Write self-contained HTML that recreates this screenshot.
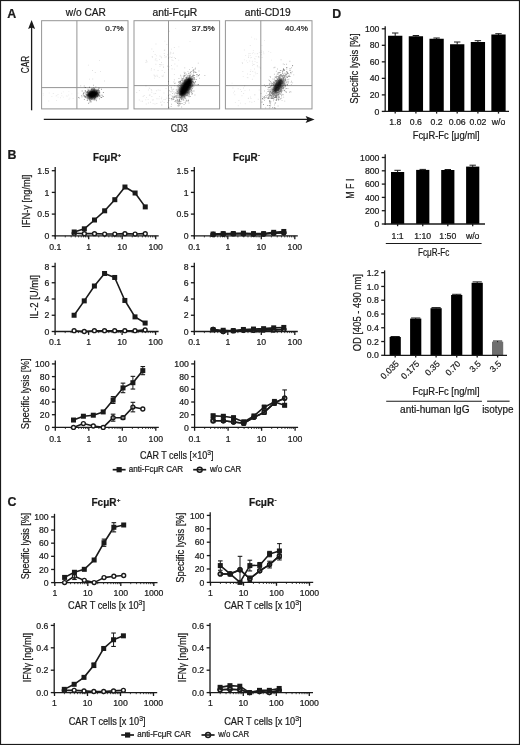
<!DOCTYPE html>
<html><head><meta charset="utf-8"><style>
html,body{margin:0;padding:0;background:#fff;}
svg{display:block;}
text{font-family:"Liberation Sans", sans-serif;stroke:#1a1a1a;stroke-width:0.22px;}
svg{filter:grayscale(1) blur(0.3px);}
</style></head><body>
<svg width="520" height="745" viewBox="0 0 520 745">
<defs><filter id="bl10" x="-50%" y="-50%" width="200%" height="200%"><feGaussianBlur stdDeviation="1.0"/></filter><filter id="bl11" x="-50%" y="-50%" width="200%" height="200%"><feGaussianBlur stdDeviation="1.1"/></filter></defs>
<rect x="0" y="0" width="520" height="745" fill="#fff"/>
<text x="7.30" y="18.30" font-size="12.4" text-anchor="start" fill="#1a1a1a" font-weight="bold" >A</text>
<line x1="31.60" y1="27.00" x2="31.60" y2="110.30" stroke="#1a1a1a" stroke-width="1.3" />
<path d="M31.6,20 L35.1,29 L31.6,27.4 L28.1,29 Z" fill="#1a1a1a"/>
<text transform="translate(28.60,64.60) rotate(-90)" font-size="10.4" text-anchor="middle" fill="#1a1a1a" textLength="17.30" lengthAdjust="spacingAndGlyphs" >CAR</text>
<line x1="43.80" y1="119.40" x2="308.00" y2="119.40" stroke="#1a1a1a" stroke-width="1.3" />
<path d="M314.6,119.4 L305.6,115.9 L307.4,119.4 L305.6,122.9 Z" fill="#1a1a1a"/>
<text x="179.30" y="131.70" font-size="10.4" text-anchor="middle" fill="#1a1a1a" textLength="17.00" lengthAdjust="spacingAndGlyphs" >CD3</text>
<rect x="41.60" y="20.70" width="86.40" height="88.20" fill="none" stroke="#959595" stroke-width="1"/>
<line x1="76.90" y1="20.70" x2="76.90" y2="108.90" stroke="#959595" stroke-width="1.0" />
<line x1="41.60" y1="87.60" x2="128.00" y2="87.60" stroke="#959595" stroke-width="1.0" />
<text x="85.90" y="15.90" font-size="10.4" text-anchor="middle" fill="#1a1a1a" textLength="40.10" lengthAdjust="spacingAndGlyphs" >w/o CAR</text>
<text x="123.60" y="31.30" font-size="7.9" text-anchor="end" fill="#1a1a1a" textLength="18.40" lengthAdjust="spacingAndGlyphs" >0.7%</text>
<ellipse cx="92.80" cy="94.20" rx="6.00" ry="4.30" transform="rotate(-12 92.80 94.20)" fill="#000" fill-opacity="1.0" filter="url(#bl10)"/>
<path d="M92.8,94.1h.9v.9h-.9zM94.6,96.1h.9v.9h-.9zM91.9,95.9h.9v.9h-.9zM88.9,95.5h.9v.9h-.9zM90.1,91.4h.9v.9h-.9zM88.7,96.4h.9v.9h-.9zM92.6,91.9h.9v.9h-.9zM99.5,95.9h.9v.9h-.9zM89.8,90.7h.9v.9h-.9zM89.9,94.2h.9v.9h-.9zM95.0,93.5h.9v.9h-.9zM93.6,89.8h.9v.9h-.9zM94.3,99.0h.9v.9h-.9zM89.5,99.2h.9v.9h-.9zM92.4,92.7h.9v.9h-.9zM96.4,95.6h.9v.9h-.9zM87.0,96.4h.9v.9h-.9zM89.1,86.8h.9v.9h-.9zM84.4,96.6h.9v.9h-.9zM87.0,95.1h.9v.9h-.9zM84.6,96.0h.9v.9h-.9zM91.1,91.1h.9v.9h-.9zM86.9,94.4h.9v.9h-.9zM93.9,93.2h.9v.9h-.9zM94.2,97.3h.9v.9h-.9zM92.2,95.2h.9v.9h-.9zM81.5,96.4h.9v.9h-.9zM91.3,99.0h.9v.9h-.9zM92.2,92.4h.9v.9h-.9zM93.1,92.7h.9v.9h-.9zM84.8,90.1h.9v.9h-.9zM91.6,99.1h.9v.9h-.9zM89.0,97.8h.9v.9h-.9zM89.7,97.5h.9v.9h-.9zM98.0,94.9h.9v.9h-.9zM89.2,95.1h.9v.9h-.9zM92.8,94.7h.9v.9h-.9zM96.6,92.4h.9v.9h-.9zM90.0,94.0h.9v.9h-.9zM92.3,94.3h.9v.9h-.9zM94.2,98.3h.9v.9h-.9zM93.4,95.6h.9v.9h-.9zM87.3,95.0h.9v.9h-.9zM92.8,92.2h.9v.9h-.9zM98.5,90.8h.9v.9h-.9zM86.8,100.2h.9v.9h-.9zM97.0,94.7h.9v.9h-.9zM93.4,94.1h.9v.9h-.9zM89.7,93.6h.9v.9h-.9zM101.1,88.8h.9v.9h-.9zM96.2,93.1h.9v.9h-.9zM87.9,97.7h.9v.9h-.9zM92.9,92.8h.9v.9h-.9zM95.3,92.8h.9v.9h-.9zM91.8,93.5h.9v.9h-.9zM95.9,93.7h.9v.9h-.9zM91.5,89.4h.9v.9h-.9zM95.7,92.7h.9v.9h-.9zM98.7,90.1h.9v.9h-.9zM90.3,97.2h.9v.9h-.9zM93.2,91.5h.9v.9h-.9zM91.1,96.1h.9v.9h-.9zM94.3,98.4h.9v.9h-.9zM87.3,94.2h.9v.9h-.9zM89.8,92.8h.9v.9h-.9zM92.0,94.7h.9v.9h-.9zM96.8,93.1h.9v.9h-.9zM97.3,90.0h.9v.9h-.9zM87.1,96.6h.9v.9h-.9zM90.5,100.7h.9v.9h-.9zM95.5,92.6h.9v.9h-.9zM83.7,95.3h.9v.9h-.9zM90.1,91.4h.9v.9h-.9zM92.6,95.0h.9v.9h-.9zM97.7,89.1h.9v.9h-.9zM95.2,90.1h.9v.9h-.9zM92.1,98.1h.9v.9h-.9zM90.6,91.7h.9v.9h-.9zM92.3,97.4h.9v.9h-.9zM100.6,97.0h.9v.9h-.9zM91.0,95.2h.9v.9h-.9zM91.8,95.9h.9v.9h-.9zM95.6,99.4h.9v.9h-.9zM92.1,93.5h.9v.9h-.9zM91.5,92.4h.9v.9h-.9zM86.9,91.1h.9v.9h-.9zM92.8,94.1h.9v.9h-.9zM91.7,98.8h.9v.9h-.9zM98.6,95.7h.9v.9h-.9zM95.2,90.6h.9v.9h-.9zM92.2,91.5h.9v.9h-.9zM95.5,91.9h.9v.9h-.9zM91.5,95.2h.9v.9h-.9zM97.4,92.4h.9v.9h-.9zM92.9,94.6h.9v.9h-.9zM95.6,94.3h.9v.9h-.9zM86.8,94.4h.9v.9h-.9zM94.3,93.6h.9v.9h-.9zM85.3,96.2h.9v.9h-.9zM83.6,95.7h.9v.9h-.9zM91.7,95.8h.9v.9h-.9zM89.9,100.4h.9v.9h-.9zM93.9,95.6h.9v.9h-.9zM102.9,92.0h.9v.9h-.9zM88.0,89.8h.9v.9h-.9zM90.2,95.7h.9v.9h-.9zM92.5,88.1h.9v.9h-.9zM94.1,89.4h.9v.9h-.9zM92.5,96.7h.9v.9h-.9zM92.3,96.3h.9v.9h-.9zM95.9,92.9h.9v.9h-.9zM94.1,88.5h.9v.9h-.9zM87.9,93.9h.9v.9h-.9zM92.0,92.1h.9v.9h-.9zM93.4,95.8h.9v.9h-.9zM89.5,101.6h.9v.9h-.9zM94.1,94.4h.9v.9h-.9zM88.5,92.5h.9v.9h-.9zM96.4,89.6h.9v.9h-.9zM93.6,93.7h.9v.9h-.9zM93.1,93.4h.9v.9h-.9zM89.4,91.2h.9v.9h-.9zM92.3,94.5h.9v.9h-.9zM83.1,92.5h.9v.9h-.9zM88.4,98.3h.9v.9h-.9zM95.1,96.8h.9v.9h-.9zM83.9,99.2h.9v.9h-.9zM96.3,91.8h.9v.9h-.9zM85.3,97.2h.9v.9h-.9zM96.1,92.9h.9v.9h-.9zM88.8,93.7h.9v.9h-.9zM96.1,92.3h.9v.9h-.9zM92.6,90.1h.9v.9h-.9zM85.0,91.2h.9v.9h-.9zM98.9,95.1h.9v.9h-.9zM99.2,92.1h.9v.9h-.9zM92.6,94.7h.9v.9h-.9zM92.2,97.2h.9v.9h-.9zM91.0,89.1h.9v.9h-.9zM87.9,92.6h.9v.9h-.9zM97.9,93.5h.9v.9h-.9zM90.6,95.7h.9v.9h-.9zM92.3,92.9h.9v.9h-.9zM89.9,97.8h.9v.9h-.9zM90.1,95.2h.9v.9h-.9zM86.3,91.7h.9v.9h-.9zM97.9,90.1h.9v.9h-.9zM92.6,96.5h.9v.9h-.9zM97.4,94.4h.9v.9h-.9zM91.7,88.4h.9v.9h-.9zM90.5,98.6h.9v.9h-.9zM91.7,96.1h.9v.9h-.9zM91.1,98.5h.9v.9h-.9zM92.6,92.9h.9v.9h-.9zM90.9,93.5h.9v.9h-.9zM90.7,91.0h.9v.9h-.9zM88.2,102.8h.9v.9h-.9zM89.1,94.3h.9v.9h-.9zM101.2,97.1h.9v.9h-.9zM89.4,92.7h.9v.9h-.9zM88.2,95.5h.9v.9h-.9zM93.3,88.8h.9v.9h-.9zM98.9,91.5h.9v.9h-.9zM86.9,98.3h.9v.9h-.9zM91.1,90.5h.9v.9h-.9zM90.6,97.8h.9v.9h-.9zM85.1,96.7h.9v.9h-.9zM95.5,90.2h.9v.9h-.9zM92.4,92.6h.9v.9h-.9zM92.8,92.6h.9v.9h-.9zM89.4,94.6h.9v.9h-.9zM94.5,92.0h.9v.9h-.9zM89.9,92.1h.9v.9h-.9zM92.0,93.2h.9v.9h-.9zM87.2,92.0h.9v.9h-.9zM86.5,91.4h.9v.9h-.9zM98.8,92.6h.9v.9h-.9zM91.1,97.1h.9v.9h-.9zM93.2,89.2h.9v.9h-.9zM92.7,94.0h.9v.9h-.9zM90.4,92.5h.9v.9h-.9zM89.9,91.6h.9v.9h-.9zM96.2,95.9h.9v.9h-.9zM91.1,92.8h.9v.9h-.9zM93.1,98.5h.9v.9h-.9zM92.4,91.7h.9v.9h-.9zM98.3,94.0h.9v.9h-.9zM95.7,92.7h.9v.9h-.9zM94.1,91.4h.9v.9h-.9zM90.6,96.3h.9v.9h-.9zM86.5,94.9h.9v.9h-.9zM97.4,94.9h.9v.9h-.9zM97.1,92.9h.9v.9h-.9zM91.5,90.9h.9v.9h-.9zM95.2,93.2h.9v.9h-.9zM96.3,93.4h.9v.9h-.9zM97.1,96.0h.9v.9h-.9zM96.4,90.5h.9v.9h-.9zM90.7,94.3h.9v.9h-.9zM98.5,87.5h.9v.9h-.9zM87.6,97.1h.9v.9h-.9zM96.0,90.0h.9v.9h-.9zM93.9,88.2h.9v.9h-.9zM96.7,93.0h.9v.9h-.9zM101.9,95.4h.9v.9h-.9zM98.5,88.1h.9v.9h-.9zM87.0,91.9h.9v.9h-.9zM84.7,93.4h.9v.9h-.9zM95.8,89.9h.9v.9h-.9zM88.5,96.1h.9v.9h-.9zM92.2,91.6h.9v.9h-.9zM96.1,91.1h.9v.9h-.9zM85.8,97.3h.9v.9h-.9zM82.8,93.8h.9v.9h-.9zM94.2,95.0h.9v.9h-.9zM92.4,91.1h.9v.9h-.9zM90.9,90.7h.9v.9h-.9zM91.8,88.6h.9v.9h-.9zM90.1,100.3h.9v.9h-.9zM85.8,94.5h.9v.9h-.9zM92.2,94.9h.9v.9h-.9zM88.4,94.8h.9v.9h-.9zM85.5,96.0h.9v.9h-.9zM95.1,93.7h.9v.9h-.9zM93.7,99.7h.9v.9h-.9zM94.0,90.6h.9v.9h-.9zM87.4,90.4h.9v.9h-.9zM89.2,91.7h.9v.9h-.9zM87.5,91.0h.9v.9h-.9zM89.3,97.0h.9v.9h-.9zM94.2,96.2h.9v.9h-.9zM88.7,91.9h.9v.9h-.9zM93.5,89.6h.9v.9h-.9zM94.1,92.6h.9v.9h-.9zM102.8,96.1h.9v.9h-.9zM84.8,87.1h.9v.9h-.9zM97.1,94.7h.9v.9h-.9zM91.7,90.9h.9v.9h-.9zM93.4,97.1h.9v.9h-.9zM85.6,92.2h.9v.9h-.9zM90.6,93.6h.9v.9h-.9zM95.2,88.9h.9v.9h-.9zM91.8,91.2h.9v.9h-.9zM94.0,98.0h.9v.9h-.9zM92.0,96.7h.9v.9h-.9zM97.7,91.7h.9v.9h-.9zM92.2,91.5h.9v.9h-.9zM81.7,90.5h.9v.9h-.9zM89.4,93.5h.9v.9h-.9zM83.9,95.8h.9v.9h-.9zM78.1,96.9h.9v.9h-.9zM90.4,94.2h.9v.9h-.9zM98.1,89.4h.9v.9h-.9zM93.0,93.8h.9v.9h-.9zM87.5,95.0h.9v.9h-.9zM89.4,98.7h.9v.9h-.9zM99.1,98.4h.9v.9h-.9zM93.4,93.4h.9v.9h-.9zM92.5,91.7h.9v.9h-.9zM92.5,93.9h.9v.9h-.9z" fill="#000" fill-opacity="0.45" stroke="none"/>
<path d="M87.5,88.8h.9v.9h-.9zM88.7,98.8h.9v.9h-.9zM92.5,93.5h.9v.9h-.9zM83.8,85.6h.9v.9h-.9zM97.5,94.6h.9v.9h-.9zM91.0,88.3h.9v.9h-.9zM93.6,88.6h.9v.9h-.9zM91.2,91.8h.9v.9h-.9zM89.1,100.0h.9v.9h-.9zM86.2,93.9h.9v.9h-.9zM91.6,95.4h.9v.9h-.9zM90.7,101.6h.9v.9h-.9zM95.9,99.9h.9v.9h-.9zM92.9,93.6h.9v.9h-.9zM83.5,95.0h.9v.9h-.9zM92.4,89.0h.9v.9h-.9zM83.2,93.2h.9v.9h-.9zM89.1,96.6h.9v.9h-.9zM91.3,96.0h.9v.9h-.9zM78.9,97.5h.9v.9h-.9zM94.5,97.8h.9v.9h-.9zM93.4,90.8h.9v.9h-.9zM91.9,94.0h.9v.9h-.9zM90.7,97.5h.9v.9h-.9zM90.9,96.8h.9v.9h-.9zM87.2,99.6h.9v.9h-.9zM91.5,95.9h.9v.9h-.9zM89.0,93.6h.9v.9h-.9zM93.9,95.3h.9v.9h-.9zM83.9,91.8h.9v.9h-.9zM93.2,87.2h.9v.9h-.9zM94.5,96.1h.9v.9h-.9zM92.0,94.0h.9v.9h-.9zM90.2,95.8h.9v.9h-.9zM95.4,86.6h.9v.9h-.9zM81.3,95.0h.9v.9h-.9zM95.7,91.0h.9v.9h-.9zM93.9,90.3h.9v.9h-.9zM93.1,84.8h.9v.9h-.9zM95.3,92.1h.9v.9h-.9zM89.3,98.5h.9v.9h-.9zM91.5,95.9h.9v.9h-.9zM96.9,90.7h.9v.9h-.9zM95.9,93.3h.9v.9h-.9zM95.0,96.7h.9v.9h-.9zM80.3,85.4h.9v.9h-.9zM96.6,92.7h.9v.9h-.9zM101.5,94.4h.9v.9h-.9zM100.5,95.2h.9v.9h-.9zM96.0,100.3h.9v.9h-.9z" fill="#000" fill-opacity="0.3" stroke="none"/>
<path d="M69.4,97.7h.9v.9h-.9zM61.1,92.7h.9v.9h-.9zM61.0,92.9h.9v.9h-.9zM65.9,95.5h.9v.9h-.9zM52.6,93.2h.9v.9h-.9zM57.6,96.7h.9v.9h-.9zM67.1,95.7h.9v.9h-.9zM77.6,92.7h.9v.9h-.9zM56.4,95.2h.9v.9h-.9zM57.5,94.1h.9v.9h-.9zM60.0,97.3h.9v.9h-.9zM71.4,93.4h.9v.9h-.9zM57.7,93.9h.9v.9h-.9zM72.7,98.0h.9v.9h-.9zM48.3,100.6h.9v.9h-.9zM56.1,100.0h.9v.9h-.9zM56.0,95.2h.9v.9h-.9zM65.9,95.5h.9v.9h-.9zM68.5,98.8h.9v.9h-.9zM42.9,94.7h.9v.9h-.9zM48.8,92.6h.9v.9h-.9zM61.4,95.3h.9v.9h-.9zM51.4,96.1h.9v.9h-.9zM42.8,92.9h.9v.9h-.9zM68.4,90.9h.9v.9h-.9zM62.9,91.4h.9v.9h-.9zM62.9,96.7h.9v.9h-.9zM53.2,93.1h.9v.9h-.9zM68.3,94.6h.9v.9h-.9zM55.6,95.5h.9v.9h-.9z" fill="#000" fill-opacity="0.08" stroke="none"/>
<path d="M100.0,71.2h.9v.9h-.9zM92.3,78.6h.9v.9h-.9zM99.0,60.2h.9v.9h-.9zM87.9,64.7h.9v.9h-.9zM92.1,70.0h.9v.9h-.9zM86.8,93.3h.9v.9h-.9zM104.1,80.6h.9v.9h-.9zM94.8,72.1h.9v.9h-.9zM89.1,78.7h.9v.9h-.9zM92.2,89.5h.9v.9h-.9z" fill="#000" fill-opacity="0.14" stroke="none"/>
<rect x="134.00" y="20.70" width="85.60" height="88.20" fill="none" stroke="#959595" stroke-width="1"/>
<line x1="168.50" y1="20.70" x2="168.50" y2="108.90" stroke="#959595" stroke-width="1.0" />
<line x1="134.00" y1="85.60" x2="219.60" y2="85.60" stroke="#959595" stroke-width="1.0" />
<text x="174.90" y="15.90" font-size="10.4" text-anchor="middle" fill="#1a1a1a" textLength="44.80" lengthAdjust="spacingAndGlyphs" >anti-Fc&#956;R</text>
<text x="214.80" y="31.30" font-size="7.9" text-anchor="end" fill="#1a1a1a" textLength="23.10" lengthAdjust="spacingAndGlyphs" >37.5%</text>
<ellipse cx="185.80" cy="87.00" rx="10.80" ry="4.50" transform="rotate(-60 185.80 87.00)" fill="#000" fill-opacity="1.0" filter="url(#bl10)"/>
<path d="M184.4,89.2h.9v.9h-.9zM184.1,90.2h.9v.9h-.9zM188.1,78.8h.9v.9h-.9zM186.8,84.2h.9v.9h-.9zM192.0,85.7h.9v.9h-.9zM178.4,88.1h.9v.9h-.9zM192.9,75.4h.9v.9h-.9zM188.9,74.9h.9v.9h-.9zM187.6,84.1h.9v.9h-.9zM189.9,84.4h.9v.9h-.9zM177.2,100.6h.9v.9h-.9zM189.5,84.6h.9v.9h-.9zM179.9,86.2h.9v.9h-.9zM189.7,86.5h.9v.9h-.9zM185.9,82.1h.9v.9h-.9zM185.4,90.7h.9v.9h-.9zM179.2,98.8h.9v.9h-.9zM179.2,81.0h.9v.9h-.9zM180.1,91.1h.9v.9h-.9zM184.4,90.0h.9v.9h-.9zM187.0,93.9h.9v.9h-.9zM184.5,90.2h.9v.9h-.9zM177.1,102.9h.9v.9h-.9zM185.6,77.3h.9v.9h-.9zM189.9,88.1h.9v.9h-.9zM194.2,83.2h.9v.9h-.9zM192.5,74.7h.9v.9h-.9zM184.5,87.0h.9v.9h-.9zM173.8,96.6h.9v.9h-.9zM184.1,94.7h.9v.9h-.9zM188.0,99.7h.9v.9h-.9zM185.1,91.9h.9v.9h-.9zM188.8,89.0h.9v.9h-.9zM179.0,101.4h.9v.9h-.9zM183.6,83.7h.9v.9h-.9zM183.0,99.4h.9v.9h-.9zM182.7,83.6h.9v.9h-.9zM184.0,87.9h.9v.9h-.9zM184.6,90.0h.9v.9h-.9zM187.2,89.4h.9v.9h-.9zM184.1,91.7h.9v.9h-.9zM183.8,92.1h.9v.9h-.9zM176.6,97.2h.9v.9h-.9zM181.3,85.6h.9v.9h-.9zM192.1,75.6h.9v.9h-.9zM190.5,73.5h.9v.9h-.9zM186.3,76.8h.9v.9h-.9zM184.1,80.9h.9v.9h-.9zM181.1,91.1h.9v.9h-.9zM185.3,75.2h.9v.9h-.9zM181.1,85.7h.9v.9h-.9zM180.2,85.3h.9v.9h-.9zM184.4,89.7h.9v.9h-.9zM186.5,87.6h.9v.9h-.9zM188.9,93.5h.9v.9h-.9zM180.5,85.6h.9v.9h-.9zM179.0,93.5h.9v.9h-.9zM186.1,91.4h.9v.9h-.9zM193.0,72.3h.9v.9h-.9zM183.8,87.4h.9v.9h-.9zM188.8,91.8h.9v.9h-.9zM186.1,83.5h.9v.9h-.9zM184.5,81.1h.9v.9h-.9zM177.2,92.6h.9v.9h-.9zM185.2,89.4h.9v.9h-.9zM189.3,82.0h.9v.9h-.9zM182.2,83.6h.9v.9h-.9zM182.7,85.1h.9v.9h-.9zM192.3,78.3h.9v.9h-.9zM184.1,92.8h.9v.9h-.9zM183.5,85.9h.9v.9h-.9zM184.8,91.9h.9v.9h-.9zM192.2,78.7h.9v.9h-.9zM172.7,97.3h.9v.9h-.9zM181.6,91.4h.9v.9h-.9zM184.2,91.6h.9v.9h-.9zM185.9,82.3h.9v.9h-.9zM181.3,80.1h.9v.9h-.9zM189.4,78.0h.9v.9h-.9zM181.2,98.9h.9v.9h-.9zM192.2,85.2h.9v.9h-.9zM177.8,85.9h.9v.9h-.9zM189.7,96.0h.9v.9h-.9zM183.9,82.2h.9v.9h-.9zM184.2,95.0h.9v.9h-.9zM180.6,103.0h.9v.9h-.9zM186.3,91.5h.9v.9h-.9zM179.8,97.5h.9v.9h-.9zM179.3,89.9h.9v.9h-.9zM188.1,86.1h.9v.9h-.9zM184.2,84.3h.9v.9h-.9zM184.0,73.2h.9v.9h-.9zM192.1,93.3h.9v.9h-.9zM181.2,98.6h.9v.9h-.9zM187.2,95.3h.9v.9h-.9zM179.0,92.0h.9v.9h-.9zM184.5,97.8h.9v.9h-.9zM191.0,87.2h.9v.9h-.9zM186.9,94.2h.9v.9h-.9zM177.5,100.3h.9v.9h-.9zM184.3,81.0h.9v.9h-.9zM184.1,87.9h.9v.9h-.9zM180.2,81.7h.9v.9h-.9zM180.7,84.1h.9v.9h-.9zM187.6,83.5h.9v.9h-.9zM182.4,85.7h.9v.9h-.9zM189.2,79.2h.9v.9h-.9zM186.3,84.6h.9v.9h-.9zM191.8,88.0h.9v.9h-.9zM190.1,86.9h.9v.9h-.9zM179.4,96.9h.9v.9h-.9zM187.7,90.5h.9v.9h-.9zM181.9,87.9h.9v.9h-.9zM184.8,85.6h.9v.9h-.9zM182.4,97.8h.9v.9h-.9zM187.7,74.9h.9v.9h-.9zM184.6,86.4h.9v.9h-.9zM176.8,93.3h.9v.9h-.9zM178.9,98.8h.9v.9h-.9zM188.5,91.9h.9v.9h-.9zM182.6,86.9h.9v.9h-.9zM182.9,92.5h.9v.9h-.9zM182.9,85.5h.9v.9h-.9zM179.4,89.8h.9v.9h-.9zM183.6,81.9h.9v.9h-.9zM186.3,94.5h.9v.9h-.9zM191.4,91.5h.9v.9h-.9zM190.0,81.9h.9v.9h-.9zM192.7,69.7h.9v.9h-.9zM183.2,95.2h.9v.9h-.9zM182.3,90.0h.9v.9h-.9zM184.1,94.2h.9v.9h-.9zM188.7,82.9h.9v.9h-.9zM181.5,95.4h.9v.9h-.9zM184.9,91.6h.9v.9h-.9zM183.3,86.8h.9v.9h-.9zM180.2,93.2h.9v.9h-.9zM176.6,91.0h.9v.9h-.9zM182.0,89.9h.9v.9h-.9zM173.2,98.9h.9v.9h-.9zM179.2,96.7h.9v.9h-.9zM180.8,88.7h.9v.9h-.9zM185.8,86.7h.9v.9h-.9zM185.6,89.4h.9v.9h-.9zM174.4,96.8h.9v.9h-.9zM181.0,89.2h.9v.9h-.9zM185.4,80.8h.9v.9h-.9zM189.2,85.1h.9v.9h-.9zM189.4,90.7h.9v.9h-.9zM184.0,94.6h.9v.9h-.9zM186.4,82.8h.9v.9h-.9zM186.9,93.6h.9v.9h-.9zM176.4,92.7h.9v.9h-.9zM186.1,95.1h.9v.9h-.9zM188.6,77.0h.9v.9h-.9zM178.1,81.6h.9v.9h-.9zM196.7,84.2h.9v.9h-.9zM187.6,93.1h.9v.9h-.9zM185.7,79.8h.9v.9h-.9zM183.2,91.7h.9v.9h-.9zM183.8,88.2h.9v.9h-.9zM194.6,71.5h.9v.9h-.9zM183.8,80.1h.9v.9h-.9zM181.2,89.7h.9v.9h-.9zM186.0,88.8h.9v.9h-.9zM186.8,85.7h.9v.9h-.9zM192.9,81.6h.9v.9h-.9zM183.4,90.8h.9v.9h-.9zM185.0,102.6h.9v.9h-.9zM182.0,88.2h.9v.9h-.9zM185.8,87.8h.9v.9h-.9zM180.1,83.7h.9v.9h-.9zM186.5,76.9h.9v.9h-.9zM189.9,87.6h.9v.9h-.9zM185.4,80.7h.9v.9h-.9zM182.3,95.5h.9v.9h-.9zM188.1,81.8h.9v.9h-.9zM190.0,72.2h.9v.9h-.9zM186.9,81.9h.9v.9h-.9zM184.5,85.0h.9v.9h-.9zM184.2,85.7h.9v.9h-.9zM193.8,77.1h.9v.9h-.9zM183.3,94.6h.9v.9h-.9zM183.0,87.3h.9v.9h-.9zM184.2,83.1h.9v.9h-.9zM188.6,83.1h.9v.9h-.9zM183.1,90.2h.9v.9h-.9zM189.0,87.1h.9v.9h-.9zM191.3,93.6h.9v.9h-.9zM187.8,88.1h.9v.9h-.9zM184.4,88.3h.9v.9h-.9zM180.2,94.6h.9v.9h-.9zM182.5,86.3h.9v.9h-.9zM185.8,80.4h.9v.9h-.9zM178.6,92.2h.9v.9h-.9zM183.0,88.4h.9v.9h-.9zM186.3,82.5h.9v.9h-.9zM183.0,95.6h.9v.9h-.9zM184.6,85.7h.9v.9h-.9zM180.5,94.1h.9v.9h-.9zM185.9,78.2h.9v.9h-.9zM198.2,75.1h.9v.9h-.9zM194.0,75.2h.9v.9h-.9zM189.1,91.8h.9v.9h-.9zM190.0,84.0h.9v.9h-.9zM189.6,89.1h.9v.9h-.9zM184.7,86.4h.9v.9h-.9zM192.8,78.6h.9v.9h-.9zM187.6,100.4h.9v.9h-.9zM185.6,78.7h.9v.9h-.9zM188.1,89.7h.9v.9h-.9zM195.0,81.1h.9v.9h-.9zM186.9,87.0h.9v.9h-.9zM184.6,93.1h.9v.9h-.9zM189.6,87.7h.9v.9h-.9zM185.9,81.6h.9v.9h-.9zM186.3,87.9h.9v.9h-.9zM184.4,82.9h.9v.9h-.9zM181.1,89.8h.9v.9h-.9zM175.2,100.3h.9v.9h-.9zM188.0,81.4h.9v.9h-.9zM188.0,83.2h.9v.9h-.9zM186.8,87.3h.9v.9h-.9zM181.2,84.7h.9v.9h-.9zM194.5,84.0h.9v.9h-.9zM186.6,92.4h.9v.9h-.9zM184.4,93.3h.9v.9h-.9zM183.3,88.1h.9v.9h-.9zM189.2,79.6h.9v.9h-.9zM181.4,97.4h.9v.9h-.9zM190.6,80.4h.9v.9h-.9zM177.8,88.9h.9v.9h-.9zM183.0,95.9h.9v.9h-.9zM198.0,84.1h.9v.9h-.9zM179.4,85.1h.9v.9h-.9zM182.9,97.6h.9v.9h-.9zM184.7,90.4h.9v.9h-.9zM188.2,81.3h.9v.9h-.9zM193.4,82.0h.9v.9h-.9zM180.0,88.3h.9v.9h-.9zM187.0,85.1h.9v.9h-.9zM191.8,85.3h.9v.9h-.9zM182.0,91.4h.9v.9h-.9zM185.1,84.5h.9v.9h-.9zM185.2,87.9h.9v.9h-.9zM181.7,90.3h.9v.9h-.9zM187.6,93.2h.9v.9h-.9zM182.7,85.6h.9v.9h-.9zM187.6,88.7h.9v.9h-.9zM179.3,89.1h.9v.9h-.9zM185.3,91.4h.9v.9h-.9zM188.9,80.1h.9v.9h-.9zM178.4,81.9h.9v.9h-.9zM188.3,81.7h.9v.9h-.9zM186.5,77.9h.9v.9h-.9zM185.9,82.9h.9v.9h-.9zM197.9,75.3h.9v.9h-.9zM178.7,91.0h.9v.9h-.9zM185.0,80.5h.9v.9h-.9zM187.9,91.9h.9v.9h-.9zM192.3,75.6h.9v.9h-.9zM195.8,79.0h.9v.9h-.9zM178.6,100.7h.9v.9h-.9zM178.9,92.3h.9v.9h-.9zM187.3,83.1h.9v.9h-.9zM191.5,84.4h.9v.9h-.9zM190.4,84.3h.9v.9h-.9zM184.7,88.0h.9v.9h-.9zM186.8,84.6h.9v.9h-.9zM187.1,83.1h.9v.9h-.9zM183.1,87.1h.9v.9h-.9zM194.4,84.0h.9v.9h-.9zM176.5,102.2h.9v.9h-.9zM184.2,81.5h.9v.9h-.9zM179.8,93.4h.9v.9h-.9zM190.7,82.5h.9v.9h-.9zM186.0,90.0h.9v.9h-.9zM181.3,93.0h.9v.9h-.9zM184.5,84.0h.9v.9h-.9zM181.7,93.5h.9v.9h-.9zM176.8,90.7h.9v.9h-.9zM175.4,95.5h.9v.9h-.9zM187.2,89.0h.9v.9h-.9zM185.5,83.5h.9v.9h-.9zM189.9,81.5h.9v.9h-.9zM187.9,90.4h.9v.9h-.9zM190.8,81.8h.9v.9h-.9zM185.1,87.4h.9v.9h-.9zM190.7,91.6h.9v.9h-.9zM189.1,84.9h.9v.9h-.9zM188.0,80.0h.9v.9h-.9zM185.8,90.9h.9v.9h-.9zM185.2,89.8h.9v.9h-.9zM182.0,87.1h.9v.9h-.9zM185.5,87.1h.9v.9h-.9zM181.2,93.1h.9v.9h-.9zM183.3,77.6h.9v.9h-.9zM183.0,89.8h.9v.9h-.9zM185.9,84.0h.9v.9h-.9zM180.7,92.1h.9v.9h-.9zM181.7,82.5h.9v.9h-.9zM185.5,84.4h.9v.9h-.9zM183.3,90.2h.9v.9h-.9zM192.9,74.5h.9v.9h-.9zM183.2,83.2h.9v.9h-.9zM193.5,77.0h.9v.9h-.9zM185.1,79.3h.9v.9h-.9zM181.9,91.4h.9v.9h-.9zM187.3,92.1h.9v.9h-.9zM184.7,83.5h.9v.9h-.9zM183.8,86.3h.9v.9h-.9zM188.2,88.9h.9v.9h-.9zM182.8,88.7h.9v.9h-.9zM177.4,98.8h.9v.9h-.9zM184.8,89.3h.9v.9h-.9zM179.7,103.6h.9v.9h-.9zM180.1,81.5h.9v.9h-.9zM179.9,90.9h.9v.9h-.9zM179.4,90.5h.9v.9h-.9zM181.1,87.1h.9v.9h-.9zM183.6,84.3h.9v.9h-.9zM177.2,95.4h.9v.9h-.9zM179.3,99.4h.9v.9h-.9zM178.5,93.0h.9v.9h-.9zM177.7,101.0h.9v.9h-.9zM182.5,94.4h.9v.9h-.9zM188.9,76.0h.9v.9h-.9zM181.4,94.6h.9v.9h-.9zM192.1,86.0h.9v.9h-.9zM180.8,96.9h.9v.9h-.9zM184.3,84.5h.9v.9h-.9zM183.6,89.5h.9v.9h-.9zM182.2,86.4h.9v.9h-.9zM187.9,84.2h.9v.9h-.9zM194.0,77.5h.9v.9h-.9zM183.4,84.9h.9v.9h-.9zM184.9,86.3h.9v.9h-.9zM184.5,95.6h.9v.9h-.9zM185.8,82.9h.9v.9h-.9zM184.6,89.4h.9v.9h-.9zM185.2,80.4h.9v.9h-.9zM182.5,86.4h.9v.9h-.9zM190.1,75.4h.9v.9h-.9zM183.6,103.9h.9v.9h-.9zM182.8,88.8h.9v.9h-.9zM186.8,80.9h.9v.9h-.9zM182.1,88.9h.9v.9h-.9zM181.6,92.4h.9v.9h-.9zM185.8,90.3h.9v.9h-.9zM180.4,96.8h.9v.9h-.9zM191.1,90.0h.9v.9h-.9zM194.7,72.0h.9v.9h-.9zM193.3,82.4h.9v.9h-.9zM181.6,95.1h.9v.9h-.9zM183.4,94.1h.9v.9h-.9zM179.5,87.8h.9v.9h-.9zM188.4,80.8h.9v.9h-.9zM181.7,92.7h.9v.9h-.9zM181.7,91.6h.9v.9h-.9zM182.4,78.3h.9v.9h-.9zM190.7,83.3h.9v.9h-.9zM182.5,89.3h.9v.9h-.9zM179.6,94.1h.9v.9h-.9zM178.5,97.2h.9v.9h-.9zM181.7,91.7h.9v.9h-.9zM177.8,102.6h.9v.9h-.9zM184.3,80.6h.9v.9h-.9zM180.1,90.1h.9v.9h-.9zM187.6,84.8h.9v.9h-.9zM192.4,75.6h.9v.9h-.9zM188.4,79.3h.9v.9h-.9zM179.1,94.1h.9v.9h-.9zM185.9,80.5h.9v.9h-.9zM189.2,79.9h.9v.9h-.9zM185.5,94.2h.9v.9h-.9zM178.5,92.0h.9v.9h-.9zM188.8,90.6h.9v.9h-.9zM181.3,99.3h.9v.9h-.9zM189.3,77.2h.9v.9h-.9zM178.2,104.4h.9v.9h-.9zM176.8,92.3h.9v.9h-.9zM179.2,86.5h.9v.9h-.9zM180.6,86.9h.9v.9h-.9zM184.5,85.8h.9v.9h-.9zM185.1,85.2h.9v.9h-.9zM182.8,88.1h.9v.9h-.9zM189.5,80.3h.9v.9h-.9zM171.1,98.0h.9v.9h-.9zM186.4,88.3h.9v.9h-.9zM178.4,89.9h.9v.9h-.9zM183.7,85.6h.9v.9h-.9zM184.7,85.4h.9v.9h-.9zM178.4,91.6h.9v.9h-.9zM178.8,89.5h.9v.9h-.9zM185.2,80.7h.9v.9h-.9zM186.3,85.2h.9v.9h-.9zM184.1,92.9h.9v.9h-.9zM194.2,75.2h.9v.9h-.9zM190.9,70.9h.9v.9h-.9zM177.3,95.7h.9v.9h-.9zM183.6,84.1h.9v.9h-.9zM195.7,71.9h.9v.9h-.9zM182.3,79.1h.9v.9h-.9zM189.3,88.0h.9v.9h-.9zM182.9,88.1h.9v.9h-.9zM180.8,89.8h.9v.9h-.9zM185.1,89.4h.9v.9h-.9zM185.8,92.7h.9v.9h-.9zM188.7,83.2h.9v.9h-.9zM186.4,91.8h.9v.9h-.9zM183.7,90.6h.9v.9h-.9zM183.9,97.3h.9v.9h-.9zM188.3,89.8h.9v.9h-.9zM181.4,93.1h.9v.9h-.9zM188.3,91.0h.9v.9h-.9zM189.4,81.0h.9v.9h-.9zM186.6,85.3h.9v.9h-.9zM184.3,82.7h.9v.9h-.9zM185.5,84.7h.9v.9h-.9zM187.4,88.4h.9v.9h-.9zM180.9,86.2h.9v.9h-.9zM185.6,90.5h.9v.9h-.9zM188.8,83.1h.9v.9h-.9zM181.7,95.0h.9v.9h-.9zM183.9,75.3h.9v.9h-.9zM184.8,87.1h.9v.9h-.9zM184.0,93.4h.9v.9h-.9zM181.1,89.5h.9v.9h-.9zM182.7,92.0h.9v.9h-.9zM179.0,82.7h.9v.9h-.9zM184.2,93.2h.9v.9h-.9zM187.4,79.0h.9v.9h-.9zM184.5,94.0h.9v.9h-.9zM171.4,99.3h.9v.9h-.9zM184.2,93.4h.9v.9h-.9zM176.8,100.2h.9v.9h-.9zM187.1,89.1h.9v.9h-.9zM186.4,79.1h.9v.9h-.9zM185.7,82.3h.9v.9h-.9zM186.2,99.8h.9v.9h-.9zM179.8,91.1h.9v.9h-.9zM189.7,74.8h.9v.9h-.9zM185.4,85.0h.9v.9h-.9zM182.2,85.8h.9v.9h-.9zM192.3,82.5h.9v.9h-.9zM199.0,74.3h.9v.9h-.9zM187.9,78.0h.9v.9h-.9zM180.7,83.8h.9v.9h-.9zM189.6,87.1h.9v.9h-.9zM190.4,85.3h.9v.9h-.9zM185.0,92.8h.9v.9h-.9zM184.2,96.2h.9v.9h-.9zM182.8,85.8h.9v.9h-.9zM181.0,93.4h.9v.9h-.9zM180.9,85.7h.9v.9h-.9zM181.4,84.6h.9v.9h-.9zM196.5,73.9h.9v.9h-.9zM179.9,92.0h.9v.9h-.9zM190.9,91.9h.9v.9h-.9zM184.6,88.7h.9v.9h-.9zM184.9,83.6h.9v.9h-.9zM191.1,82.0h.9v.9h-.9zM188.2,93.6h.9v.9h-.9zM183.3,93.6h.9v.9h-.9zM175.5,96.2h.9v.9h-.9zM182.6,94.1h.9v.9h-.9zM190.8,86.2h.9v.9h-.9zM183.8,86.4h.9v.9h-.9zM179.0,92.9h.9v.9h-.9zM186.4,91.5h.9v.9h-.9zM185.5,87.5h.9v.9h-.9zM183.8,82.5h.9v.9h-.9zM181.7,90.7h.9v.9h-.9zM182.0,87.9h.9v.9h-.9zM179.0,99.8h.9v.9h-.9zM181.0,95.2h.9v.9h-.9zM194.3,78.8h.9v.9h-.9zM178.8,102.8h.9v.9h-.9zM179.4,87.2h.9v.9h-.9zM186.9,86.7h.9v.9h-.9zM186.1,91.4h.9v.9h-.9zM183.2,93.5h.9v.9h-.9zM187.6,89.5h.9v.9h-.9zM183.5,86.7h.9v.9h-.9zM182.1,86.5h.9v.9h-.9zM180.5,101.2h.9v.9h-.9zM181.5,86.8h.9v.9h-.9zM175.8,89.6h.9v.9h-.9zM185.8,92.7h.9v.9h-.9zM183.8,84.9h.9v.9h-.9zM186.6,82.8h.9v.9h-.9zM184.5,79.4h.9v.9h-.9zM179.5,88.6h.9v.9h-.9zM185.3,79.6h.9v.9h-.9zM188.4,79.3h.9v.9h-.9zM190.3,80.7h.9v.9h-.9zM183.8,74.8h.9v.9h-.9zM186.5,89.6h.9v.9h-.9zM181.1,86.7h.9v.9h-.9zM185.1,80.4h.9v.9h-.9zM181.8,97.5h.9v.9h-.9zM185.6,86.0h.9v.9h-.9zM178.8,88.5h.9v.9h-.9zM188.7,92.8h.9v.9h-.9zM176.1,97.4h.9v.9h-.9zM182.3,93.7h.9v.9h-.9zM185.5,88.0h.9v.9h-.9zM192.2,84.0h.9v.9h-.9zM187.4,80.3h.9v.9h-.9zM187.5,89.6h.9v.9h-.9zM182.2,87.5h.9v.9h-.9zM185.0,94.7h.9v.9h-.9zM184.4,83.7h.9v.9h-.9zM183.1,88.5h.9v.9h-.9zM192.5,86.6h.9v.9h-.9zM192.4,76.6h.9v.9h-.9zM185.2,87.9h.9v.9h-.9zM185.6,100.8h.9v.9h-.9zM182.8,93.7h.9v.9h-.9zM177.3,95.7h.9v.9h-.9zM182.5,96.5h.9v.9h-.9zM186.6,77.1h.9v.9h-.9zM189.0,87.8h.9v.9h-.9zM182.6,99.3h.9v.9h-.9zM185.9,82.3h.9v.9h-.9zM188.0,78.3h.9v.9h-.9zM184.1,90.1h.9v.9h-.9zM182.5,91.9h.9v.9h-.9zM181.0,88.1h.9v.9h-.9zM187.6,86.6h.9v.9h-.9zM181.7,80.1h.9v.9h-.9zM188.2,79.1h.9v.9h-.9zM188.4,79.0h.9v.9h-.9zM188.7,79.4h.9v.9h-.9zM191.0,79.1h.9v.9h-.9zM184.1,81.2h.9v.9h-.9zM180.9,98.4h.9v.9h-.9zM184.0,88.1h.9v.9h-.9zM184.4,84.4h.9v.9h-.9zM179.8,87.8h.9v.9h-.9zM185.1,79.7h.9v.9h-.9zM184.6,90.4h.9v.9h-.9zM178.9,92.0h.9v.9h-.9zM190.6,78.2h.9v.9h-.9zM190.4,84.9h.9v.9h-.9zM188.7,87.7h.9v.9h-.9zM192.8,84.0h.9v.9h-.9zM188.2,80.1h.9v.9h-.9zM183.3,83.5h.9v.9h-.9zM178.6,105.1h.9v.9h-.9zM183.3,92.4h.9v.9h-.9zM186.4,92.3h.9v.9h-.9zM181.3,93.9h.9v.9h-.9zM189.1,88.1h.9v.9h-.9zM191.8,81.1h.9v.9h-.9zM185.2,91.8h.9v.9h-.9zM182.1,95.7h.9v.9h-.9zM193.7,75.0h.9v.9h-.9zM184.0,90.8h.9v.9h-.9zM181.0,95.9h.9v.9h-.9zM188.6,87.5h.9v.9h-.9zM185.2,83.9h.9v.9h-.9zM187.2,94.9h.9v.9h-.9zM187.7,82.2h.9v.9h-.9zM185.9,92.2h.9v.9h-.9zM181.3,93.4h.9v.9h-.9zM185.0,85.9h.9v.9h-.9zM193.5,85.7h.9v.9h-.9zM181.8,91.1h.9v.9h-.9zM182.7,83.3h.9v.9h-.9zM182.7,87.0h.9v.9h-.9zM194.7,68.6h.9v.9h-.9zM188.3,95.6h.9v.9h-.9zM190.8,78.8h.9v.9h-.9zM187.4,89.3h.9v.9h-.9zM181.7,86.7h.9v.9h-.9zM188.7,83.4h.9v.9h-.9zM190.2,82.8h.9v.9h-.9zM194.7,82.2h.9v.9h-.9zM184.3,84.3h.9v.9h-.9zM184.4,92.4h.9v.9h-.9zM183.8,91.5h.9v.9h-.9zM184.1,82.6h.9v.9h-.9zM187.1,83.7h.9v.9h-.9zM189.5,78.0h.9v.9h-.9zM180.1,81.1h.9v.9h-.9zM190.6,81.6h.9v.9h-.9zM192.2,78.5h.9v.9h-.9zM184.4,85.7h.9v.9h-.9zM175.7,95.0h.9v.9h-.9zM184.7,97.5h.9v.9h-.9zM180.3,97.3h.9v.9h-.9zM193.8,78.8h.9v.9h-.9zM185.7,95.3h.9v.9h-.9zM188.2,78.7h.9v.9h-.9zM189.4,85.0h.9v.9h-.9zM190.8,76.0h.9v.9h-.9zM188.6,80.9h.9v.9h-.9zM184.4,88.0h.9v.9h-.9zM184.2,88.8h.9v.9h-.9z" fill="#000" fill-opacity="0.4" stroke="none"/>
<path d="M188.9,77.8h.9v.9h-.9zM175.0,82.7h.9v.9h-.9zM184.9,91.5h.9v.9h-.9zM181.3,91.1h.9v.9h-.9zM181.7,83.6h.9v.9h-.9zM183.0,99.7h.9v.9h-.9zM182.8,94.7h.9v.9h-.9zM168.1,81.2h.9v.9h-.9zM179.3,93.6h.9v.9h-.9zM174.3,85.4h.9v.9h-.9zM184.0,96.7h.9v.9h-.9zM204.4,75.0h.9v.9h-.9zM186.3,73.8h.9v.9h-.9zM184.7,83.8h.9v.9h-.9zM180.5,87.9h.9v.9h-.9zM195.0,67.6h.9v.9h-.9zM186.8,86.5h.9v.9h-.9zM187.8,92.2h.9v.9h-.9zM178.8,82.5h.9v.9h-.9zM191.2,89.1h.9v.9h-.9zM184.8,71.9h.9v.9h-.9zM183.2,88.9h.9v.9h-.9zM198.5,70.6h.9v.9h-.9zM180.9,98.4h.9v.9h-.9zM181.0,78.8h.9v.9h-.9zM173.4,95.9h.9v.9h-.9zM189.1,69.2h.9v.9h-.9zM180.0,91.1h.9v.9h-.9zM187.3,91.5h.9v.9h-.9zM180.5,75.7h.9v.9h-.9zM190.7,77.0h.9v.9h-.9zM179.2,100.4h.9v.9h-.9zM182.9,92.8h.9v.9h-.9zM177.1,102.8h.9v.9h-.9zM190.1,90.6h.9v.9h-.9zM183.8,90.2h.9v.9h-.9zM184.4,93.6h.9v.9h-.9zM181.2,96.1h.9v.9h-.9zM188.7,96.4h.9v.9h-.9zM168.9,90.3h.9v.9h-.9zM191.0,86.2h.9v.9h-.9zM188.6,72.6h.9v.9h-.9zM170.7,106.0h.9v.9h-.9zM176.7,86.6h.9v.9h-.9zM170.8,87.2h.9v.9h-.9zM182.7,82.2h.9v.9h-.9zM173.7,95.5h.9v.9h-.9zM183.6,90.7h.9v.9h-.9zM169.5,94.3h.9v.9h-.9zM192.6,84.9h.9v.9h-.9zM183.8,87.7h.9v.9h-.9zM180.0,88.9h.9v.9h-.9zM180.5,82.6h.9v.9h-.9zM176.9,88.4h.9v.9h-.9zM168.5,100.2h.9v.9h-.9zM182.4,80.8h.9v.9h-.9zM183.5,85.2h.9v.9h-.9zM180.3,89.0h.9v.9h-.9zM180.2,74.8h.9v.9h-.9zM187.0,75.5h.9v.9h-.9zM172.0,96.3h.9v.9h-.9zM178.7,96.0h.9v.9h-.9zM199.0,77.8h.9v.9h-.9zM192.4,75.8h.9v.9h-.9zM176.7,94.4h.9v.9h-.9zM168.0,95.3h.9v.9h-.9zM171.8,90.5h.9v.9h-.9zM171.2,88.5h.9v.9h-.9zM177.3,105.3h.9v.9h-.9zM178.4,85.7h.9v.9h-.9zM175.7,100.6h.9v.9h-.9zM172.7,98.1h.9v.9h-.9zM187.2,79.3h.9v.9h-.9zM185.3,98.3h.9v.9h-.9zM178.3,86.9h.9v.9h-.9zM183.6,81.0h.9v.9h-.9zM182.3,78.0h.9v.9h-.9zM184.5,93.5h.9v.9h-.9zM177.2,84.9h.9v.9h-.9zM172.2,93.1h.9v.9h-.9zM184.3,67.4h.9v.9h-.9zM178.5,78.1h.9v.9h-.9zM178.6,99.9h.9v.9h-.9zM194.5,94.6h.9v.9h-.9zM180.9,78.5h.9v.9h-.9zM189.1,85.8h.9v.9h-.9zM192.7,70.9h.9v.9h-.9zM183.7,71.8h.9v.9h-.9zM177.9,92.5h.9v.9h-.9zM180.4,88.3h.9v.9h-.9zM172.0,98.7h.9v.9h-.9zM192.7,90.6h.9v.9h-.9zM173.5,81.6h.9v.9h-.9zM197.8,62.7h.9v.9h-.9zM184.1,87.9h.9v.9h-.9zM168.4,106.8h.9v.9h-.9zM179.3,94.9h.9v.9h-.9zM186.8,89.2h.9v.9h-.9zM176.3,100.6h.9v.9h-.9zM179.5,97.5h.9v.9h-.9zM183.5,93.3h.9v.9h-.9zM173.9,79.4h.9v.9h-.9zM188.3,93.4h.9v.9h-.9zM188.5,102.5h.9v.9h-.9zM190.8,82.9h.9v.9h-.9zM184.1,95.9h.9v.9h-.9zM172.6,89.2h.9v.9h-.9zM174.3,101.1h.9v.9h-.9zM174.0,93.5h.9v.9h-.9zM182.5,80.2h.9v.9h-.9zM178.3,106.2h.9v.9h-.9zM177.7,86.6h.9v.9h-.9zM185.1,80.7h.9v.9h-.9zM170.8,86.7h.9v.9h-.9zM182.5,85.3h.9v.9h-.9zM176.7,99.1h.9v.9h-.9zM185.3,73.5h.9v.9h-.9zM184.2,75.4h.9v.9h-.9zM192.4,90.6h.9v.9h-.9zM167.1,101.9h.9v.9h-.9zM171.5,95.4h.9v.9h-.9zM183.1,76.4h.9v.9h-.9zM196.7,74.5h.9v.9h-.9zM193.7,90.5h.9v.9h-.9zM190.1,76.7h.9v.9h-.9zM175.4,92.1h.9v.9h-.9zM178.9,88.7h.9v.9h-.9zM187.2,90.7h.9v.9h-.9zM179.8,81.5h.9v.9h-.9zM181.2,106.6h.9v.9h-.9zM193.7,82.5h.9v.9h-.9zM189.2,75.3h.9v.9h-.9zM179.2,100.8h.9v.9h-.9zM178.6,103.1h.9v.9h-.9zM191.4,88.6h.9v.9h-.9zM173.5,91.6h.9v.9h-.9zM184.4,79.2h.9v.9h-.9zM179.1,84.5h.9v.9h-.9zM180.0,92.9h.9v.9h-.9zM191.9,66.9h.9v.9h-.9zM177.9,84.1h.9v.9h-.9zM170.4,91.2h.9v.9h-.9zM177.9,84.6h.9v.9h-.9zM183.7,101.9h.9v.9h-.9zM187.6,100.5h.9v.9h-.9zM187.2,85.9h.9v.9h-.9zM184.9,96.4h.9v.9h-.9zM177.2,91.0h.9v.9h-.9zM190.2,71.6h.9v.9h-.9zM187.8,80.4h.9v.9h-.9zM180.9,77.4h.9v.9h-.9zM179.9,80.3h.9v.9h-.9zM185.0,83.5h.9v.9h-.9zM188.0,73.0h.9v.9h-.9zM176.7,85.4h.9v.9h-.9zM193.5,71.0h.9v.9h-.9zM175.8,96.6h.9v.9h-.9zM185.6,93.1h.9v.9h-.9zM174.9,101.4h.9v.9h-.9zM178.8,90.6h.9v.9h-.9zM185.3,83.3h.9v.9h-.9zM188.7,73.5h.9v.9h-.9zM175.3,92.7h.9v.9h-.9zM180.1,86.9h.9v.9h-.9zM183.8,93.4h.9v.9h-.9zM181.3,96.8h.9v.9h-.9zM182.1,102.9h.9v.9h-.9zM174.1,83.0h.9v.9h-.9zM171.1,103.8h.9v.9h-.9zM180.6,85.9h.9v.9h-.9zM182.9,88.2h.9v.9h-.9zM176.4,93.2h.9v.9h-.9zM174.3,96.5h.9v.9h-.9zM178.7,103.5h.9v.9h-.9zM192.5,70.3h.9v.9h-.9zM169.4,98.0h.9v.9h-.9zM196.5,76.3h.9v.9h-.9zM189.9,84.7h.9v.9h-.9zM177.3,90.1h.9v.9h-.9zM180.1,101.4h.9v.9h-.9zM183.8,76.0h.9v.9h-.9zM196.4,74.1h.9v.9h-.9zM176.1,96.5h.9v.9h-.9zM176.6,88.8h.9v.9h-.9zM185.6,76.8h.9v.9h-.9zM180.0,82.8h.9v.9h-.9zM193.3,69.1h.9v.9h-.9zM179.9,94.0h.9v.9h-.9zM185.0,82.8h.9v.9h-.9zM172.8,98.7h.9v.9h-.9zM175.0,58.2h.9v.9h-.9zM178.7,95.3h.9v.9h-.9zM161.4,104.5h.9v.9h-.9zM182.5,89.9h.9v.9h-.9zM186.8,92.3h.9v.9h-.9zM193.2,70.1h.9v.9h-.9zM178.4,90.3h.9v.9h-.9zM181.1,87.7h.9v.9h-.9zM184.4,81.9h.9v.9h-.9zM187.5,71.2h.9v.9h-.9zM178.8,87.1h.9v.9h-.9zM182.9,75.5h.9v.9h-.9zM190.4,86.0h.9v.9h-.9zM180.4,90.8h.9v.9h-.9zM187.0,89.7h.9v.9h-.9zM180.9,87.1h.9v.9h-.9zM177.6,97.1h.9v.9h-.9zM187.4,75.8h.9v.9h-.9zM177.1,102.7h.9v.9h-.9zM192.1,78.8h.9v.9h-.9zM188.1,79.3h.9v.9h-.9zM178.2,87.2h.9v.9h-.9zM174.3,93.4h.9v.9h-.9zM188.9,94.5h.9v.9h-.9zM183.1,82.7h.9v.9h-.9zM184.4,80.0h.9v.9h-.9zM190.6,89.0h.9v.9h-.9zM192.4,81.2h.9v.9h-.9zM181.7,94.8h.9v.9h-.9z" fill="#000" fill-opacity="0.25" stroke="none"/>
<path d="M160.3,64.0h.9v.9h-.9zM168.9,30.8h.9v.9h-.9zM164.0,55.1h.9v.9h-.9zM171.0,57.0h.9v.9h-.9zM173.9,68.7h.9v.9h-.9zM158.8,77.2h.9v.9h-.9zM156.6,74.8h.9v.9h-.9zM172.6,59.9h.9v.9h-.9zM171.5,59.5h.9v.9h-.9zM171.6,68.3h.9v.9h-.9zM162.5,76.0h.9v.9h-.9zM153.6,74.6h.9v.9h-.9zM162.6,64.3h.9v.9h-.9zM155.3,75.8h.9v.9h-.9zM170.2,51.7h.9v.9h-.9zM171.1,48.7h.9v.9h-.9zM175.2,27.9h.9v.9h-.9zM155.5,43.5h.9v.9h-.9zM155.4,63.8h.9v.9h-.9zM145.5,62.0h.9v.9h-.9zM142.7,96.1h.9v.9h-.9zM159.5,66.2h.9v.9h-.9zM151.8,56.0h.9v.9h-.9zM173.0,52.4h.9v.9h-.9zM171.9,56.7h.9v.9h-.9zM167.1,54.2h.9v.9h-.9zM174.4,63.6h.9v.9h-.9zM178.3,59.7h.9v.9h-.9zM164.4,40.7h.9v.9h-.9zM162.9,74.7h.9v.9h-.9zM162.9,66.3h.9v.9h-.9zM157.2,75.9h.9v.9h-.9zM178.4,46.4h.9v.9h-.9zM166.4,44.0h.9v.9h-.9zM163.9,50.1h.9v.9h-.9zM150.8,69.6h.9v.9h-.9zM159.5,55.6h.9v.9h-.9zM161.0,62.1h.9v.9h-.9zM154.7,54.1h.9v.9h-.9zM155.5,58.3h.9v.9h-.9zM169.6,56.6h.9v.9h-.9zM160.2,63.9h.9v.9h-.9zM170.4,52.5h.9v.9h-.9zM153.0,50.9h.9v.9h-.9zM156.5,60.3h.9v.9h-.9zM159.0,59.2h.9v.9h-.9zM160.6,64.7h.9v.9h-.9zM164.3,49.5h.9v.9h-.9zM167.0,66.1h.9v.9h-.9zM164.4,56.7h.9v.9h-.9zM160.7,64.1h.9v.9h-.9zM154.2,75.5h.9v.9h-.9zM172.7,53.1h.9v.9h-.9zM153.8,69.3h.9v.9h-.9zM173.9,56.9h.9v.9h-.9zM168.3,57.2h.9v.9h-.9zM154.0,77.7h.9v.9h-.9zM157.6,70.0h.9v.9h-.9zM163.1,67.2h.9v.9h-.9zM164.2,72.1h.9v.9h-.9zM161.6,75.6h.9v.9h-.9zM169.7,53.6h.9v.9h-.9zM166.9,65.6h.9v.9h-.9zM166.0,56.4h.9v.9h-.9zM168.0,68.9h.9v.9h-.9zM164.7,56.7h.9v.9h-.9zM145.9,60.5h.9v.9h-.9zM171.0,65.0h.9v.9h-.9zM167.1,54.3h.9v.9h-.9zM156.2,55.4h.9v.9h-.9zM159.1,64.1h.9v.9h-.9zM151.1,68.2h.9v.9h-.9zM176.7,65.6h.9v.9h-.9zM168.1,58.2h.9v.9h-.9zM151.9,57.2h.9v.9h-.9zM161.7,69.9h.9v.9h-.9zM163.8,53.0h.9v.9h-.9zM189.5,40.9h.9v.9h-.9zM154.8,59.5h.9v.9h-.9zM151.4,48.6h.9v.9h-.9zM165.7,56.3h.9v.9h-.9zM145.5,85.5h.9v.9h-.9zM161.2,57.3h.9v.9h-.9zM145.8,59.8h.9v.9h-.9zM173.9,47.1h.9v.9h-.9zM171.6,68.5h.9v.9h-.9zM146.8,61.4h.9v.9h-.9zM168.8,66.4h.9v.9h-.9zM160.6,56.3h.9v.9h-.9zM173.9,74.0h.9v.9h-.9z" fill="#000" fill-opacity="0.12" stroke="none"/>
<path d="M160.2,101.8h.9v.9h-.9zM152.7,102.9h.9v.9h-.9zM168.3,107.1h.9v.9h-.9zM161.3,96.7h.9v.9h-.9zM147.9,102.6h.9v.9h-.9zM163.5,92.5h.9v.9h-.9zM148.9,94.9h.9v.9h-.9zM179.4,99.3h.9v.9h-.9zM150.8,89.0h.9v.9h-.9zM147.7,99.2h.9v.9h-.9zM159.1,95.9h.9v.9h-.9zM136.3,92.1h.9v.9h-.9zM138.8,99.6h.9v.9h-.9zM149.0,94.6h.9v.9h-.9zM148.8,87.6h.9v.9h-.9zM155.9,90.3h.9v.9h-.9zM168.5,107.6h.9v.9h-.9zM149.3,87.9h.9v.9h-.9zM160.9,98.3h.9v.9h-.9zM162.2,100.7h.9v.9h-.9zM142.0,100.8h.9v.9h-.9zM157.7,89.6h.9v.9h-.9zM143.7,95.1h.9v.9h-.9zM167.8,97.8h.9v.9h-.9zM160.5,101.8h.9v.9h-.9zM155.2,93.1h.9v.9h-.9zM138.9,90.0h.9v.9h-.9zM156.4,103.0h.9v.9h-.9zM145.8,103.6h.9v.9h-.9zM163.5,99.2h.9v.9h-.9zM153.6,93.3h.9v.9h-.9zM145.3,99.4h.9v.9h-.9zM166.1,97.7h.9v.9h-.9zM163.7,102.0h.9v.9h-.9zM147.9,89.5h.9v.9h-.9zM168.9,97.7h.9v.9h-.9zM151.4,96.0h.9v.9h-.9zM151.3,90.3h.9v.9h-.9zM156.5,98.3h.9v.9h-.9zM146.0,97.2h.9v.9h-.9zM149.7,94.5h.9v.9h-.9zM153.1,99.4h.9v.9h-.9zM173.4,88.5h.9v.9h-.9zM173.0,96.7h.9v.9h-.9zM151.9,99.6h.9v.9h-.9zM174.3,98.7h.9v.9h-.9zM154.5,103.5h.9v.9h-.9zM159.6,89.8h.9v.9h-.9zM165.6,88.0h.9v.9h-.9zM158.5,98.4h.9v.9h-.9zM184.0,99.7h.9v.9h-.9zM140.6,100.7h.9v.9h-.9zM170.7,91.8h.9v.9h-.9zM150.1,101.8h.9v.9h-.9zM151.3,91.9h.9v.9h-.9zM164.8,99.0h.9v.9h-.9z" fill="#000" fill-opacity="0.12" stroke="none"/>
<rect x="225.40" y="20.70" width="86.60" height="88.20" fill="none" stroke="#959595" stroke-width="1"/>
<line x1="260.80" y1="20.70" x2="260.80" y2="108.90" stroke="#959595" stroke-width="1.0" />
<line x1="225.40" y1="85.60" x2="312.00" y2="85.60" stroke="#959595" stroke-width="1.0" />
<text x="267.80" y="15.90" font-size="10.4" text-anchor="middle" fill="#1a1a1a" textLength="45.90" lengthAdjust="spacingAndGlyphs" >anti-CD19</text>
<text x="307.80" y="31.30" font-size="7.9" text-anchor="end" fill="#1a1a1a" textLength="22.80" lengthAdjust="spacingAndGlyphs" >40.4%</text>
<ellipse cx="278.00" cy="85.80" rx="8.00" ry="3.40" transform="rotate(-60 278.00 85.80)" fill="#000" fill-opacity="0.8" filter="url(#bl11)"/>
<path d="M280.5,81.2h.9v.9h-.9zM280.6,82.7h.9v.9h-.9zM289.6,76.2h.9v.9h-.9zM285.8,88.0h.9v.9h-.9zM279.7,76.3h.9v.9h-.9zM276.7,95.0h.9v.9h-.9zM274.1,97.0h.9v.9h-.9zM284.1,76.7h.9v.9h-.9zM284.5,76.5h.9v.9h-.9zM279.5,82.6h.9v.9h-.9zM282.9,87.0h.9v.9h-.9zM280.0,86.0h.9v.9h-.9zM276.0,91.6h.9v.9h-.9zM286.9,77.2h.9v.9h-.9zM282.6,82.9h.9v.9h-.9zM280.8,83.3h.9v.9h-.9zM279.9,84.0h.9v.9h-.9zM286.5,81.4h.9v.9h-.9zM280.9,83.4h.9v.9h-.9zM280.2,80.8h.9v.9h-.9zM270.8,93.2h.9v.9h-.9zM278.6,82.1h.9v.9h-.9zM282.9,69.2h.9v.9h-.9zM276.0,90.0h.9v.9h-.9zM277.9,87.5h.9v.9h-.9zM275.2,76.8h.9v.9h-.9zM281.3,79.5h.9v.9h-.9zM281.8,82.8h.9v.9h-.9zM272.0,97.9h.9v.9h-.9zM276.8,81.2h.9v.9h-.9zM276.7,96.5h.9v.9h-.9zM272.5,91.0h.9v.9h-.9zM276.2,80.5h.9v.9h-.9zM273.4,86.7h.9v.9h-.9zM280.6,80.5h.9v.9h-.9zM292.2,65.4h.9v.9h-.9zM283.8,82.5h.9v.9h-.9zM280.9,81.4h.9v.9h-.9zM270.9,90.7h.9v.9h-.9zM273.3,89.8h.9v.9h-.9zM271.1,92.4h.9v.9h-.9zM275.1,89.7h.9v.9h-.9zM268.5,91.2h.9v.9h-.9zM275.4,91.0h.9v.9h-.9zM278.6,88.6h.9v.9h-.9zM273.4,93.0h.9v.9h-.9zM273.6,96.9h.9v.9h-.9zM269.8,94.4h.9v.9h-.9zM275.2,80.8h.9v.9h-.9zM276.0,84.8h.9v.9h-.9zM284.7,80.7h.9v.9h-.9zM284.4,80.4h.9v.9h-.9zM275.0,87.9h.9v.9h-.9zM283.5,83.3h.9v.9h-.9zM271.3,95.9h.9v.9h-.9zM290.4,72.3h.9v.9h-.9zM283.5,78.5h.9v.9h-.9zM275.5,87.0h.9v.9h-.9zM275.5,95.6h.9v.9h-.9zM276.8,82.4h.9v.9h-.9zM267.9,98.0h.9v.9h-.9zM270.6,89.5h.9v.9h-.9zM281.1,81.3h.9v.9h-.9zM277.7,85.6h.9v.9h-.9zM275.5,89.6h.9v.9h-.9zM280.0,78.9h.9v.9h-.9zM277.8,95.7h.9v.9h-.9zM277.5,83.6h.9v.9h-.9zM273.7,88.6h.9v.9h-.9zM277.9,94.1h.9v.9h-.9zM283.4,85.1h.9v.9h-.9zM274.8,93.7h.9v.9h-.9zM279.8,70.2h.9v.9h-.9zM273.7,89.4h.9v.9h-.9zM286.8,73.1h.9v.9h-.9zM273.5,94.0h.9v.9h-.9zM284.3,84.3h.9v.9h-.9zM269.2,92.6h.9v.9h-.9zM274.5,96.7h.9v.9h-.9zM276.4,84.1h.9v.9h-.9zM283.9,83.4h.9v.9h-.9zM272.6,95.1h.9v.9h-.9zM285.0,79.4h.9v.9h-.9zM272.8,90.9h.9v.9h-.9zM274.1,83.2h.9v.9h-.9zM275.9,81.8h.9v.9h-.9zM278.1,81.1h.9v.9h-.9zM268.0,97.4h.9v.9h-.9zM287.1,76.6h.9v.9h-.9zM283.5,84.2h.9v.9h-.9zM276.8,89.6h.9v.9h-.9zM270.8,91.9h.9v.9h-.9zM270.9,98.0h.9v.9h-.9zM270.5,94.8h.9v.9h-.9zM283.8,84.5h.9v.9h-.9zM277.2,89.1h.9v.9h-.9zM274.7,94.9h.9v.9h-.9zM274.5,89.3h.9v.9h-.9zM277.8,72.1h.9v.9h-.9zM274.2,87.4h.9v.9h-.9zM272.2,88.7h.9v.9h-.9zM283.7,77.2h.9v.9h-.9zM279.6,83.1h.9v.9h-.9zM275.5,84.7h.9v.9h-.9zM274.2,89.9h.9v.9h-.9zM276.2,99.5h.9v.9h-.9zM270.5,93.0h.9v.9h-.9zM273.2,88.2h.9v.9h-.9zM276.1,87.4h.9v.9h-.9zM277.0,82.6h.9v.9h-.9zM278.5,81.7h.9v.9h-.9zM279.9,85.4h.9v.9h-.9zM283.3,87.2h.9v.9h-.9zM268.8,90.6h.9v.9h-.9zM269.5,101.4h.9v.9h-.9zM275.8,89.9h.9v.9h-.9zM273.8,92.8h.9v.9h-.9zM274.6,90.5h.9v.9h-.9zM275.6,87.6h.9v.9h-.9zM275.8,96.5h.9v.9h-.9zM272.1,93.3h.9v.9h-.9zM276.9,86.7h.9v.9h-.9zM278.0,85.4h.9v.9h-.9zM275.4,91.0h.9v.9h-.9zM279.0,82.4h.9v.9h-.9zM279.6,89.3h.9v.9h-.9zM273.7,93.4h.9v.9h-.9zM278.2,86.2h.9v.9h-.9zM284.5,72.8h.9v.9h-.9zM272.2,89.5h.9v.9h-.9zM279.6,76.7h.9v.9h-.9zM279.8,74.9h.9v.9h-.9zM283.8,75.9h.9v.9h-.9zM272.5,90.9h.9v.9h-.9zM282.2,70.4h.9v.9h-.9zM278.7,85.7h.9v.9h-.9zM278.1,88.8h.9v.9h-.9zM271.8,85.2h.9v.9h-.9zM284.6,84.5h.9v.9h-.9zM277.9,85.9h.9v.9h-.9zM276.6,87.3h.9v.9h-.9zM285.4,78.7h.9v.9h-.9zM275.1,91.4h.9v.9h-.9zM272.0,92.7h.9v.9h-.9zM286.8,83.9h.9v.9h-.9zM277.2,79.6h.9v.9h-.9zM281.4,78.3h.9v.9h-.9zM276.0,95.0h.9v.9h-.9zM278.6,77.0h.9v.9h-.9zM279.1,82.6h.9v.9h-.9zM285.3,74.3h.9v.9h-.9zM279.7,98.6h.9v.9h-.9zM275.9,83.3h.9v.9h-.9zM276.4,88.1h.9v.9h-.9zM273.5,98.4h.9v.9h-.9zM275.1,91.4h.9v.9h-.9zM278.4,76.4h.9v.9h-.9zM277.0,90.1h.9v.9h-.9zM275.2,91.5h.9v.9h-.9zM282.1,80.7h.9v.9h-.9zM284.5,80.9h.9v.9h-.9zM284.2,80.8h.9v.9h-.9zM275.8,92.4h.9v.9h-.9zM278.3,87.1h.9v.9h-.9zM278.4,77.3h.9v.9h-.9zM274.8,90.6h.9v.9h-.9zM275.4,91.8h.9v.9h-.9zM279.6,79.7h.9v.9h-.9zM283.7,75.3h.9v.9h-.9zM270.9,93.1h.9v.9h-.9zM272.2,106.9h.9v.9h-.9zM278.2,99.7h.9v.9h-.9zM272.7,92.8h.9v.9h-.9zM278.2,87.8h.9v.9h-.9zM279.3,81.5h.9v.9h-.9zM280.6,89.1h.9v.9h-.9zM276.2,91.8h.9v.9h-.9zM278.4,85.2h.9v.9h-.9zM273.4,92.7h.9v.9h-.9zM277.8,86.7h.9v.9h-.9zM272.4,89.2h.9v.9h-.9zM289.6,68.3h.9v.9h-.9zM278.7,79.4h.9v.9h-.9zM276.0,92.9h.9v.9h-.9zM274.2,93.4h.9v.9h-.9zM279.0,90.9h.9v.9h-.9zM271.4,97.8h.9v.9h-.9zM277.7,92.9h.9v.9h-.9zM272.2,90.0h.9v.9h-.9zM282.6,80.9h.9v.9h-.9zM275.4,88.9h.9v.9h-.9zM275.2,92.1h.9v.9h-.9zM272.8,95.8h.9v.9h-.9zM275.8,95.9h.9v.9h-.9zM271.6,83.6h.9v.9h-.9zM277.7,88.2h.9v.9h-.9zM277.6,75.9h.9v.9h-.9zM278.6,92.5h.9v.9h-.9zM276.0,75.8h.9v.9h-.9zM275.7,82.9h.9v.9h-.9zM272.9,83.7h.9v.9h-.9zM274.7,102.8h.9v.9h-.9zM269.1,93.4h.9v.9h-.9zM280.7,81.1h.9v.9h-.9zM281.3,75.5h.9v.9h-.9zM273.3,82.0h.9v.9h-.9zM279.5,80.3h.9v.9h-.9zM277.9,90.1h.9v.9h-.9zM275.7,88.5h.9v.9h-.9zM277.8,92.3h.9v.9h-.9zM280.2,78.8h.9v.9h-.9zM278.9,83.8h.9v.9h-.9zM275.6,87.3h.9v.9h-.9zM277.3,89.0h.9v.9h-.9zM285.1,85.1h.9v.9h-.9zM279.8,84.5h.9v.9h-.9zM275.0,92.4h.9v.9h-.9zM282.3,73.1h.9v.9h-.9zM276.4,83.2h.9v.9h-.9zM281.8,88.3h.9v.9h-.9zM280.0,74.1h.9v.9h-.9zM278.9,77.6h.9v.9h-.9zM277.0,86.7h.9v.9h-.9zM278.4,81.8h.9v.9h-.9zM279.1,96.7h.9v.9h-.9zM268.5,87.2h.9v.9h-.9zM270.1,102.7h.9v.9h-.9zM284.2,78.7h.9v.9h-.9zM267.3,97.9h.9v.9h-.9zM278.3,80.4h.9v.9h-.9zM275.7,92.7h.9v.9h-.9zM278.5,95.6h.9v.9h-.9zM274.3,86.2h.9v.9h-.9zM274.1,81.9h.9v.9h-.9zM282.6,83.3h.9v.9h-.9zM288.6,76.0h.9v.9h-.9zM278.0,83.2h.9v.9h-.9zM274.7,76.6h.9v.9h-.9zM279.5,92.6h.9v.9h-.9zM279.7,80.9h.9v.9h-.9zM281.4,86.8h.9v.9h-.9zM275.7,89.4h.9v.9h-.9zM276.2,86.3h.9v.9h-.9zM276.1,86.0h.9v.9h-.9zM282.5,87.1h.9v.9h-.9zM283.2,85.5h.9v.9h-.9zM269.6,86.6h.9v.9h-.9zM272.2,90.0h.9v.9h-.9zM285.4,83.6h.9v.9h-.9zM270.2,97.6h.9v.9h-.9zM271.4,88.5h.9v.9h-.9zM283.4,75.2h.9v.9h-.9zM267.1,105.2h.9v.9h-.9zM274.7,90.9h.9v.9h-.9zM278.8,80.6h.9v.9h-.9zM270.5,97.4h.9v.9h-.9zM286.1,67.2h.9v.9h-.9zM268.8,105.0h.9v.9h-.9zM280.7,74.8h.9v.9h-.9zM282.6,74.8h.9v.9h-.9zM280.6,79.5h.9v.9h-.9zM280.5,89.7h.9v.9h-.9zM280.0,84.2h.9v.9h-.9zM273.9,92.4h.9v.9h-.9zM282.2,81.3h.9v.9h-.9zM274.5,94.7h.9v.9h-.9zM279.6,89.8h.9v.9h-.9zM282.8,79.9h.9v.9h-.9zM278.5,96.8h.9v.9h-.9zM280.0,90.8h.9v.9h-.9zM278.1,85.0h.9v.9h-.9zM271.4,95.1h.9v.9h-.9zM284.5,79.3h.9v.9h-.9zM280.3,84.6h.9v.9h-.9zM271.6,96.8h.9v.9h-.9zM273.3,84.3h.9v.9h-.9zM269.5,88.9h.9v.9h-.9zM276.1,91.4h.9v.9h-.9zM280.1,86.8h.9v.9h-.9zM277.2,92.4h.9v.9h-.9zM277.6,77.5h.9v.9h-.9zM277.9,92.7h.9v.9h-.9zM279.8,78.5h.9v.9h-.9zM278.5,87.1h.9v.9h-.9zM282.0,80.8h.9v.9h-.9zM273.3,88.8h.9v.9h-.9zM274.0,88.9h.9v.9h-.9zM267.4,91.2h.9v.9h-.9zM277.2,80.7h.9v.9h-.9zM276.0,76.9h.9v.9h-.9zM286.8,71.9h.9v.9h-.9zM282.6,77.2h.9v.9h-.9zM281.1,85.8h.9v.9h-.9zM277.8,88.2h.9v.9h-.9zM277.3,82.5h.9v.9h-.9zM278.5,86.9h.9v.9h-.9zM282.0,75.3h.9v.9h-.9zM282.9,80.4h.9v.9h-.9zM275.3,92.6h.9v.9h-.9zM272.2,89.6h.9v.9h-.9zM282.7,76.5h.9v.9h-.9zM278.9,84.1h.9v.9h-.9zM275.9,87.4h.9v.9h-.9zM284.6,79.2h.9v.9h-.9zM281.0,91.5h.9v.9h-.9zM275.5,87.6h.9v.9h-.9zM274.9,88.9h.9v.9h-.9zM263.9,96.7h.9v.9h-.9zM280.5,79.9h.9v.9h-.9zM271.8,94.1h.9v.9h-.9zM269.4,87.0h.9v.9h-.9zM275.6,91.9h.9v.9h-.9zM282.0,82.0h.9v.9h-.9zM275.3,85.6h.9v.9h-.9zM276.6,85.5h.9v.9h-.9zM268.6,96.6h.9v.9h-.9zM279.4,88.0h.9v.9h-.9zM267.8,94.3h.9v.9h-.9zM277.9,83.6h.9v.9h-.9zM284.5,86.5h.9v.9h-.9zM277.7,86.4h.9v.9h-.9zM286.6,72.5h.9v.9h-.9zM279.2,82.3h.9v.9h-.9zM276.5,80.2h.9v.9h-.9zM278.0,85.1h.9v.9h-.9zM278.0,88.2h.9v.9h-.9zM278.3,77.8h.9v.9h-.9zM282.7,78.9h.9v.9h-.9zM276.2,97.3h.9v.9h-.9zM284.6,80.4h.9v.9h-.9zM275.1,80.2h.9v.9h-.9zM278.5,77.9h.9v.9h-.9zM274.8,80.5h.9v.9h-.9zM276.0,96.6h.9v.9h-.9zM274.9,95.4h.9v.9h-.9zM286.4,74.4h.9v.9h-.9zM276.1,83.1h.9v.9h-.9zM269.0,94.5h.9v.9h-.9zM279.1,83.9h.9v.9h-.9zM276.5,88.9h.9v.9h-.9zM268.3,97.9h.9v.9h-.9zM269.4,102.6h.9v.9h-.9zM273.4,98.5h.9v.9h-.9zM279.3,84.6h.9v.9h-.9zM274.5,85.0h.9v.9h-.9zM270.7,84.8h.9v.9h-.9zM277.9,83.8h.9v.9h-.9zM280.3,82.2h.9v.9h-.9zM269.0,100.7h.9v.9h-.9zM275.3,87.7h.9v.9h-.9zM272.5,91.0h.9v.9h-.9zM275.0,96.0h.9v.9h-.9zM275.4,90.0h.9v.9h-.9zM277.5,87.3h.9v.9h-.9zM273.9,86.6h.9v.9h-.9zM270.4,95.5h.9v.9h-.9zM276.2,89.9h.9v.9h-.9zM282.3,70.5h.9v.9h-.9zM270.1,91.8h.9v.9h-.9zM270.3,97.6h.9v.9h-.9zM282.0,86.1h.9v.9h-.9zM280.4,82.3h.9v.9h-.9zM283.5,85.1h.9v.9h-.9zM273.0,93.9h.9v.9h-.9zM280.5,78.7h.9v.9h-.9zM270.7,89.7h.9v.9h-.9zM271.7,93.4h.9v.9h-.9zM279.4,92.7h.9v.9h-.9zM278.1,87.5h.9v.9h-.9zM282.4,82.3h.9v.9h-.9zM281.9,82.9h.9v.9h-.9zM277.5,86.3h.9v.9h-.9zM280.5,79.3h.9v.9h-.9zM278.2,85.8h.9v.9h-.9zM282.9,80.9h.9v.9h-.9zM273.6,96.8h.9v.9h-.9zM273.1,98.1h.9v.9h-.9zM280.9,81.0h.9v.9h-.9zM270.2,94.9h.9v.9h-.9zM275.7,87.9h.9v.9h-.9zM274.6,85.5h.9v.9h-.9zM278.6,91.2h.9v.9h-.9zM270.0,86.2h.9v.9h-.9zM282.2,76.0h.9v.9h-.9zM274.8,107.7h.9v.9h-.9zM280.0,79.4h.9v.9h-.9zM283.0,68.3h.9v.9h-.9zM277.6,86.0h.9v.9h-.9zM281.2,88.3h.9v.9h-.9zM279.9,80.8h.9v.9h-.9zM286.2,74.2h.9v.9h-.9zM273.4,94.7h.9v.9h-.9zM276.9,85.0h.9v.9h-.9zM285.8,92.2h.9v.9h-.9zM279.9,82.4h.9v.9h-.9zM276.7,84.3h.9v.9h-.9zM278.7,80.8h.9v.9h-.9zM277.1,89.7h.9v.9h-.9zM278.9,86.5h.9v.9h-.9zM277.3,92.1h.9v.9h-.9zM275.5,91.1h.9v.9h-.9zM273.0,85.0h.9v.9h-.9zM278.6,88.0h.9v.9h-.9zM272.3,94.0h.9v.9h-.9zM282.7,74.7h.9v.9h-.9zM272.9,84.9h.9v.9h-.9zM270.8,95.1h.9v.9h-.9zM279.7,77.3h.9v.9h-.9zM274.7,91.4h.9v.9h-.9zM275.4,80.4h.9v.9h-.9zM277.7,86.4h.9v.9h-.9zM278.9,84.6h.9v.9h-.9zM275.1,83.3h.9v.9h-.9zM273.7,89.3h.9v.9h-.9zM275.3,84.6h.9v.9h-.9zM287.8,73.2h.9v.9h-.9zM262.1,98.2h.9v.9h-.9zM276.9,85.2h.9v.9h-.9zM274.5,80.6h.9v.9h-.9zM272.4,93.0h.9v.9h-.9zM274.8,97.2h.9v.9h-.9zM283.9,70.0h.9v.9h-.9zM276.6,89.0h.9v.9h-.9zM283.0,70.2h.9v.9h-.9zM285.1,85.3h.9v.9h-.9zM280.5,87.0h.9v.9h-.9zM282.6,84.5h.9v.9h-.9zM276.2,79.7h.9v.9h-.9zM278.9,76.2h.9v.9h-.9zM282.3,84.7h.9v.9h-.9zM277.6,84.9h.9v.9h-.9zM277.5,84.6h.9v.9h-.9zM283.6,77.2h.9v.9h-.9zM277.1,78.5h.9v.9h-.9zM276.0,94.4h.9v.9h-.9zM275.3,90.7h.9v.9h-.9zM280.2,84.6h.9v.9h-.9zM273.4,89.6h.9v.9h-.9zM277.6,89.6h.9v.9h-.9zM272.0,91.9h.9v.9h-.9zM279.3,89.5h.9v.9h-.9zM282.4,84.9h.9v.9h-.9zM283.9,80.5h.9v.9h-.9zM279.1,86.9h.9v.9h-.9zM287.2,72.5h.9v.9h-.9zM269.7,82.7h.9v.9h-.9zM292.0,64.9h.9v.9h-.9zM280.6,78.7h.9v.9h-.9zM279.7,82.8h.9v.9h-.9zM274.9,89.3h.9v.9h-.9zM263.1,104.1h.9v.9h-.9zM275.5,86.5h.9v.9h-.9zM280.1,85.9h.9v.9h-.9zM288.8,74.7h.9v.9h-.9zM270.7,95.0h.9v.9h-.9zM282.2,71.4h.9v.9h-.9zM280.8,90.2h.9v.9h-.9zM277.8,79.8h.9v.9h-.9zM273.9,107.3h.9v.9h-.9zM278.3,85.3h.9v.9h-.9zM273.8,87.3h.9v.9h-.9zM282.9,82.9h.9v.9h-.9zM282.7,88.1h.9v.9h-.9zM269.3,92.1h.9v.9h-.9zM285.6,81.9h.9v.9h-.9zM279.4,80.9h.9v.9h-.9zM284.0,84.2h.9v.9h-.9zM280.3,78.5h.9v.9h-.9zM277.3,76.1h.9v.9h-.9zM278.9,87.1h.9v.9h-.9zM275.1,97.2h.9v.9h-.9zM278.3,99.1h.9v.9h-.9zM287.5,79.3h.9v.9h-.9zM282.2,82.2h.9v.9h-.9zM277.3,85.1h.9v.9h-.9zM274.5,88.5h.9v.9h-.9zM276.9,85.5h.9v.9h-.9zM275.3,84.8h.9v.9h-.9zM275.6,88.2h.9v.9h-.9zM267.8,87.3h.9v.9h-.9zM286.2,71.2h.9v.9h-.9zM278.4,84.5h.9v.9h-.9zM282.6,94.3h.9v.9h-.9zM274.9,96.5h.9v.9h-.9zM273.5,90.6h.9v.9h-.9zM281.9,82.0h.9v.9h-.9zM277.0,79.0h.9v.9h-.9zM275.1,86.8h.9v.9h-.9zM272.5,83.0h.9v.9h-.9zM280.5,90.5h.9v.9h-.9zM275.1,94.9h.9v.9h-.9zM279.2,75.2h.9v.9h-.9zM278.8,83.5h.9v.9h-.9zM289.6,70.1h.9v.9h-.9zM276.2,92.3h.9v.9h-.9zM278.2,87.7h.9v.9h-.9zM278.5,78.7h.9v.9h-.9zM274.9,87.0h.9v.9h-.9zM272.7,96.1h.9v.9h-.9zM276.6,94.3h.9v.9h-.9zM275.6,84.2h.9v.9h-.9zM275.7,82.1h.9v.9h-.9zM280.5,88.6h.9v.9h-.9zM278.7,77.7h.9v.9h-.9zM284.4,80.8h.9v.9h-.9zM279.5,84.3h.9v.9h-.9zM280.2,87.3h.9v.9h-.9zM281.6,90.6h.9v.9h-.9zM281.6,83.3h.9v.9h-.9zM283.2,80.9h.9v.9h-.9zM275.2,84.4h.9v.9h-.9zM277.3,82.0h.9v.9h-.9zM278.2,89.5h.9v.9h-.9zM276.6,98.5h.9v.9h-.9zM277.8,95.4h.9v.9h-.9zM287.0,84.3h.9v.9h-.9zM280.2,83.5h.9v.9h-.9zM284.1,75.3h.9v.9h-.9zM280.7,87.3h.9v.9h-.9zM280.9,80.1h.9v.9h-.9zM282.4,76.8h.9v.9h-.9zM278.4,77.6h.9v.9h-.9zM278.1,92.0h.9v.9h-.9zM273.9,85.9h.9v.9h-.9zM279.5,86.1h.9v.9h-.9zM269.9,91.0h.9v.9h-.9zM282.5,84.5h.9v.9h-.9zM278.5,77.4h.9v.9h-.9zM278.2,90.9h.9v.9h-.9zM280.5,69.9h.9v.9h-.9zM275.3,87.6h.9v.9h-.9zM280.2,89.4h.9v.9h-.9zM274.4,86.7h.9v.9h-.9zM275.1,91.3h.9v.9h-.9zM277.8,82.5h.9v.9h-.9zM271.2,82.6h.9v.9h-.9zM284.7,74.9h.9v.9h-.9zM281.1,82.6h.9v.9h-.9zM276.5,80.7h.9v.9h-.9zM278.4,88.6h.9v.9h-.9zM270.0,95.0h.9v.9h-.9zM274.4,85.3h.9v.9h-.9zM274.4,92.2h.9v.9h-.9zM279.2,78.5h.9v.9h-.9zM284.0,89.9h.9v.9h-.9zM279.5,72.1h.9v.9h-.9zM282.4,82.1h.9v.9h-.9zM283.5,81.8h.9v.9h-.9zM272.9,81.6h.9v.9h-.9zM273.5,82.1h.9v.9h-.9zM281.6,82.4h.9v.9h-.9zM279.7,79.0h.9v.9h-.9zM276.0,91.8h.9v.9h-.9zM282.7,84.4h.9v.9h-.9zM286.4,67.1h.9v.9h-.9zM274.3,85.2h.9v.9h-.9zM268.9,83.9h.9v.9h-.9zM275.6,91.4h.9v.9h-.9zM269.5,95.0h.9v.9h-.9zM283.0,78.3h.9v.9h-.9z" fill="#000" fill-opacity="0.42" stroke="none"/>
<path d="M269.8,81.1h.9v.9h-.9zM262.1,98.0h.9v.9h-.9zM284.0,69.0h.9v.9h-.9zM284.6,77.4h.9v.9h-.9zM282.9,79.6h.9v.9h-.9zM275.2,101.9h.9v.9h-.9zM281.2,94.8h.9v.9h-.9zM276.5,94.4h.9v.9h-.9zM274.6,91.7h.9v.9h-.9zM266.0,96.6h.9v.9h-.9zM274.3,80.7h.9v.9h-.9zM275.6,84.0h.9v.9h-.9zM280.0,84.4h.9v.9h-.9zM275.3,93.3h.9v.9h-.9zM283.3,74.2h.9v.9h-.9zM277.0,85.2h.9v.9h-.9zM274.6,94.6h.9v.9h-.9zM278.0,88.8h.9v.9h-.9zM283.2,78.3h.9v.9h-.9zM272.6,89.3h.9v.9h-.9zM270.4,87.6h.9v.9h-.9zM275.9,95.5h.9v.9h-.9zM282.2,81.6h.9v.9h-.9zM273.5,91.6h.9v.9h-.9zM271.7,92.7h.9v.9h-.9zM284.3,100.7h.9v.9h-.9zM275.9,79.9h.9v.9h-.9zM273.0,92.5h.9v.9h-.9zM269.7,105.5h.9v.9h-.9zM274.2,78.3h.9v.9h-.9zM273.8,95.0h.9v.9h-.9zM287.5,88.1h.9v.9h-.9zM283.3,85.9h.9v.9h-.9zM286.0,76.6h.9v.9h-.9zM285.0,78.1h.9v.9h-.9zM274.5,93.7h.9v.9h-.9zM280.7,91.5h.9v.9h-.9zM269.5,100.5h.9v.9h-.9zM283.2,69.1h.9v.9h-.9zM279.5,83.2h.9v.9h-.9zM288.3,75.3h.9v.9h-.9zM276.8,91.6h.9v.9h-.9zM274.5,66.8h.9v.9h-.9zM283.2,89.4h.9v.9h-.9zM289.0,91.8h.9v.9h-.9zM283.7,90.1h.9v.9h-.9zM278.5,80.1h.9v.9h-.9zM275.3,79.9h.9v.9h-.9zM270.2,104.6h.9v.9h-.9zM277.4,73.9h.9v.9h-.9zM277.7,94.7h.9v.9h-.9zM271.8,91.1h.9v.9h-.9zM290.3,72.0h.9v.9h-.9zM288.2,81.3h.9v.9h-.9zM265.0,86.1h.9v.9h-.9zM268.9,107.4h.9v.9h-.9zM274.2,84.1h.9v.9h-.9zM272.5,78.5h.9v.9h-.9zM273.3,86.8h.9v.9h-.9zM269.4,99.9h.9v.9h-.9zM277.9,98.2h.9v.9h-.9zM263.0,96.8h.9v.9h-.9zM283.1,87.8h.9v.9h-.9zM290.9,83.9h.9v.9h-.9zM284.9,78.3h.9v.9h-.9zM275.8,96.4h.9v.9h-.9zM277.9,85.0h.9v.9h-.9zM273.8,78.9h.9v.9h-.9zM276.9,94.1h.9v.9h-.9zM277.9,90.0h.9v.9h-.9zM291.1,67.3h.9v.9h-.9zM290.5,91.6h.9v.9h-.9zM284.8,80.1h.9v.9h-.9zM276.7,93.0h.9v.9h-.9zM284.7,90.8h.9v.9h-.9zM261.5,102.0h.9v.9h-.9zM271.0,85.0h.9v.9h-.9zM281.0,74.3h.9v.9h-.9zM284.1,64.2h.9v.9h-.9zM286.3,76.8h.9v.9h-.9zM278.7,79.6h.9v.9h-.9zM285.7,91.1h.9v.9h-.9zM281.3,97.4h.9v.9h-.9zM279.8,91.0h.9v.9h-.9zM278.0,80.2h.9v.9h-.9zM275.9,97.1h.9v.9h-.9zM285.5,79.8h.9v.9h-.9zM266.6,95.1h.9v.9h-.9zM269.6,106.7h.9v.9h-.9zM275.2,99.7h.9v.9h-.9zM269.5,105.2h.9v.9h-.9zM277.6,105.5h.9v.9h-.9zM288.5,78.7h.9v.9h-.9zM271.7,87.6h.9v.9h-.9zM278.5,85.5h.9v.9h-.9zM278.5,73.5h.9v.9h-.9zM286.0,75.9h.9v.9h-.9zM270.0,90.6h.9v.9h-.9zM288.1,76.0h.9v.9h-.9zM280.7,84.5h.9v.9h-.9zM281.6,89.8h.9v.9h-.9zM278.3,82.6h.9v.9h-.9zM262.4,98.7h.9v.9h-.9zM281.6,99.9h.9v.9h-.9zM275.4,88.2h.9v.9h-.9zM286.7,84.5h.9v.9h-.9zM277.1,92.4h.9v.9h-.9zM279.5,90.4h.9v.9h-.9zM290.7,81.9h.9v.9h-.9zM285.6,73.7h.9v.9h-.9zM287.6,82.9h.9v.9h-.9zM275.9,70.8h.9v.9h-.9zM279.1,93.8h.9v.9h-.9zM274.1,90.1h.9v.9h-.9zM277.7,83.9h.9v.9h-.9zM275.3,90.6h.9v.9h-.9zM276.0,93.6h.9v.9h-.9zM293.3,74.4h.9v.9h-.9zM266.6,85.1h.9v.9h-.9zM272.1,97.6h.9v.9h-.9zM275.7,80.7h.9v.9h-.9zM291.8,71.3h.9v.9h-.9zM275.1,85.6h.9v.9h-.9zM285.3,75.9h.9v.9h-.9zM272.6,91.1h.9v.9h-.9zM277.6,94.2h.9v.9h-.9zM278.3,97.1h.9v.9h-.9zM274.1,88.0h.9v.9h-.9zM286.3,68.6h.9v.9h-.9zM264.0,96.0h.9v.9h-.9zM286.6,71.3h.9v.9h-.9zM275.9,100.0h.9v.9h-.9zM272.9,88.6h.9v.9h-.9zM286.6,81.6h.9v.9h-.9zM269.7,76.0h.9v.9h-.9zM269.1,80.1h.9v.9h-.9zM261.6,101.2h.9v.9h-.9zM276.2,82.6h.9v.9h-.9zM271.7,98.1h.9v.9h-.9zM289.4,60.8h.9v.9h-.9zM275.4,89.5h.9v.9h-.9zM281.3,87.3h.9v.9h-.9zM268.7,98.2h.9v.9h-.9zM268.1,89.4h.9v.9h-.9zM264.1,97.8h.9v.9h-.9zM292.2,82.4h.9v.9h-.9zM263.9,84.5h.9v.9h-.9zM278.8,81.3h.9v.9h-.9zM280.6,98.1h.9v.9h-.9zM276.7,93.8h.9v.9h-.9zM279.2,72.2h.9v.9h-.9zM271.9,97.5h.9v.9h-.9zM284.8,86.2h.9v.9h-.9zM266.6,97.1h.9v.9h-.9zM278.3,93.9h.9v.9h-.9zM282.6,78.7h.9v.9h-.9zM278.1,98.6h.9v.9h-.9zM288.1,81.8h.9v.9h-.9zM271.7,93.7h.9v.9h-.9zM277.1,68.6h.9v.9h-.9zM285.4,74.8h.9v.9h-.9zM283.2,96.7h.9v.9h-.9zM279.1,91.4h.9v.9h-.9zM273.7,96.7h.9v.9h-.9zM289.7,91.2h.9v.9h-.9zM277.5,73.1h.9v.9h-.9zM274.0,104.6h.9v.9h-.9zM278.6,76.6h.9v.9h-.9zM270.4,101.3h.9v.9h-.9zM272.9,96.6h.9v.9h-.9zM282.8,63.5h.9v.9h-.9zM274.5,85.6h.9v.9h-.9zM270.2,81.1h.9v.9h-.9zM275.8,95.7h.9v.9h-.9zM279.9,75.4h.9v.9h-.9zM271.6,84.6h.9v.9h-.9zM286.1,63.8h.9v.9h-.9zM280.0,94.0h.9v.9h-.9zM276.0,86.9h.9v.9h-.9zM283.3,82.1h.9v.9h-.9zM275.3,97.2h.9v.9h-.9zM275.2,86.4h.9v.9h-.9zM273.9,73.8h.9v.9h-.9zM282.7,87.9h.9v.9h-.9zM279.5,84.1h.9v.9h-.9zM279.9,93.5h.9v.9h-.9zM268.4,79.4h.9v.9h-.9zM268.9,82.9h.9v.9h-.9zM273.5,67.3h.9v.9h-.9zM276.1,77.9h.9v.9h-.9zM280.7,92.5h.9v.9h-.9zM280.2,80.0h.9v.9h-.9zM281.3,80.0h.9v.9h-.9zM275.9,98.8h.9v.9h-.9zM265.2,107.4h.9v.9h-.9zM273.0,100.3h.9v.9h-.9zM282.2,78.3h.9v.9h-.9zM260.6,93.2h.9v.9h-.9zM272.6,91.3h.9v.9h-.9zM284.6,88.5h.9v.9h-.9zM281.0,73.9h.9v.9h-.9zM276.0,87.3h.9v.9h-.9zM273.3,87.1h.9v.9h-.9zM271.6,92.0h.9v.9h-.9zM290.6,73.4h.9v.9h-.9zM280.8,75.8h.9v.9h-.9zM271.3,86.0h.9v.9h-.9zM254.4,94.4h.9v.9h-.9zM270.0,94.3h.9v.9h-.9zM270.0,76.8h.9v.9h-.9zM264.1,90.6h.9v.9h-.9zM285.2,80.2h.9v.9h-.9zM282.1,85.5h.9v.9h-.9zM268.8,79.9h.9v.9h-.9zM284.3,82.8h.9v.9h-.9zM281.6,83.5h.9v.9h-.9zM268.6,94.5h.9v.9h-.9zM278.8,92.6h.9v.9h-.9zM280.6,59.4h.9v.9h-.9zM264.8,97.1h.9v.9h-.9zM267.3,88.9h.9v.9h-.9zM276.7,73.8h.9v.9h-.9zM280.3,91.3h.9v.9h-.9zM266.1,92.7h.9v.9h-.9zM264.4,98.4h.9v.9h-.9zM274.8,79.7h.9v.9h-.9zM282.9,77.4h.9v.9h-.9zM282.2,72.2h.9v.9h-.9zM281.3,89.0h.9v.9h-.9zM278.6,75.0h.9v.9h-.9zM265.2,95.1h.9v.9h-.9zM275.2,84.5h.9v.9h-.9zM273.6,94.6h.9v.9h-.9zM273.1,83.5h.9v.9h-.9zM281.9,80.4h.9v.9h-.9zM291.1,80.8h.9v.9h-.9zM268.9,96.3h.9v.9h-.9zM283.4,74.5h.9v.9h-.9zM281.0,95.6h.9v.9h-.9zM268.4,96.5h.9v.9h-.9zM271.7,87.2h.9v.9h-.9zM264.0,100.0h.9v.9h-.9zM278.7,88.4h.9v.9h-.9zM280.7,85.7h.9v.9h-.9zM275.0,89.2h.9v.9h-.9zM279.6,82.0h.9v.9h-.9zM281.4,93.8h.9v.9h-.9zM281.0,89.5h.9v.9h-.9zM262.5,99.0h.9v.9h-.9zM276.9,87.0h.9v.9h-.9zM272.9,96.5h.9v.9h-.9zM278.0,93.8h.9v.9h-.9zM275.1,87.9h.9v.9h-.9zM274.5,83.9h.9v.9h-.9z" fill="#000" fill-opacity="0.25" stroke="none"/>
<path d="M259.8,67.5h.9v.9h-.9zM242.8,75.9h.9v.9h-.9zM254.1,58.2h.9v.9h-.9zM247.2,62.2h.9v.9h-.9zM257.2,53.2h.9v.9h-.9zM252.3,71.1h.9v.9h-.9zM252.0,62.7h.9v.9h-.9zM254.7,71.8h.9v.9h-.9zM255.3,73.4h.9v.9h-.9zM260.8,52.1h.9v.9h-.9zM253.7,64.1h.9v.9h-.9zM256.8,53.3h.9v.9h-.9zM249.9,71.0h.9v.9h-.9zM248.3,53.3h.9v.9h-.9zM246.8,77.2h.9v.9h-.9zM252.8,63.9h.9v.9h-.9zM246.2,60.4h.9v.9h-.9zM271.0,59.7h.9v.9h-.9zM249.6,53.0h.9v.9h-.9zM248.1,57.0h.9v.9h-.9zM261.2,50.5h.9v.9h-.9zM243.9,49.5h.9v.9h-.9zM252.9,49.9h.9v.9h-.9zM249.8,45.0h.9v.9h-.9zM248.2,55.6h.9v.9h-.9zM251.9,60.8h.9v.9h-.9zM258.3,56.0h.9v.9h-.9zM258.6,66.5h.9v.9h-.9zM261.6,57.1h.9v.9h-.9zM268.2,50.9h.9v.9h-.9zM263.1,51.5h.9v.9h-.9zM249.3,60.6h.9v.9h-.9zM253.5,75.5h.9v.9h-.9zM251.1,57.2h.9v.9h-.9zM249.9,57.4h.9v.9h-.9zM270.3,52.2h.9v.9h-.9zM256.9,65.0h.9v.9h-.9zM254.5,61.2h.9v.9h-.9zM263.4,53.3h.9v.9h-.9zM256.9,66.3h.9v.9h-.9zM245.2,55.2h.9v.9h-.9zM264.1,40.2h.9v.9h-.9zM256.2,38.7h.9v.9h-.9zM258.9,52.2h.9v.9h-.9zM251.9,53.2h.9v.9h-.9zM256.8,73.1h.9v.9h-.9zM260.9,54.3h.9v.9h-.9zM249.8,54.9h.9v.9h-.9zM255.6,55.9h.9v.9h-.9zM243.9,59.4h.9v.9h-.9zM254.6,58.6h.9v.9h-.9zM256.6,62.1h.9v.9h-.9zM257.9,55.9h.9v.9h-.9zM251.2,36.7h.9v.9h-.9zM254.5,53.4h.9v.9h-.9zM247.5,77.3h.9v.9h-.9zM250.4,69.4h.9v.9h-.9zM251.9,78.8h.9v.9h-.9zM241.8,62.0h.9v.9h-.9zM260.9,54.3h.9v.9h-.9zM252.8,51.9h.9v.9h-.9zM252.0,65.2h.9v.9h-.9zM258.4,57.0h.9v.9h-.9zM254.0,68.6h.9v.9h-.9zM242.4,71.0h.9v.9h-.9zM247.1,73.5h.9v.9h-.9zM242.1,63.1h.9v.9h-.9zM254.3,38.6h.9v.9h-.9zM249.7,74.1h.9v.9h-.9zM261.5,45.2h.9v.9h-.9z" fill="#000" fill-opacity="0.11" stroke="none"/>
<path d="M234.1,90.8h.9v.9h-.9zM244.5,90.2h.9v.9h-.9zM263.0,97.6h.9v.9h-.9zM253.9,101.1h.9v.9h-.9zM243.1,87.6h.9v.9h-.9zM250.0,96.5h.9v.9h-.9zM249.0,89.5h.9v.9h-.9zM249.3,101.3h.9v.9h-.9zM241.5,95.3h.9v.9h-.9zM265.4,96.9h.9v.9h-.9zM262.0,96.1h.9v.9h-.9zM243.2,93.1h.9v.9h-.9zM232.5,87.5h.9v.9h-.9zM268.9,100.1h.9v.9h-.9zM237.7,88.3h.9v.9h-.9zM258.7,89.6h.9v.9h-.9zM267.2,94.9h.9v.9h-.9zM233.0,92.4h.9v.9h-.9zM247.8,98.2h.9v.9h-.9zM240.1,102.7h.9v.9h-.9zM250.5,98.1h.9v.9h-.9zM248.1,97.8h.9v.9h-.9zM267.6,96.8h.9v.9h-.9zM251.4,101.8h.9v.9h-.9zM244.2,85.6h.9v.9h-.9zM257.8,98.8h.9v.9h-.9zM241.0,91.0h.9v.9h-.9zM239.9,89.2h.9v.9h-.9zM271.2,96.7h.9v.9h-.9zM234.4,94.3h.9v.9h-.9zM238.4,100.1h.9v.9h-.9zM244.8,103.3h.9v.9h-.9zM231.6,82.7h.9v.9h-.9zM234.9,101.9h.9v.9h-.9zM237.8,105.3h.9v.9h-.9z" fill="#000" fill-opacity="0.11" stroke="none"/>
<text x="7.50" y="159.00" font-size="12.4" text-anchor="start" fill="#1a1a1a" font-weight="bold" >B</text>
<text x="92.90" y="160.50" font-size="10.8" text-anchor="start" fill="#1a1a1a" font-weight="bold" textLength="24.60" lengthAdjust="spacingAndGlyphs" >Fc&#956;R</text>
<text x="117.40" y="156.60" font-size="6.2" text-anchor="start" fill="#1a1a1a" font-weight="bold" >+</text>
<text x="232.90" y="160.80" font-size="10.8" text-anchor="start" fill="#1a1a1a" font-weight="bold" textLength="24.80" lengthAdjust="spacingAndGlyphs" >Fc&#956;R</text>
<text x="258.00" y="157.20" font-size="6.2" text-anchor="start" fill="#1a1a1a" font-weight="bold" >-</text>
<line x1="55.20" y1="167.00" x2="55.20" y2="236.45" stroke="#1a1a1a" stroke-width="1.3" />
<line x1="51.80" y1="235.80" x2="55.20" y2="235.80" stroke="#1a1a1a" stroke-width="1.3" />
<text x="49.40" y="238.93" font-size="8.7" text-anchor="end" fill="#1a1a1a" >0</text>
<line x1="51.80" y1="214.10" x2="55.20" y2="214.10" stroke="#1a1a1a" stroke-width="1.3" />
<text x="49.40" y="217.23" font-size="8.7" text-anchor="end" fill="#1a1a1a" >0.5</text>
<line x1="51.80" y1="192.40" x2="55.20" y2="192.40" stroke="#1a1a1a" stroke-width="1.3" />
<text x="49.40" y="195.53" font-size="8.7" text-anchor="end" fill="#1a1a1a" >1</text>
<line x1="51.80" y1="170.70" x2="55.20" y2="170.70" stroke="#1a1a1a" stroke-width="1.3" />
<text x="49.40" y="173.83" font-size="8.7" text-anchor="end" fill="#1a1a1a" >1.5</text>
<line x1="54.60" y1="235.80" x2="158.70" y2="235.80" stroke="#1a1a1a" stroke-width="1.3" />
<line x1="55.20" y1="235.80" x2="55.20" y2="239.20" stroke="#1a1a1a" stroke-width="1.3" />
<line x1="65.28" y1="235.80" x2="65.28" y2="237.40" stroke="#1a1a1a" stroke-width="0.8" />
<line x1="71.18" y1="235.80" x2="71.18" y2="237.40" stroke="#1a1a1a" stroke-width="0.8" />
<line x1="75.37" y1="235.80" x2="75.37" y2="237.40" stroke="#1a1a1a" stroke-width="0.8" />
<line x1="78.62" y1="235.80" x2="78.62" y2="237.40" stroke="#1a1a1a" stroke-width="0.8" />
<line x1="81.27" y1="235.80" x2="81.27" y2="237.40" stroke="#1a1a1a" stroke-width="0.8" />
<line x1="83.51" y1="235.80" x2="83.51" y2="237.40" stroke="#1a1a1a" stroke-width="0.8" />
<line x1="85.45" y1="235.80" x2="85.45" y2="237.40" stroke="#1a1a1a" stroke-width="0.8" />
<line x1="87.17" y1="235.80" x2="87.17" y2="237.40" stroke="#1a1a1a" stroke-width="0.8" />
<line x1="88.70" y1="235.80" x2="88.70" y2="239.20" stroke="#1a1a1a" stroke-width="1.3" />
<line x1="98.78" y1="235.80" x2="98.78" y2="237.40" stroke="#1a1a1a" stroke-width="0.8" />
<line x1="104.68" y1="235.80" x2="104.68" y2="237.40" stroke="#1a1a1a" stroke-width="0.8" />
<line x1="108.87" y1="235.80" x2="108.87" y2="237.40" stroke="#1a1a1a" stroke-width="0.8" />
<line x1="112.12" y1="235.80" x2="112.12" y2="237.40" stroke="#1a1a1a" stroke-width="0.8" />
<line x1="114.77" y1="235.80" x2="114.77" y2="237.40" stroke="#1a1a1a" stroke-width="0.8" />
<line x1="117.01" y1="235.80" x2="117.01" y2="237.40" stroke="#1a1a1a" stroke-width="0.8" />
<line x1="118.95" y1="235.80" x2="118.95" y2="237.40" stroke="#1a1a1a" stroke-width="0.8" />
<line x1="120.67" y1="235.80" x2="120.67" y2="237.40" stroke="#1a1a1a" stroke-width="0.8" />
<line x1="122.20" y1="235.80" x2="122.20" y2="239.20" stroke="#1a1a1a" stroke-width="1.3" />
<line x1="132.28" y1="235.80" x2="132.28" y2="237.40" stroke="#1a1a1a" stroke-width="0.8" />
<line x1="138.18" y1="235.80" x2="138.18" y2="237.40" stroke="#1a1a1a" stroke-width="0.8" />
<line x1="142.37" y1="235.80" x2="142.37" y2="237.40" stroke="#1a1a1a" stroke-width="0.8" />
<line x1="145.62" y1="235.80" x2="145.62" y2="237.40" stroke="#1a1a1a" stroke-width="0.8" />
<line x1="148.27" y1="235.80" x2="148.27" y2="237.40" stroke="#1a1a1a" stroke-width="0.8" />
<line x1="150.51" y1="235.80" x2="150.51" y2="237.40" stroke="#1a1a1a" stroke-width="0.8" />
<line x1="152.45" y1="235.80" x2="152.45" y2="237.40" stroke="#1a1a1a" stroke-width="0.8" />
<line x1="154.17" y1="235.80" x2="154.17" y2="237.40" stroke="#1a1a1a" stroke-width="0.8" />
<line x1="155.70" y1="235.80" x2="155.70" y2="239.20" stroke="#1a1a1a" stroke-width="1.3" />
<text x="55.20" y="249.90" font-size="8.7" text-anchor="middle" fill="#1a1a1a" >0.1</text>
<text x="88.70" y="249.90" font-size="8.7" text-anchor="middle" fill="#1a1a1a" >1</text>
<text x="122.20" y="249.90" font-size="8.7" text-anchor="middle" fill="#1a1a1a" >10</text>
<text x="155.70" y="249.90" font-size="8.7" text-anchor="middle" fill="#1a1a1a" >100</text>
<polyline points="74.20,233.20 84.35,233.63 94.50,233.63 104.65,234.06 114.80,234.06 124.95,233.63 135.10,234.06 145.25,233.63" fill="none" stroke="#1a1a1a" stroke-width="1.6" stroke-linejoin="round"/>
<circle cx="74.20" cy="233.20" r="1.95" fill="white" stroke="#1a1a1a" stroke-width="1.4"/>
<circle cx="84.35" cy="233.63" r="1.95" fill="white" stroke="#1a1a1a" stroke-width="1.4"/>
<circle cx="94.50" cy="233.63" r="1.95" fill="white" stroke="#1a1a1a" stroke-width="1.4"/>
<circle cx="104.65" cy="234.06" r="1.95" fill="white" stroke="#1a1a1a" stroke-width="1.4"/>
<circle cx="114.80" cy="234.06" r="1.95" fill="white" stroke="#1a1a1a" stroke-width="1.4"/>
<circle cx="124.95" cy="233.63" r="1.95" fill="white" stroke="#1a1a1a" stroke-width="1.4"/>
<circle cx="135.10" cy="234.06" r="1.95" fill="white" stroke="#1a1a1a" stroke-width="1.4"/>
<circle cx="145.25" cy="233.63" r="1.95" fill="white" stroke="#1a1a1a" stroke-width="1.4"/>
<polyline points="74.20,231.98 84.35,228.81 94.50,220.00 104.65,210.80 114.80,199.69 124.95,187.02 135.10,193.01 145.25,206.90" fill="none" stroke="#1a1a1a" stroke-width="1.6" stroke-linejoin="round"/>
<rect x="71.70" y="229.48" width="5.00" height="5.00" fill="#1a1a1a" />
<rect x="81.85" y="226.31" width="5.00" height="5.00" fill="#1a1a1a" />
<rect x="92.00" y="217.50" width="5.00" height="5.00" fill="#1a1a1a" />
<rect x="102.15" y="208.30" width="5.00" height="5.00" fill="#1a1a1a" />
<rect x="112.30" y="197.19" width="5.00" height="5.00" fill="#1a1a1a" />
<rect x="122.45" y="184.52" width="5.00" height="5.00" fill="#1a1a1a" />
<rect x="132.60" y="190.51" width="5.00" height="5.00" fill="#1a1a1a" />
<rect x="142.75" y="204.40" width="5.00" height="5.00" fill="#1a1a1a" />
<line x1="194.30" y1="167.00" x2="194.30" y2="236.45" stroke="#1a1a1a" stroke-width="1.3" />
<line x1="190.90" y1="235.80" x2="194.30" y2="235.80" stroke="#1a1a1a" stroke-width="1.3" />
<text x="188.50" y="238.93" font-size="8.7" text-anchor="end" fill="#1a1a1a" >0</text>
<line x1="190.90" y1="214.10" x2="194.30" y2="214.10" stroke="#1a1a1a" stroke-width="1.3" />
<text x="188.50" y="217.23" font-size="8.7" text-anchor="end" fill="#1a1a1a" >0.5</text>
<line x1="190.90" y1="192.40" x2="194.30" y2="192.40" stroke="#1a1a1a" stroke-width="1.3" />
<text x="188.50" y="195.53" font-size="8.7" text-anchor="end" fill="#1a1a1a" >1</text>
<line x1="190.90" y1="170.70" x2="194.30" y2="170.70" stroke="#1a1a1a" stroke-width="1.3" />
<text x="188.50" y="173.83" font-size="8.7" text-anchor="end" fill="#1a1a1a" >1.5</text>
<line x1="193.70" y1="235.80" x2="297.80" y2="235.80" stroke="#1a1a1a" stroke-width="1.3" />
<line x1="194.30" y1="235.80" x2="194.30" y2="239.20" stroke="#1a1a1a" stroke-width="1.3" />
<line x1="204.38" y1="235.80" x2="204.38" y2="237.40" stroke="#1a1a1a" stroke-width="0.8" />
<line x1="210.28" y1="235.80" x2="210.28" y2="237.40" stroke="#1a1a1a" stroke-width="0.8" />
<line x1="214.47" y1="235.80" x2="214.47" y2="237.40" stroke="#1a1a1a" stroke-width="0.8" />
<line x1="217.72" y1="235.80" x2="217.72" y2="237.40" stroke="#1a1a1a" stroke-width="0.8" />
<line x1="220.37" y1="235.80" x2="220.37" y2="237.40" stroke="#1a1a1a" stroke-width="0.8" />
<line x1="222.61" y1="235.80" x2="222.61" y2="237.40" stroke="#1a1a1a" stroke-width="0.8" />
<line x1="224.55" y1="235.80" x2="224.55" y2="237.40" stroke="#1a1a1a" stroke-width="0.8" />
<line x1="226.27" y1="235.80" x2="226.27" y2="237.40" stroke="#1a1a1a" stroke-width="0.8" />
<line x1="227.80" y1="235.80" x2="227.80" y2="239.20" stroke="#1a1a1a" stroke-width="1.3" />
<line x1="237.88" y1="235.80" x2="237.88" y2="237.40" stroke="#1a1a1a" stroke-width="0.8" />
<line x1="243.78" y1="235.80" x2="243.78" y2="237.40" stroke="#1a1a1a" stroke-width="0.8" />
<line x1="247.97" y1="235.80" x2="247.97" y2="237.40" stroke="#1a1a1a" stroke-width="0.8" />
<line x1="251.22" y1="235.80" x2="251.22" y2="237.40" stroke="#1a1a1a" stroke-width="0.8" />
<line x1="253.87" y1="235.80" x2="253.87" y2="237.40" stroke="#1a1a1a" stroke-width="0.8" />
<line x1="256.11" y1="235.80" x2="256.11" y2="237.40" stroke="#1a1a1a" stroke-width="0.8" />
<line x1="258.05" y1="235.80" x2="258.05" y2="237.40" stroke="#1a1a1a" stroke-width="0.8" />
<line x1="259.77" y1="235.80" x2="259.77" y2="237.40" stroke="#1a1a1a" stroke-width="0.8" />
<line x1="261.30" y1="235.80" x2="261.30" y2="239.20" stroke="#1a1a1a" stroke-width="1.3" />
<line x1="271.38" y1="235.80" x2="271.38" y2="237.40" stroke="#1a1a1a" stroke-width="0.8" />
<line x1="277.28" y1="235.80" x2="277.28" y2="237.40" stroke="#1a1a1a" stroke-width="0.8" />
<line x1="281.47" y1="235.80" x2="281.47" y2="237.40" stroke="#1a1a1a" stroke-width="0.8" />
<line x1="284.72" y1="235.80" x2="284.72" y2="237.40" stroke="#1a1a1a" stroke-width="0.8" />
<line x1="287.37" y1="235.80" x2="287.37" y2="237.40" stroke="#1a1a1a" stroke-width="0.8" />
<line x1="289.61" y1="235.80" x2="289.61" y2="237.40" stroke="#1a1a1a" stroke-width="0.8" />
<line x1="291.55" y1="235.80" x2="291.55" y2="237.40" stroke="#1a1a1a" stroke-width="0.8" />
<line x1="293.27" y1="235.80" x2="293.27" y2="237.40" stroke="#1a1a1a" stroke-width="0.8" />
<line x1="294.80" y1="235.80" x2="294.80" y2="239.20" stroke="#1a1a1a" stroke-width="1.3" />
<text x="194.30" y="249.90" font-size="8.7" text-anchor="middle" fill="#1a1a1a" >0.1</text>
<text x="227.80" y="249.90" font-size="8.7" text-anchor="middle" fill="#1a1a1a" >1</text>
<text x="261.30" y="249.90" font-size="8.7" text-anchor="middle" fill="#1a1a1a" >10</text>
<text x="294.80" y="249.90" font-size="8.7" text-anchor="middle" fill="#1a1a1a" >100</text>
<polyline points="213.10,234.50 223.20,234.06 233.30,233.63 243.40,233.63 253.50,234.06 263.60,234.06 273.70,233.20 283.80,232.76" fill="none" stroke="#1a1a1a" stroke-width="1.6" stroke-linejoin="round"/>
<circle cx="213.10" cy="234.50" r="1.95" fill="white" stroke="#1a1a1a" stroke-width="1.4"/>
<circle cx="223.20" cy="234.06" r="1.95" fill="white" stroke="#1a1a1a" stroke-width="1.4"/>
<circle cx="233.30" cy="233.63" r="1.95" fill="white" stroke="#1a1a1a" stroke-width="1.4"/>
<circle cx="243.40" cy="233.63" r="1.95" fill="white" stroke="#1a1a1a" stroke-width="1.4"/>
<circle cx="253.50" cy="234.06" r="1.95" fill="white" stroke="#1a1a1a" stroke-width="1.4"/>
<circle cx="263.60" cy="234.06" r="1.95" fill="white" stroke="#1a1a1a" stroke-width="1.4"/>
<circle cx="273.70" cy="233.20" r="1.95" fill="white" stroke="#1a1a1a" stroke-width="1.4"/>
<circle cx="283.80" cy="232.76" r="1.95" fill="white" stroke="#1a1a1a" stroke-width="1.4"/>
<polyline points="213.10,234.06 223.20,233.63 233.30,233.63 243.40,233.20 253.50,233.63 263.60,233.63 273.70,232.33 283.80,231.46" fill="none" stroke="#1a1a1a" stroke-width="1.6" stroke-linejoin="round"/>
<rect x="210.60" y="231.56" width="5.00" height="5.00" fill="#1a1a1a" />
<rect x="220.70" y="231.13" width="5.00" height="5.00" fill="#1a1a1a" />
<rect x="230.80" y="231.13" width="5.00" height="5.00" fill="#1a1a1a" />
<rect x="240.90" y="230.70" width="5.00" height="5.00" fill="#1a1a1a" />
<rect x="251.00" y="231.13" width="5.00" height="5.00" fill="#1a1a1a" />
<rect x="261.10" y="231.13" width="5.00" height="5.00" fill="#1a1a1a" />
<rect x="271.20" y="229.83" width="5.00" height="5.00" fill="#1a1a1a" />
<rect x="281.30" y="228.96" width="5.00" height="5.00" fill="#1a1a1a" />
<polyline points="213.10,234.50 223.20,234.06 233.30,233.63 243.40,233.63 253.50,234.06 263.60,234.06 273.70,233.20 283.80,232.76" fill="none" stroke="#1a1a1a" stroke-width="1.5"/>
<circle cx="213.10" cy="234.50" r="1.95" fill="none" stroke="#1a1a1a" stroke-width="1.4"/>
<circle cx="223.20" cy="234.06" r="1.95" fill="none" stroke="#1a1a1a" stroke-width="1.4"/>
<circle cx="233.30" cy="233.63" r="1.95" fill="none" stroke="#1a1a1a" stroke-width="1.4"/>
<circle cx="243.40" cy="233.63" r="1.95" fill="none" stroke="#1a1a1a" stroke-width="1.4"/>
<circle cx="253.50" cy="234.06" r="1.95" fill="none" stroke="#1a1a1a" stroke-width="1.4"/>
<circle cx="263.60" cy="234.06" r="1.95" fill="none" stroke="#1a1a1a" stroke-width="1.4"/>
<circle cx="273.70" cy="233.20" r="1.95" fill="none" stroke="#1a1a1a" stroke-width="1.4"/>
<circle cx="283.80" cy="232.76" r="1.95" fill="none" stroke="#1a1a1a" stroke-width="1.4"/>
<text transform="translate(29.50,201.20) rotate(-90)" font-size="10.4" text-anchor="middle" fill="#1a1a1a" textLength="53.00" lengthAdjust="spacingAndGlyphs" >IFN-&#947; [ng/ml]</text>
<line x1="55.10" y1="262.70" x2="55.10" y2="332.15" stroke="#1a1a1a" stroke-width="1.3" />
<line x1="51.70" y1="331.50" x2="55.10" y2="331.50" stroke="#1a1a1a" stroke-width="1.3" />
<text x="49.30" y="334.63" font-size="8.7" text-anchor="end" fill="#1a1a1a" >0</text>
<line x1="51.70" y1="315.25" x2="55.10" y2="315.25" stroke="#1a1a1a" stroke-width="1.3" />
<text x="49.30" y="318.38" font-size="8.7" text-anchor="end" fill="#1a1a1a" >2</text>
<line x1="51.70" y1="299.00" x2="55.10" y2="299.00" stroke="#1a1a1a" stroke-width="1.3" />
<text x="49.30" y="302.13" font-size="8.7" text-anchor="end" fill="#1a1a1a" >4</text>
<line x1="51.70" y1="282.75" x2="55.10" y2="282.75" stroke="#1a1a1a" stroke-width="1.3" />
<text x="49.30" y="285.88" font-size="8.7" text-anchor="end" fill="#1a1a1a" >6</text>
<line x1="51.70" y1="266.50" x2="55.10" y2="266.50" stroke="#1a1a1a" stroke-width="1.3" />
<text x="49.30" y="269.63" font-size="8.7" text-anchor="end" fill="#1a1a1a" >8</text>
<line x1="54.50" y1="331.50" x2="158.60" y2="331.50" stroke="#1a1a1a" stroke-width="1.3" />
<line x1="55.10" y1="331.50" x2="55.10" y2="334.90" stroke="#1a1a1a" stroke-width="1.3" />
<line x1="65.18" y1="331.50" x2="65.18" y2="333.10" stroke="#1a1a1a" stroke-width="0.8" />
<line x1="71.08" y1="331.50" x2="71.08" y2="333.10" stroke="#1a1a1a" stroke-width="0.8" />
<line x1="75.27" y1="331.50" x2="75.27" y2="333.10" stroke="#1a1a1a" stroke-width="0.8" />
<line x1="78.52" y1="331.50" x2="78.52" y2="333.10" stroke="#1a1a1a" stroke-width="0.8" />
<line x1="81.17" y1="331.50" x2="81.17" y2="333.10" stroke="#1a1a1a" stroke-width="0.8" />
<line x1="83.41" y1="331.50" x2="83.41" y2="333.10" stroke="#1a1a1a" stroke-width="0.8" />
<line x1="85.35" y1="331.50" x2="85.35" y2="333.10" stroke="#1a1a1a" stroke-width="0.8" />
<line x1="87.07" y1="331.50" x2="87.07" y2="333.10" stroke="#1a1a1a" stroke-width="0.8" />
<line x1="88.60" y1="331.50" x2="88.60" y2="334.90" stroke="#1a1a1a" stroke-width="1.3" />
<line x1="98.68" y1="331.50" x2="98.68" y2="333.10" stroke="#1a1a1a" stroke-width="0.8" />
<line x1="104.58" y1="331.50" x2="104.58" y2="333.10" stroke="#1a1a1a" stroke-width="0.8" />
<line x1="108.77" y1="331.50" x2="108.77" y2="333.10" stroke="#1a1a1a" stroke-width="0.8" />
<line x1="112.02" y1="331.50" x2="112.02" y2="333.10" stroke="#1a1a1a" stroke-width="0.8" />
<line x1="114.67" y1="331.50" x2="114.67" y2="333.10" stroke="#1a1a1a" stroke-width="0.8" />
<line x1="116.91" y1="331.50" x2="116.91" y2="333.10" stroke="#1a1a1a" stroke-width="0.8" />
<line x1="118.85" y1="331.50" x2="118.85" y2="333.10" stroke="#1a1a1a" stroke-width="0.8" />
<line x1="120.57" y1="331.50" x2="120.57" y2="333.10" stroke="#1a1a1a" stroke-width="0.8" />
<line x1="122.10" y1="331.50" x2="122.10" y2="334.90" stroke="#1a1a1a" stroke-width="1.3" />
<line x1="132.18" y1="331.50" x2="132.18" y2="333.10" stroke="#1a1a1a" stroke-width="0.8" />
<line x1="138.08" y1="331.50" x2="138.08" y2="333.10" stroke="#1a1a1a" stroke-width="0.8" />
<line x1="142.27" y1="331.50" x2="142.27" y2="333.10" stroke="#1a1a1a" stroke-width="0.8" />
<line x1="145.52" y1="331.50" x2="145.52" y2="333.10" stroke="#1a1a1a" stroke-width="0.8" />
<line x1="148.17" y1="331.50" x2="148.17" y2="333.10" stroke="#1a1a1a" stroke-width="0.8" />
<line x1="150.41" y1="331.50" x2="150.41" y2="333.10" stroke="#1a1a1a" stroke-width="0.8" />
<line x1="152.35" y1="331.50" x2="152.35" y2="333.10" stroke="#1a1a1a" stroke-width="0.8" />
<line x1="154.07" y1="331.50" x2="154.07" y2="333.10" stroke="#1a1a1a" stroke-width="0.8" />
<line x1="155.60" y1="331.50" x2="155.60" y2="334.90" stroke="#1a1a1a" stroke-width="1.3" />
<text x="55.10" y="345.30" font-size="8.7" text-anchor="middle" fill="#1a1a1a" >0.1</text>
<text x="88.60" y="345.30" font-size="8.7" text-anchor="middle" fill="#1a1a1a" >1</text>
<text x="122.10" y="345.30" font-size="8.7" text-anchor="middle" fill="#1a1a1a" >10</text>
<text x="155.60" y="345.30" font-size="8.7" text-anchor="middle" fill="#1a1a1a" >100</text>
<polyline points="74.10,330.69 84.25,331.50 94.40,330.69 104.55,330.69 114.70,330.69 124.85,330.69 135.00,330.69 145.15,329.88" fill="none" stroke="#1a1a1a" stroke-width="1.6" stroke-linejoin="round"/>
<circle cx="74.10" cy="330.69" r="1.95" fill="white" stroke="#1a1a1a" stroke-width="1.4"/>
<circle cx="84.25" cy="331.50" r="1.95" fill="white" stroke="#1a1a1a" stroke-width="1.4"/>
<circle cx="94.40" cy="330.69" r="1.95" fill="white" stroke="#1a1a1a" stroke-width="1.4"/>
<circle cx="104.55" cy="330.69" r="1.95" fill="white" stroke="#1a1a1a" stroke-width="1.4"/>
<circle cx="114.70" cy="330.69" r="1.95" fill="white" stroke="#1a1a1a" stroke-width="1.4"/>
<circle cx="124.85" cy="330.69" r="1.95" fill="white" stroke="#1a1a1a" stroke-width="1.4"/>
<circle cx="135.00" cy="330.69" r="1.95" fill="white" stroke="#1a1a1a" stroke-width="1.4"/>
<circle cx="145.15" cy="329.88" r="1.95" fill="white" stroke="#1a1a1a" stroke-width="1.4"/>
<polyline points="74.10,315.25 84.25,300.87 94.40,286.00 104.55,273.49 114.70,277.47 124.85,300.46 135.00,316.88 145.15,323.05" fill="none" stroke="#1a1a1a" stroke-width="1.6" stroke-linejoin="round"/>
<rect x="71.60" y="312.75" width="5.00" height="5.00" fill="#1a1a1a" />
<rect x="81.75" y="298.37" width="5.00" height="5.00" fill="#1a1a1a" />
<rect x="91.90" y="283.50" width="5.00" height="5.00" fill="#1a1a1a" />
<rect x="102.05" y="270.99" width="5.00" height="5.00" fill="#1a1a1a" />
<rect x="112.20" y="274.97" width="5.00" height="5.00" fill="#1a1a1a" />
<rect x="122.35" y="297.96" width="5.00" height="5.00" fill="#1a1a1a" />
<rect x="132.50" y="314.38" width="5.00" height="5.00" fill="#1a1a1a" />
<rect x="142.65" y="320.55" width="5.00" height="5.00" fill="#1a1a1a" />
<line x1="194.30" y1="262.70" x2="194.30" y2="332.15" stroke="#1a1a1a" stroke-width="1.3" />
<line x1="190.90" y1="331.50" x2="194.30" y2="331.50" stroke="#1a1a1a" stroke-width="1.3" />
<text x="188.50" y="334.63" font-size="8.7" text-anchor="end" fill="#1a1a1a" >0</text>
<line x1="190.90" y1="315.25" x2="194.30" y2="315.25" stroke="#1a1a1a" stroke-width="1.3" />
<text x="188.50" y="318.38" font-size="8.7" text-anchor="end" fill="#1a1a1a" >2</text>
<line x1="190.90" y1="299.00" x2="194.30" y2="299.00" stroke="#1a1a1a" stroke-width="1.3" />
<text x="188.50" y="302.13" font-size="8.7" text-anchor="end" fill="#1a1a1a" >4</text>
<line x1="190.90" y1="282.75" x2="194.30" y2="282.75" stroke="#1a1a1a" stroke-width="1.3" />
<text x="188.50" y="285.88" font-size="8.7" text-anchor="end" fill="#1a1a1a" >6</text>
<line x1="190.90" y1="266.50" x2="194.30" y2="266.50" stroke="#1a1a1a" stroke-width="1.3" />
<text x="188.50" y="269.63" font-size="8.7" text-anchor="end" fill="#1a1a1a" >8</text>
<line x1="193.70" y1="331.50" x2="297.80" y2="331.50" stroke="#1a1a1a" stroke-width="1.3" />
<line x1="194.30" y1="331.50" x2="194.30" y2="334.90" stroke="#1a1a1a" stroke-width="1.3" />
<line x1="204.38" y1="331.50" x2="204.38" y2="333.10" stroke="#1a1a1a" stroke-width="0.8" />
<line x1="210.28" y1="331.50" x2="210.28" y2="333.10" stroke="#1a1a1a" stroke-width="0.8" />
<line x1="214.47" y1="331.50" x2="214.47" y2="333.10" stroke="#1a1a1a" stroke-width="0.8" />
<line x1="217.72" y1="331.50" x2="217.72" y2="333.10" stroke="#1a1a1a" stroke-width="0.8" />
<line x1="220.37" y1="331.50" x2="220.37" y2="333.10" stroke="#1a1a1a" stroke-width="0.8" />
<line x1="222.61" y1="331.50" x2="222.61" y2="333.10" stroke="#1a1a1a" stroke-width="0.8" />
<line x1="224.55" y1="331.50" x2="224.55" y2="333.10" stroke="#1a1a1a" stroke-width="0.8" />
<line x1="226.27" y1="331.50" x2="226.27" y2="333.10" stroke="#1a1a1a" stroke-width="0.8" />
<line x1="227.80" y1="331.50" x2="227.80" y2="334.90" stroke="#1a1a1a" stroke-width="1.3" />
<line x1="237.88" y1="331.50" x2="237.88" y2="333.10" stroke="#1a1a1a" stroke-width="0.8" />
<line x1="243.78" y1="331.50" x2="243.78" y2="333.10" stroke="#1a1a1a" stroke-width="0.8" />
<line x1="247.97" y1="331.50" x2="247.97" y2="333.10" stroke="#1a1a1a" stroke-width="0.8" />
<line x1="251.22" y1="331.50" x2="251.22" y2="333.10" stroke="#1a1a1a" stroke-width="0.8" />
<line x1="253.87" y1="331.50" x2="253.87" y2="333.10" stroke="#1a1a1a" stroke-width="0.8" />
<line x1="256.11" y1="331.50" x2="256.11" y2="333.10" stroke="#1a1a1a" stroke-width="0.8" />
<line x1="258.05" y1="331.50" x2="258.05" y2="333.10" stroke="#1a1a1a" stroke-width="0.8" />
<line x1="259.77" y1="331.50" x2="259.77" y2="333.10" stroke="#1a1a1a" stroke-width="0.8" />
<line x1="261.30" y1="331.50" x2="261.30" y2="334.90" stroke="#1a1a1a" stroke-width="1.3" />
<line x1="271.38" y1="331.50" x2="271.38" y2="333.10" stroke="#1a1a1a" stroke-width="0.8" />
<line x1="277.28" y1="331.50" x2="277.28" y2="333.10" stroke="#1a1a1a" stroke-width="0.8" />
<line x1="281.47" y1="331.50" x2="281.47" y2="333.10" stroke="#1a1a1a" stroke-width="0.8" />
<line x1="284.72" y1="331.50" x2="284.72" y2="333.10" stroke="#1a1a1a" stroke-width="0.8" />
<line x1="287.37" y1="331.50" x2="287.37" y2="333.10" stroke="#1a1a1a" stroke-width="0.8" />
<line x1="289.61" y1="331.50" x2="289.61" y2="333.10" stroke="#1a1a1a" stroke-width="0.8" />
<line x1="291.55" y1="331.50" x2="291.55" y2="333.10" stroke="#1a1a1a" stroke-width="0.8" />
<line x1="293.27" y1="331.50" x2="293.27" y2="333.10" stroke="#1a1a1a" stroke-width="0.8" />
<line x1="294.80" y1="331.50" x2="294.80" y2="334.90" stroke="#1a1a1a" stroke-width="1.3" />
<text x="194.30" y="345.30" font-size="8.7" text-anchor="middle" fill="#1a1a1a" >0.1</text>
<text x="227.80" y="345.30" font-size="8.7" text-anchor="middle" fill="#1a1a1a" >1</text>
<text x="261.30" y="345.30" font-size="8.7" text-anchor="middle" fill="#1a1a1a" >10</text>
<text x="294.80" y="345.30" font-size="8.7" text-anchor="middle" fill="#1a1a1a" >100</text>
<polyline points="213.10,329.47 223.20,331.50 233.30,330.69 243.40,330.28 253.50,330.28 263.60,329.88 273.70,329.88 283.80,329.47" fill="none" stroke="#1a1a1a" stroke-width="1.6" stroke-linejoin="round"/>
<circle cx="213.10" cy="329.47" r="1.95" fill="white" stroke="#1a1a1a" stroke-width="1.4"/>
<circle cx="223.20" cy="331.50" r="1.95" fill="white" stroke="#1a1a1a" stroke-width="1.4"/>
<circle cx="233.30" cy="330.69" r="1.95" fill="white" stroke="#1a1a1a" stroke-width="1.4"/>
<circle cx="243.40" cy="330.28" r="1.95" fill="white" stroke="#1a1a1a" stroke-width="1.4"/>
<circle cx="253.50" cy="330.28" r="1.95" fill="white" stroke="#1a1a1a" stroke-width="1.4"/>
<circle cx="263.60" cy="329.88" r="1.95" fill="white" stroke="#1a1a1a" stroke-width="1.4"/>
<circle cx="273.70" cy="329.88" r="1.95" fill="white" stroke="#1a1a1a" stroke-width="1.4"/>
<circle cx="283.80" cy="329.47" r="1.95" fill="white" stroke="#1a1a1a" stroke-width="1.4"/>
<polyline points="213.10,329.88 223.20,330.28 233.30,330.69 243.40,329.47 253.50,329.06 263.60,328.66 273.70,327.84 283.80,327.44" fill="none" stroke="#1a1a1a" stroke-width="1.6" stroke-linejoin="round"/>
<rect x="210.60" y="327.38" width="5.00" height="5.00" fill="#1a1a1a" />
<rect x="220.70" y="327.78" width="5.00" height="5.00" fill="#1a1a1a" />
<rect x="230.80" y="328.19" width="5.00" height="5.00" fill="#1a1a1a" />
<rect x="240.90" y="326.97" width="5.00" height="5.00" fill="#1a1a1a" />
<rect x="251.00" y="326.56" width="5.00" height="5.00" fill="#1a1a1a" />
<rect x="261.10" y="326.16" width="5.00" height="5.00" fill="#1a1a1a" />
<rect x="271.20" y="325.34" width="5.00" height="5.00" fill="#1a1a1a" />
<rect x="281.30" y="324.94" width="5.00" height="5.00" fill="#1a1a1a" />
<polyline points="213.10,329.47 223.20,331.50 233.30,330.69 243.40,330.28 253.50,330.28 263.60,329.88 273.70,329.88 283.80,329.47" fill="none" stroke="#1a1a1a" stroke-width="1.5"/>
<circle cx="213.10" cy="329.47" r="1.95" fill="none" stroke="#1a1a1a" stroke-width="1.4"/>
<circle cx="223.20" cy="331.50" r="1.95" fill="none" stroke="#1a1a1a" stroke-width="1.4"/>
<circle cx="233.30" cy="330.69" r="1.95" fill="none" stroke="#1a1a1a" stroke-width="1.4"/>
<circle cx="243.40" cy="330.28" r="1.95" fill="none" stroke="#1a1a1a" stroke-width="1.4"/>
<circle cx="253.50" cy="330.28" r="1.95" fill="none" stroke="#1a1a1a" stroke-width="1.4"/>
<circle cx="263.60" cy="329.88" r="1.95" fill="none" stroke="#1a1a1a" stroke-width="1.4"/>
<circle cx="273.70" cy="329.88" r="1.95" fill="none" stroke="#1a1a1a" stroke-width="1.4"/>
<circle cx="283.80" cy="329.47" r="1.95" fill="none" stroke="#1a1a1a" stroke-width="1.4"/>
<text transform="translate(38.00,296.90) rotate(-90)" font-size="10.4" text-anchor="middle" fill="#1a1a1a" textLength="43.80" lengthAdjust="spacingAndGlyphs" >IL-2 [U/ml]</text>
<line x1="55.30" y1="360.50" x2="55.30" y2="428.05" stroke="#1a1a1a" stroke-width="1.3" />
<line x1="51.90" y1="427.40" x2="55.30" y2="427.40" stroke="#1a1a1a" stroke-width="1.3" />
<text x="49.50" y="430.53" font-size="8.7" text-anchor="end" fill="#1a1a1a" >0</text>
<line x1="51.90" y1="414.70" x2="55.30" y2="414.70" stroke="#1a1a1a" stroke-width="1.3" />
<text x="49.50" y="417.83" font-size="8.7" text-anchor="end" fill="#1a1a1a" >20</text>
<line x1="51.90" y1="402.00" x2="55.30" y2="402.00" stroke="#1a1a1a" stroke-width="1.3" />
<text x="49.50" y="405.13" font-size="8.7" text-anchor="end" fill="#1a1a1a" >40</text>
<line x1="51.90" y1="389.30" x2="55.30" y2="389.30" stroke="#1a1a1a" stroke-width="1.3" />
<text x="49.50" y="392.43" font-size="8.7" text-anchor="end" fill="#1a1a1a" >60</text>
<line x1="51.90" y1="376.60" x2="55.30" y2="376.60" stroke="#1a1a1a" stroke-width="1.3" />
<text x="49.50" y="379.73" font-size="8.7" text-anchor="end" fill="#1a1a1a" >80</text>
<line x1="51.90" y1="363.90" x2="55.30" y2="363.90" stroke="#1a1a1a" stroke-width="1.3" />
<text x="49.50" y="367.03" font-size="8.7" text-anchor="end" fill="#1a1a1a" >100</text>
<line x1="54.70" y1="427.40" x2="158.80" y2="427.40" stroke="#1a1a1a" stroke-width="1.3" />
<line x1="55.30" y1="427.40" x2="55.30" y2="430.80" stroke="#1a1a1a" stroke-width="1.3" />
<line x1="65.38" y1="427.40" x2="65.38" y2="429.00" stroke="#1a1a1a" stroke-width="0.8" />
<line x1="71.28" y1="427.40" x2="71.28" y2="429.00" stroke="#1a1a1a" stroke-width="0.8" />
<line x1="75.47" y1="427.40" x2="75.47" y2="429.00" stroke="#1a1a1a" stroke-width="0.8" />
<line x1="78.72" y1="427.40" x2="78.72" y2="429.00" stroke="#1a1a1a" stroke-width="0.8" />
<line x1="81.37" y1="427.40" x2="81.37" y2="429.00" stroke="#1a1a1a" stroke-width="0.8" />
<line x1="83.61" y1="427.40" x2="83.61" y2="429.00" stroke="#1a1a1a" stroke-width="0.8" />
<line x1="85.55" y1="427.40" x2="85.55" y2="429.00" stroke="#1a1a1a" stroke-width="0.8" />
<line x1="87.27" y1="427.40" x2="87.27" y2="429.00" stroke="#1a1a1a" stroke-width="0.8" />
<line x1="88.80" y1="427.40" x2="88.80" y2="430.80" stroke="#1a1a1a" stroke-width="1.3" />
<line x1="98.88" y1="427.40" x2="98.88" y2="429.00" stroke="#1a1a1a" stroke-width="0.8" />
<line x1="104.78" y1="427.40" x2="104.78" y2="429.00" stroke="#1a1a1a" stroke-width="0.8" />
<line x1="108.97" y1="427.40" x2="108.97" y2="429.00" stroke="#1a1a1a" stroke-width="0.8" />
<line x1="112.22" y1="427.40" x2="112.22" y2="429.00" stroke="#1a1a1a" stroke-width="0.8" />
<line x1="114.87" y1="427.40" x2="114.87" y2="429.00" stroke="#1a1a1a" stroke-width="0.8" />
<line x1="117.11" y1="427.40" x2="117.11" y2="429.00" stroke="#1a1a1a" stroke-width="0.8" />
<line x1="119.05" y1="427.40" x2="119.05" y2="429.00" stroke="#1a1a1a" stroke-width="0.8" />
<line x1="120.77" y1="427.40" x2="120.77" y2="429.00" stroke="#1a1a1a" stroke-width="0.8" />
<line x1="122.30" y1="427.40" x2="122.30" y2="430.80" stroke="#1a1a1a" stroke-width="1.3" />
<line x1="132.38" y1="427.40" x2="132.38" y2="429.00" stroke="#1a1a1a" stroke-width="0.8" />
<line x1="138.28" y1="427.40" x2="138.28" y2="429.00" stroke="#1a1a1a" stroke-width="0.8" />
<line x1="142.47" y1="427.40" x2="142.47" y2="429.00" stroke="#1a1a1a" stroke-width="0.8" />
<line x1="145.72" y1="427.40" x2="145.72" y2="429.00" stroke="#1a1a1a" stroke-width="0.8" />
<line x1="148.37" y1="427.40" x2="148.37" y2="429.00" stroke="#1a1a1a" stroke-width="0.8" />
<line x1="150.61" y1="427.40" x2="150.61" y2="429.00" stroke="#1a1a1a" stroke-width="0.8" />
<line x1="152.55" y1="427.40" x2="152.55" y2="429.00" stroke="#1a1a1a" stroke-width="0.8" />
<line x1="154.27" y1="427.40" x2="154.27" y2="429.00" stroke="#1a1a1a" stroke-width="0.8" />
<line x1="155.80" y1="427.40" x2="155.80" y2="430.80" stroke="#1a1a1a" stroke-width="1.3" />
<text x="55.30" y="441.60" font-size="8.7" text-anchor="middle" fill="#1a1a1a" >0.1</text>
<text x="88.80" y="441.60" font-size="8.7" text-anchor="middle" fill="#1a1a1a" >1</text>
<text x="122.30" y="441.60" font-size="8.7" text-anchor="middle" fill="#1a1a1a" >10</text>
<text x="155.80" y="441.60" font-size="8.7" text-anchor="middle" fill="#1a1a1a" >100</text>
<polyline points="73.50,427.40 83.40,423.53 93.30,426.00 103.20,427.40 113.10,417.68 123.00,417.68 132.90,407.08 142.80,408.98" fill="none" stroke="#1a1a1a" stroke-width="1.6" stroke-linejoin="round"/>
<circle cx="73.50" cy="427.40" r="1.95" fill="white" stroke="#1a1a1a" stroke-width="1.4"/>
<circle cx="83.40" cy="423.53" r="1.95" fill="white" stroke="#1a1a1a" stroke-width="1.4"/>
<circle cx="93.30" cy="426.00" r="1.95" fill="white" stroke="#1a1a1a" stroke-width="1.4"/>
<circle cx="103.20" cy="427.40" r="1.95" fill="white" stroke="#1a1a1a" stroke-width="1.4"/>
<circle cx="113.10" cy="417.68" r="1.95" fill="white" stroke="#1a1a1a" stroke-width="1.4"/>
<circle cx="123.00" cy="417.68" r="1.95" fill="white" stroke="#1a1a1a" stroke-width="1.4"/>
<circle cx="132.90" cy="407.08" r="1.95" fill="white" stroke="#1a1a1a" stroke-width="1.4"/>
<circle cx="142.80" cy="408.98" r="1.95" fill="white" stroke="#1a1a1a" stroke-width="1.4"/>
<line x1="113.10" y1="414.19" x2="113.10" y2="421.18" stroke="#1a1a1a" stroke-width="1.0" />
<line x1="110.80" y1="414.19" x2="115.40" y2="414.19" stroke="#1a1a1a" stroke-width="1.1" />
<line x1="110.80" y1="421.18" x2="115.40" y2="421.18" stroke="#1a1a1a" stroke-width="1.1" />
<line x1="123.00" y1="416.10" x2="123.00" y2="419.27" stroke="#1a1a1a" stroke-width="1.0" />
<line x1="120.70" y1="416.10" x2="125.30" y2="416.10" stroke="#1a1a1a" stroke-width="1.1" />
<line x1="120.70" y1="419.27" x2="125.30" y2="419.27" stroke="#1a1a1a" stroke-width="1.1" />
<line x1="132.90" y1="402.32" x2="132.90" y2="411.84" stroke="#1a1a1a" stroke-width="1.0" />
<line x1="130.60" y1="402.32" x2="135.20" y2="402.32" stroke="#1a1a1a" stroke-width="1.1" />
<line x1="130.60" y1="411.84" x2="135.20" y2="411.84" stroke="#1a1a1a" stroke-width="1.1" />
<polyline points="73.50,420.03 83.40,416.22 93.30,415.21 103.20,411.91 113.10,400.03 123.00,387.90 132.90,382.70 142.80,370.63" fill="none" stroke="#1a1a1a" stroke-width="1.6" stroke-linejoin="round"/>
<rect x="71.00" y="417.53" width="5.00" height="5.00" fill="#1a1a1a" />
<rect x="80.90" y="413.72" width="5.00" height="5.00" fill="#1a1a1a" />
<rect x="90.80" y="412.71" width="5.00" height="5.00" fill="#1a1a1a" />
<rect x="100.70" y="409.41" width="5.00" height="5.00" fill="#1a1a1a" />
<rect x="110.60" y="397.53" width="5.00" height="5.00" fill="#1a1a1a" />
<rect x="120.50" y="385.40" width="5.00" height="5.00" fill="#1a1a1a" />
<rect x="130.40" y="380.20" width="5.00" height="5.00" fill="#1a1a1a" />
<rect x="140.30" y="368.13" width="5.00" height="5.00" fill="#1a1a1a" />
<line x1="113.10" y1="396.60" x2="113.10" y2="403.46" stroke="#1a1a1a" stroke-width="1.0" />
<line x1="110.80" y1="396.60" x2="115.40" y2="396.60" stroke="#1a1a1a" stroke-width="1.1" />
<line x1="110.80" y1="403.46" x2="115.40" y2="403.46" stroke="#1a1a1a" stroke-width="1.1" />
<line x1="123.00" y1="383.14" x2="123.00" y2="392.67" stroke="#1a1a1a" stroke-width="1.0" />
<line x1="120.70" y1="383.14" x2="125.30" y2="383.14" stroke="#1a1a1a" stroke-width="1.1" />
<line x1="120.70" y1="392.67" x2="125.30" y2="392.67" stroke="#1a1a1a" stroke-width="1.1" />
<line x1="132.90" y1="376.35" x2="132.90" y2="389.05" stroke="#1a1a1a" stroke-width="1.0" />
<line x1="130.60" y1="376.35" x2="135.20" y2="376.35" stroke="#1a1a1a" stroke-width="1.1" />
<line x1="130.60" y1="389.05" x2="135.20" y2="389.05" stroke="#1a1a1a" stroke-width="1.1" />
<line x1="142.80" y1="366.57" x2="142.80" y2="374.69" stroke="#1a1a1a" stroke-width="1.0" />
<line x1="140.50" y1="366.57" x2="145.10" y2="366.57" stroke="#1a1a1a" stroke-width="1.1" />
<line x1="140.50" y1="374.69" x2="145.10" y2="374.69" stroke="#1a1a1a" stroke-width="1.1" />
<line x1="194.60" y1="360.50" x2="194.60" y2="428.05" stroke="#1a1a1a" stroke-width="1.3" />
<line x1="191.20" y1="427.40" x2="194.60" y2="427.40" stroke="#1a1a1a" stroke-width="1.3" />
<text x="188.80" y="430.53" font-size="8.7" text-anchor="end" fill="#1a1a1a" >0</text>
<line x1="191.20" y1="414.70" x2="194.60" y2="414.70" stroke="#1a1a1a" stroke-width="1.3" />
<text x="188.80" y="417.83" font-size="8.7" text-anchor="end" fill="#1a1a1a" >20</text>
<line x1="191.20" y1="402.00" x2="194.60" y2="402.00" stroke="#1a1a1a" stroke-width="1.3" />
<text x="188.80" y="405.13" font-size="8.7" text-anchor="end" fill="#1a1a1a" >40</text>
<line x1="191.20" y1="389.30" x2="194.60" y2="389.30" stroke="#1a1a1a" stroke-width="1.3" />
<text x="188.80" y="392.43" font-size="8.7" text-anchor="end" fill="#1a1a1a" >60</text>
<line x1="191.20" y1="376.60" x2="194.60" y2="376.60" stroke="#1a1a1a" stroke-width="1.3" />
<text x="188.80" y="379.73" font-size="8.7" text-anchor="end" fill="#1a1a1a" >80</text>
<line x1="191.20" y1="363.90" x2="194.60" y2="363.90" stroke="#1a1a1a" stroke-width="1.3" />
<text x="188.80" y="367.03" font-size="8.7" text-anchor="end" fill="#1a1a1a" >100</text>
<line x1="194.00" y1="427.40" x2="298.10" y2="427.40" stroke="#1a1a1a" stroke-width="1.3" />
<line x1="194.60" y1="427.40" x2="194.60" y2="430.80" stroke="#1a1a1a" stroke-width="1.3" />
<line x1="204.68" y1="427.40" x2="204.68" y2="429.00" stroke="#1a1a1a" stroke-width="0.8" />
<line x1="210.58" y1="427.40" x2="210.58" y2="429.00" stroke="#1a1a1a" stroke-width="0.8" />
<line x1="214.77" y1="427.40" x2="214.77" y2="429.00" stroke="#1a1a1a" stroke-width="0.8" />
<line x1="218.02" y1="427.40" x2="218.02" y2="429.00" stroke="#1a1a1a" stroke-width="0.8" />
<line x1="220.67" y1="427.40" x2="220.67" y2="429.00" stroke="#1a1a1a" stroke-width="0.8" />
<line x1="222.91" y1="427.40" x2="222.91" y2="429.00" stroke="#1a1a1a" stroke-width="0.8" />
<line x1="224.85" y1="427.40" x2="224.85" y2="429.00" stroke="#1a1a1a" stroke-width="0.8" />
<line x1="226.57" y1="427.40" x2="226.57" y2="429.00" stroke="#1a1a1a" stroke-width="0.8" />
<line x1="228.10" y1="427.40" x2="228.10" y2="430.80" stroke="#1a1a1a" stroke-width="1.3" />
<line x1="238.18" y1="427.40" x2="238.18" y2="429.00" stroke="#1a1a1a" stroke-width="0.8" />
<line x1="244.08" y1="427.40" x2="244.08" y2="429.00" stroke="#1a1a1a" stroke-width="0.8" />
<line x1="248.27" y1="427.40" x2="248.27" y2="429.00" stroke="#1a1a1a" stroke-width="0.8" />
<line x1="251.52" y1="427.40" x2="251.52" y2="429.00" stroke="#1a1a1a" stroke-width="0.8" />
<line x1="254.17" y1="427.40" x2="254.17" y2="429.00" stroke="#1a1a1a" stroke-width="0.8" />
<line x1="256.41" y1="427.40" x2="256.41" y2="429.00" stroke="#1a1a1a" stroke-width="0.8" />
<line x1="258.35" y1="427.40" x2="258.35" y2="429.00" stroke="#1a1a1a" stroke-width="0.8" />
<line x1="260.07" y1="427.40" x2="260.07" y2="429.00" stroke="#1a1a1a" stroke-width="0.8" />
<line x1="261.60" y1="427.40" x2="261.60" y2="430.80" stroke="#1a1a1a" stroke-width="1.3" />
<line x1="271.68" y1="427.40" x2="271.68" y2="429.00" stroke="#1a1a1a" stroke-width="0.8" />
<line x1="277.58" y1="427.40" x2="277.58" y2="429.00" stroke="#1a1a1a" stroke-width="0.8" />
<line x1="281.77" y1="427.40" x2="281.77" y2="429.00" stroke="#1a1a1a" stroke-width="0.8" />
<line x1="285.02" y1="427.40" x2="285.02" y2="429.00" stroke="#1a1a1a" stroke-width="0.8" />
<line x1="287.67" y1="427.40" x2="287.67" y2="429.00" stroke="#1a1a1a" stroke-width="0.8" />
<line x1="289.91" y1="427.40" x2="289.91" y2="429.00" stroke="#1a1a1a" stroke-width="0.8" />
<line x1="291.85" y1="427.40" x2="291.85" y2="429.00" stroke="#1a1a1a" stroke-width="0.8" />
<line x1="293.57" y1="427.40" x2="293.57" y2="429.00" stroke="#1a1a1a" stroke-width="0.8" />
<line x1="295.10" y1="427.40" x2="295.10" y2="430.80" stroke="#1a1a1a" stroke-width="1.3" />
<text x="194.60" y="441.60" font-size="8.7" text-anchor="middle" fill="#1a1a1a" >0.1</text>
<text x="228.10" y="441.60" font-size="8.7" text-anchor="middle" fill="#1a1a1a" >1</text>
<text x="261.60" y="441.60" font-size="8.7" text-anchor="middle" fill="#1a1a1a" >10</text>
<text x="295.10" y="441.60" font-size="8.7" text-anchor="middle" fill="#1a1a1a" >100</text>
<polyline points="213.10,420.73 223.32,420.73 233.54,422.00 243.76,423.21 253.98,417.24 264.20,412.41 274.42,402.83 284.64,398.19" fill="none" stroke="#1a1a1a" stroke-width="1.6" stroke-linejoin="round"/>
<circle cx="213.10" cy="420.73" r="1.95" fill="white" stroke="#1a1a1a" stroke-width="1.4"/>
<circle cx="223.32" cy="420.73" r="1.95" fill="white" stroke="#1a1a1a" stroke-width="1.4"/>
<circle cx="233.54" cy="422.00" r="1.95" fill="white" stroke="#1a1a1a" stroke-width="1.4"/>
<circle cx="243.76" cy="423.21" r="1.95" fill="white" stroke="#1a1a1a" stroke-width="1.4"/>
<circle cx="253.98" cy="417.24" r="1.95" fill="white" stroke="#1a1a1a" stroke-width="1.4"/>
<circle cx="264.20" cy="412.41" r="1.95" fill="white" stroke="#1a1a1a" stroke-width="1.4"/>
<circle cx="274.42" cy="402.83" r="1.95" fill="white" stroke="#1a1a1a" stroke-width="1.4"/>
<circle cx="284.64" cy="398.19" r="1.95" fill="white" stroke="#1a1a1a" stroke-width="1.4"/>
<line x1="213.10" y1="418.83" x2="213.10" y2="422.64" stroke="#1a1a1a" stroke-width="1.0" />
<line x1="210.80" y1="418.83" x2="215.40" y2="418.83" stroke="#1a1a1a" stroke-width="1.1" />
<line x1="210.80" y1="422.64" x2="215.40" y2="422.64" stroke="#1a1a1a" stroke-width="1.1" />
<line x1="223.32" y1="419.46" x2="223.32" y2="422.00" stroke="#1a1a1a" stroke-width="1.0" />
<line x1="221.02" y1="419.46" x2="225.62" y2="419.46" stroke="#1a1a1a" stroke-width="1.1" />
<line x1="221.02" y1="422.00" x2="225.62" y2="422.00" stroke="#1a1a1a" stroke-width="1.1" />
<line x1="233.54" y1="420.73" x2="233.54" y2="423.27" stroke="#1a1a1a" stroke-width="1.0" />
<line x1="231.24" y1="420.73" x2="235.84" y2="420.73" stroke="#1a1a1a" stroke-width="1.1" />
<line x1="231.24" y1="423.27" x2="235.84" y2="423.27" stroke="#1a1a1a" stroke-width="1.1" />
<line x1="243.76" y1="421.30" x2="243.76" y2="425.11" stroke="#1a1a1a" stroke-width="1.0" />
<line x1="241.46" y1="421.30" x2="246.06" y2="421.30" stroke="#1a1a1a" stroke-width="1.1" />
<line x1="241.46" y1="425.11" x2="246.06" y2="425.11" stroke="#1a1a1a" stroke-width="1.1" />
<line x1="253.98" y1="415.97" x2="253.98" y2="418.51" stroke="#1a1a1a" stroke-width="1.0" />
<line x1="251.68" y1="415.97" x2="256.28" y2="415.97" stroke="#1a1a1a" stroke-width="1.1" />
<line x1="251.68" y1="418.51" x2="256.28" y2="418.51" stroke="#1a1a1a" stroke-width="1.1" />
<line x1="264.20" y1="410.51" x2="264.20" y2="414.32" stroke="#1a1a1a" stroke-width="1.0" />
<line x1="261.90" y1="410.51" x2="266.50" y2="410.51" stroke="#1a1a1a" stroke-width="1.1" />
<line x1="261.90" y1="414.32" x2="266.50" y2="414.32" stroke="#1a1a1a" stroke-width="1.1" />
<line x1="274.42" y1="400.29" x2="274.42" y2="405.37" stroke="#1a1a1a" stroke-width="1.0" />
<line x1="272.12" y1="400.29" x2="276.72" y2="400.29" stroke="#1a1a1a" stroke-width="1.1" />
<line x1="272.12" y1="405.37" x2="276.72" y2="405.37" stroke="#1a1a1a" stroke-width="1.1" />
<line x1="284.64" y1="389.94" x2="284.64" y2="406.44" stroke="#1a1a1a" stroke-width="1.0" />
<line x1="282.34" y1="389.94" x2="286.94" y2="389.94" stroke="#1a1a1a" stroke-width="1.1" />
<line x1="282.34" y1="406.44" x2="286.94" y2="406.44" stroke="#1a1a1a" stroke-width="1.1" />
<polyline points="213.10,415.91 223.32,416.29 233.54,417.81 243.76,422.00 253.98,415.91 264.20,407.21 274.42,402.00 284.64,405.30" fill="none" stroke="#1a1a1a" stroke-width="1.6" stroke-linejoin="round"/>
<rect x="210.60" y="413.41" width="5.00" height="5.00" fill="#1a1a1a" />
<rect x="220.82" y="413.79" width="5.00" height="5.00" fill="#1a1a1a" />
<rect x="231.04" y="415.31" width="5.00" height="5.00" fill="#1a1a1a" />
<rect x="241.26" y="419.50" width="5.00" height="5.00" fill="#1a1a1a" />
<rect x="251.48" y="413.41" width="5.00" height="5.00" fill="#1a1a1a" />
<rect x="261.70" y="404.71" width="5.00" height="5.00" fill="#1a1a1a" />
<rect x="271.92" y="399.50" width="5.00" height="5.00" fill="#1a1a1a" />
<rect x="282.14" y="402.80" width="5.00" height="5.00" fill="#1a1a1a" />
<line x1="213.10" y1="414.00" x2="213.10" y2="417.81" stroke="#1a1a1a" stroke-width="1.0" />
<line x1="210.80" y1="414.00" x2="215.40" y2="414.00" stroke="#1a1a1a" stroke-width="1.1" />
<line x1="210.80" y1="417.81" x2="215.40" y2="417.81" stroke="#1a1a1a" stroke-width="1.1" />
<line x1="223.32" y1="415.02" x2="223.32" y2="417.56" stroke="#1a1a1a" stroke-width="1.0" />
<line x1="221.02" y1="415.02" x2="225.62" y2="415.02" stroke="#1a1a1a" stroke-width="1.1" />
<line x1="221.02" y1="417.56" x2="225.62" y2="417.56" stroke="#1a1a1a" stroke-width="1.1" />
<line x1="233.54" y1="415.91" x2="233.54" y2="419.72" stroke="#1a1a1a" stroke-width="1.0" />
<line x1="231.24" y1="415.91" x2="235.84" y2="415.91" stroke="#1a1a1a" stroke-width="1.1" />
<line x1="231.24" y1="419.72" x2="235.84" y2="419.72" stroke="#1a1a1a" stroke-width="1.1" />
<line x1="243.76" y1="420.10" x2="243.76" y2="423.91" stroke="#1a1a1a" stroke-width="1.0" />
<line x1="241.46" y1="420.10" x2="246.06" y2="420.10" stroke="#1a1a1a" stroke-width="1.1" />
<line x1="241.46" y1="423.91" x2="246.06" y2="423.91" stroke="#1a1a1a" stroke-width="1.1" />
<line x1="253.98" y1="414.64" x2="253.98" y2="417.18" stroke="#1a1a1a" stroke-width="1.0" />
<line x1="251.68" y1="414.64" x2="256.28" y2="414.64" stroke="#1a1a1a" stroke-width="1.1" />
<line x1="251.68" y1="417.18" x2="256.28" y2="417.18" stroke="#1a1a1a" stroke-width="1.1" />
<line x1="264.20" y1="405.30" x2="264.20" y2="409.11" stroke="#1a1a1a" stroke-width="1.0" />
<line x1="261.90" y1="405.30" x2="266.50" y2="405.30" stroke="#1a1a1a" stroke-width="1.1" />
<line x1="261.90" y1="409.11" x2="266.50" y2="409.11" stroke="#1a1a1a" stroke-width="1.1" />
<line x1="274.42" y1="399.46" x2="274.42" y2="404.54" stroke="#1a1a1a" stroke-width="1.0" />
<line x1="272.12" y1="399.46" x2="276.72" y2="399.46" stroke="#1a1a1a" stroke-width="1.1" />
<line x1="272.12" y1="404.54" x2="276.72" y2="404.54" stroke="#1a1a1a" stroke-width="1.1" />
<line x1="284.64" y1="404.03" x2="284.64" y2="406.57" stroke="#1a1a1a" stroke-width="1.0" />
<line x1="282.34" y1="404.03" x2="286.94" y2="404.03" stroke="#1a1a1a" stroke-width="1.1" />
<line x1="282.34" y1="406.57" x2="286.94" y2="406.57" stroke="#1a1a1a" stroke-width="1.1" />
<polyline points="213.10,420.73 223.32,420.73 233.54,422.00 243.76,423.21 253.98,417.24 264.20,412.41 274.42,402.83 284.64,398.19" fill="none" stroke="#1a1a1a" stroke-width="1.5"/>
<circle cx="213.10" cy="420.73" r="1.95" fill="none" stroke="#1a1a1a" stroke-width="1.4"/>
<circle cx="223.32" cy="420.73" r="1.95" fill="none" stroke="#1a1a1a" stroke-width="1.4"/>
<circle cx="233.54" cy="422.00" r="1.95" fill="none" stroke="#1a1a1a" stroke-width="1.4"/>
<circle cx="243.76" cy="423.21" r="1.95" fill="none" stroke="#1a1a1a" stroke-width="1.4"/>
<circle cx="253.98" cy="417.24" r="1.95" fill="none" stroke="#1a1a1a" stroke-width="1.4"/>
<circle cx="264.20" cy="412.41" r="1.95" fill="none" stroke="#1a1a1a" stroke-width="1.4"/>
<circle cx="274.42" cy="402.83" r="1.95" fill="none" stroke="#1a1a1a" stroke-width="1.4"/>
<circle cx="284.64" cy="398.19" r="1.95" fill="none" stroke="#1a1a1a" stroke-width="1.4"/>
<text transform="translate(28.50,393.80) rotate(-90)" font-size="10.4" text-anchor="middle" fill="#1a1a1a" textLength="70.70" lengthAdjust="spacingAndGlyphs" >Specific lysis [%]</text>
<text x="140.10" y="459.10" font-size="10.2" text-anchor="start" fill="#1a1a1a" textLength="73.30" lengthAdjust="spacingAndGlyphs" >CAR T cells [&#215;10<tspan font-size="7.6" dy="-3.8">3</tspan><tspan dy="3.8">]</tspan></text>
<line x1="112.70" y1="469.70" x2="125.60" y2="469.70" stroke="#1a1a1a" stroke-width="1.7" />
<rect x="116.55" y="467.10" width="5.20" height="5.20" fill="#1a1a1a" />
<text x="128.80" y="472.20" font-size="8.3" text-anchor="start" fill="#1a1a1a" textLength="54.40" lengthAdjust="spacingAndGlyphs" >anti-Fc&#956;R CAR</text>
<line x1="193.20" y1="469.70" x2="206.20" y2="469.70" stroke="#1a1a1a" stroke-width="1.7" />
<circle cx="199.70" cy="469.70" r="2.5" fill="none" stroke="#1a1a1a" stroke-width="1.4"/>
<text x="209.90" y="472.20" font-size="8.3" text-anchor="start" fill="#1a1a1a" textLength="31.30" lengthAdjust="spacingAndGlyphs" >w/o CAR</text>
<text x="7.50" y="505.90" font-size="12.4" text-anchor="start" fill="#1a1a1a" font-weight="bold" >C</text>
<text x="91.50" y="505.90" font-size="10.8" text-anchor="start" fill="#1a1a1a" font-weight="bold" textLength="25.00" lengthAdjust="spacingAndGlyphs" >Fc&#956;R</text>
<text x="116.80" y="502.00" font-size="6.2" text-anchor="start" fill="#1a1a1a" font-weight="bold" >+</text>
<text x="249.00" y="505.80" font-size="10.8" text-anchor="start" fill="#1a1a1a" font-weight="bold" textLength="25.20" lengthAdjust="spacingAndGlyphs" >Fc&#956;R</text>
<text x="274.40" y="502.20" font-size="6.2" text-anchor="start" fill="#1a1a1a" font-weight="bold" >-</text>
<line x1="54.50" y1="513.80" x2="54.50" y2="583.25" stroke="#1a1a1a" stroke-width="1.3" />
<line x1="51.10" y1="582.60" x2="54.50" y2="582.60" stroke="#1a1a1a" stroke-width="1.3" />
<text x="48.70" y="585.73" font-size="8.7" text-anchor="end" fill="#1a1a1a" >0</text>
<line x1="51.10" y1="569.46" x2="54.50" y2="569.46" stroke="#1a1a1a" stroke-width="1.3" />
<text x="48.70" y="572.59" font-size="8.7" text-anchor="end" fill="#1a1a1a" >20</text>
<line x1="51.10" y1="556.32" x2="54.50" y2="556.32" stroke="#1a1a1a" stroke-width="1.3" />
<text x="48.70" y="559.45" font-size="8.7" text-anchor="end" fill="#1a1a1a" >40</text>
<line x1="51.10" y1="543.18" x2="54.50" y2="543.18" stroke="#1a1a1a" stroke-width="1.3" />
<text x="48.70" y="546.31" font-size="8.7" text-anchor="end" fill="#1a1a1a" >60</text>
<line x1="51.10" y1="530.04" x2="54.50" y2="530.04" stroke="#1a1a1a" stroke-width="1.3" />
<text x="48.70" y="533.17" font-size="8.7" text-anchor="end" fill="#1a1a1a" >80</text>
<line x1="51.10" y1="516.90" x2="54.50" y2="516.90" stroke="#1a1a1a" stroke-width="1.3" />
<text x="48.70" y="520.03" font-size="8.7" text-anchor="end" fill="#1a1a1a" >100</text>
<line x1="53.90" y1="582.60" x2="157.50" y2="582.60" stroke="#1a1a1a" stroke-width="1.3" />
<line x1="54.80" y1="582.60" x2="54.80" y2="586.00" stroke="#1a1a1a" stroke-width="1.3" />
<line x1="64.73" y1="582.60" x2="64.73" y2="584.20" stroke="#1a1a1a" stroke-width="0.8" />
<line x1="70.55" y1="582.60" x2="70.55" y2="584.20" stroke="#1a1a1a" stroke-width="0.8" />
<line x1="74.67" y1="582.60" x2="74.67" y2="584.20" stroke="#1a1a1a" stroke-width="0.8" />
<line x1="77.87" y1="582.60" x2="77.87" y2="584.20" stroke="#1a1a1a" stroke-width="0.8" />
<line x1="80.48" y1="582.60" x2="80.48" y2="584.20" stroke="#1a1a1a" stroke-width="0.8" />
<line x1="82.69" y1="582.60" x2="82.69" y2="584.20" stroke="#1a1a1a" stroke-width="0.8" />
<line x1="84.60" y1="582.60" x2="84.60" y2="584.20" stroke="#1a1a1a" stroke-width="0.8" />
<line x1="86.29" y1="582.60" x2="86.29" y2="584.20" stroke="#1a1a1a" stroke-width="0.8" />
<line x1="87.80" y1="582.60" x2="87.80" y2="586.00" stroke="#1a1a1a" stroke-width="1.3" />
<line x1="97.73" y1="582.60" x2="97.73" y2="584.20" stroke="#1a1a1a" stroke-width="0.8" />
<line x1="103.55" y1="582.60" x2="103.55" y2="584.20" stroke="#1a1a1a" stroke-width="0.8" />
<line x1="107.67" y1="582.60" x2="107.67" y2="584.20" stroke="#1a1a1a" stroke-width="0.8" />
<line x1="110.87" y1="582.60" x2="110.87" y2="584.20" stroke="#1a1a1a" stroke-width="0.8" />
<line x1="113.48" y1="582.60" x2="113.48" y2="584.20" stroke="#1a1a1a" stroke-width="0.8" />
<line x1="115.69" y1="582.60" x2="115.69" y2="584.20" stroke="#1a1a1a" stroke-width="0.8" />
<line x1="117.60" y1="582.60" x2="117.60" y2="584.20" stroke="#1a1a1a" stroke-width="0.8" />
<line x1="119.29" y1="582.60" x2="119.29" y2="584.20" stroke="#1a1a1a" stroke-width="0.8" />
<line x1="120.80" y1="582.60" x2="120.80" y2="586.00" stroke="#1a1a1a" stroke-width="1.3" />
<line x1="130.73" y1="582.60" x2="130.73" y2="584.20" stroke="#1a1a1a" stroke-width="0.8" />
<line x1="136.55" y1="582.60" x2="136.55" y2="584.20" stroke="#1a1a1a" stroke-width="0.8" />
<line x1="140.67" y1="582.60" x2="140.67" y2="584.20" stroke="#1a1a1a" stroke-width="0.8" />
<line x1="143.87" y1="582.60" x2="143.87" y2="584.20" stroke="#1a1a1a" stroke-width="0.8" />
<line x1="146.48" y1="582.60" x2="146.48" y2="584.20" stroke="#1a1a1a" stroke-width="0.8" />
<line x1="148.69" y1="582.60" x2="148.69" y2="584.20" stroke="#1a1a1a" stroke-width="0.8" />
<line x1="150.60" y1="582.60" x2="150.60" y2="584.20" stroke="#1a1a1a" stroke-width="0.8" />
<line x1="152.29" y1="582.60" x2="152.29" y2="584.20" stroke="#1a1a1a" stroke-width="0.8" />
<line x1="153.80" y1="582.60" x2="153.80" y2="586.00" stroke="#1a1a1a" stroke-width="1.3" />
<text x="54.80" y="596.30" font-size="8.7" text-anchor="middle" fill="#1a1a1a" >1</text>
<text x="87.80" y="596.30" font-size="8.7" text-anchor="middle" fill="#1a1a1a" >10</text>
<text x="120.80" y="596.30" font-size="8.7" text-anchor="middle" fill="#1a1a1a" >100</text>
<text x="153.80" y="596.30" font-size="8.7" text-anchor="middle" fill="#1a1a1a" >1000</text>
<polyline points="64.60,582.60 74.45,576.23 84.30,580.37 94.15,582.60 104.00,577.61 113.85,576.23 123.70,575.50" fill="none" stroke="#1a1a1a" stroke-width="1.6" stroke-linejoin="round"/>
<circle cx="64.60" cy="582.60" r="1.95" fill="white" stroke="#1a1a1a" stroke-width="1.4"/>
<circle cx="74.45" cy="576.23" r="1.95" fill="white" stroke="#1a1a1a" stroke-width="1.4"/>
<circle cx="84.30" cy="580.37" r="1.95" fill="white" stroke="#1a1a1a" stroke-width="1.4"/>
<circle cx="94.15" cy="582.60" r="1.95" fill="white" stroke="#1a1a1a" stroke-width="1.4"/>
<circle cx="104.00" cy="577.61" r="1.95" fill="white" stroke="#1a1a1a" stroke-width="1.4"/>
<circle cx="113.85" cy="576.23" r="1.95" fill="white" stroke="#1a1a1a" stroke-width="1.4"/>
<circle cx="123.70" cy="575.50" r="1.95" fill="white" stroke="#1a1a1a" stroke-width="1.4"/>
<line x1="74.45" y1="572.94" x2="74.45" y2="579.51" stroke="#1a1a1a" stroke-width="1.0" />
<line x1="72.15" y1="572.94" x2="76.75" y2="572.94" stroke="#1a1a1a" stroke-width="1.1" />
<line x1="72.15" y1="579.51" x2="76.75" y2="579.51" stroke="#1a1a1a" stroke-width="1.1" />
<polyline points="64.60,577.41 74.45,572.29 84.30,569.33 94.15,560.00 104.00,542.72 113.85,527.28 123.70,524.98" fill="none" stroke="#1a1a1a" stroke-width="1.6" stroke-linejoin="round"/>
<rect x="62.10" y="574.91" width="5.00" height="5.00" fill="#1a1a1a" />
<rect x="71.95" y="569.79" width="5.00" height="5.00" fill="#1a1a1a" />
<rect x="81.80" y="566.83" width="5.00" height="5.00" fill="#1a1a1a" />
<rect x="91.65" y="557.50" width="5.00" height="5.00" fill="#1a1a1a" />
<rect x="101.50" y="540.22" width="5.00" height="5.00" fill="#1a1a1a" />
<rect x="111.35" y="524.78" width="5.00" height="5.00" fill="#1a1a1a" />
<rect x="121.20" y="522.48" width="5.00" height="5.00" fill="#1a1a1a" />
<line x1="104.00" y1="539.11" x2="104.00" y2="546.33" stroke="#1a1a1a" stroke-width="1.0" />
<line x1="101.70" y1="539.11" x2="106.30" y2="539.11" stroke="#1a1a1a" stroke-width="1.1" />
<line x1="101.70" y1="546.33" x2="106.30" y2="546.33" stroke="#1a1a1a" stroke-width="1.1" />
<line x1="113.85" y1="522.68" x2="113.85" y2="531.88" stroke="#1a1a1a" stroke-width="1.0" />
<line x1="111.55" y1="522.68" x2="116.15" y2="522.68" stroke="#1a1a1a" stroke-width="1.1" />
<line x1="111.55" y1="531.88" x2="116.15" y2="531.88" stroke="#1a1a1a" stroke-width="1.1" />
<text x="68.00" y="608.60" font-size="10.2" text-anchor="start" fill="#1a1a1a" textLength="77.00" lengthAdjust="spacingAndGlyphs" >CAR T cells [x 10<tspan font-size="7.6" dy="-3.8">3</tspan><tspan dy="3.8">]</tspan></text>
<line x1="210.20" y1="512.30" x2="210.20" y2="583.05" stroke="#1a1a1a" stroke-width="1.3" />
<line x1="206.80" y1="582.40" x2="210.20" y2="582.40" stroke="#1a1a1a" stroke-width="1.3" />
<text x="204.40" y="585.53" font-size="8.7" text-anchor="end" fill="#1a1a1a" >0</text>
<line x1="206.80" y1="569.00" x2="210.20" y2="569.00" stroke="#1a1a1a" stroke-width="1.3" />
<text x="204.40" y="572.13" font-size="8.7" text-anchor="end" fill="#1a1a1a" >20</text>
<line x1="206.80" y1="555.60" x2="210.20" y2="555.60" stroke="#1a1a1a" stroke-width="1.3" />
<text x="204.40" y="558.73" font-size="8.7" text-anchor="end" fill="#1a1a1a" >40</text>
<line x1="206.80" y1="542.20" x2="210.20" y2="542.20" stroke="#1a1a1a" stroke-width="1.3" />
<text x="204.40" y="545.33" font-size="8.7" text-anchor="end" fill="#1a1a1a" >60</text>
<line x1="206.80" y1="528.80" x2="210.20" y2="528.80" stroke="#1a1a1a" stroke-width="1.3" />
<text x="204.40" y="531.93" font-size="8.7" text-anchor="end" fill="#1a1a1a" >80</text>
<line x1="206.80" y1="515.40" x2="210.20" y2="515.40" stroke="#1a1a1a" stroke-width="1.3" />
<text x="204.40" y="518.53" font-size="8.7" text-anchor="end" fill="#1a1a1a" >100</text>
<line x1="209.60" y1="582.40" x2="313.20" y2="582.40" stroke="#1a1a1a" stroke-width="1.3" />
<line x1="210.50" y1="582.40" x2="210.50" y2="585.80" stroke="#1a1a1a" stroke-width="1.3" />
<line x1="220.43" y1="582.40" x2="220.43" y2="584.00" stroke="#1a1a1a" stroke-width="0.8" />
<line x1="226.25" y1="582.40" x2="226.25" y2="584.00" stroke="#1a1a1a" stroke-width="0.8" />
<line x1="230.37" y1="582.40" x2="230.37" y2="584.00" stroke="#1a1a1a" stroke-width="0.8" />
<line x1="233.57" y1="582.40" x2="233.57" y2="584.00" stroke="#1a1a1a" stroke-width="0.8" />
<line x1="236.18" y1="582.40" x2="236.18" y2="584.00" stroke="#1a1a1a" stroke-width="0.8" />
<line x1="238.39" y1="582.40" x2="238.39" y2="584.00" stroke="#1a1a1a" stroke-width="0.8" />
<line x1="240.30" y1="582.40" x2="240.30" y2="584.00" stroke="#1a1a1a" stroke-width="0.8" />
<line x1="241.99" y1="582.40" x2="241.99" y2="584.00" stroke="#1a1a1a" stroke-width="0.8" />
<line x1="243.50" y1="582.40" x2="243.50" y2="585.80" stroke="#1a1a1a" stroke-width="1.3" />
<line x1="253.43" y1="582.40" x2="253.43" y2="584.00" stroke="#1a1a1a" stroke-width="0.8" />
<line x1="259.25" y1="582.40" x2="259.25" y2="584.00" stroke="#1a1a1a" stroke-width="0.8" />
<line x1="263.37" y1="582.40" x2="263.37" y2="584.00" stroke="#1a1a1a" stroke-width="0.8" />
<line x1="266.57" y1="582.40" x2="266.57" y2="584.00" stroke="#1a1a1a" stroke-width="0.8" />
<line x1="269.18" y1="582.40" x2="269.18" y2="584.00" stroke="#1a1a1a" stroke-width="0.8" />
<line x1="271.39" y1="582.40" x2="271.39" y2="584.00" stroke="#1a1a1a" stroke-width="0.8" />
<line x1="273.30" y1="582.40" x2="273.30" y2="584.00" stroke="#1a1a1a" stroke-width="0.8" />
<line x1="274.99" y1="582.40" x2="274.99" y2="584.00" stroke="#1a1a1a" stroke-width="0.8" />
<line x1="276.50" y1="582.40" x2="276.50" y2="585.80" stroke="#1a1a1a" stroke-width="1.3" />
<line x1="286.43" y1="582.40" x2="286.43" y2="584.00" stroke="#1a1a1a" stroke-width="0.8" />
<line x1="292.25" y1="582.40" x2="292.25" y2="584.00" stroke="#1a1a1a" stroke-width="0.8" />
<line x1="296.37" y1="582.40" x2="296.37" y2="584.00" stroke="#1a1a1a" stroke-width="0.8" />
<line x1="299.57" y1="582.40" x2="299.57" y2="584.00" stroke="#1a1a1a" stroke-width="0.8" />
<line x1="302.18" y1="582.40" x2="302.18" y2="584.00" stroke="#1a1a1a" stroke-width="0.8" />
<line x1="304.39" y1="582.40" x2="304.39" y2="584.00" stroke="#1a1a1a" stroke-width="0.8" />
<line x1="306.30" y1="582.40" x2="306.30" y2="584.00" stroke="#1a1a1a" stroke-width="0.8" />
<line x1="307.99" y1="582.40" x2="307.99" y2="584.00" stroke="#1a1a1a" stroke-width="0.8" />
<line x1="309.50" y1="582.40" x2="309.50" y2="585.80" stroke="#1a1a1a" stroke-width="1.3" />
<text x="210.50" y="596.30" font-size="8.7" text-anchor="middle" fill="#1a1a1a" >1</text>
<text x="243.50" y="596.30" font-size="8.7" text-anchor="middle" fill="#1a1a1a" >10</text>
<text x="276.50" y="596.30" font-size="8.7" text-anchor="middle" fill="#1a1a1a" >100</text>
<text x="309.50" y="596.30" font-size="8.7" text-anchor="middle" fill="#1a1a1a" >1000</text>
<polyline points="220.30,573.96 230.15,573.96 240.00,569.74 249.85,578.72 259.70,570.81 269.55,564.58 279.40,555.93" fill="none" stroke="#1a1a1a" stroke-width="1.6" stroke-linejoin="round"/>
<circle cx="220.30" cy="573.96" r="1.95" fill="white" stroke="#1a1a1a" stroke-width="1.4"/>
<circle cx="230.15" cy="573.96" r="1.95" fill="white" stroke="#1a1a1a" stroke-width="1.4"/>
<circle cx="240.00" cy="569.74" r="1.95" fill="white" stroke="#1a1a1a" stroke-width="1.4"/>
<circle cx="249.85" cy="578.72" r="1.95" fill="white" stroke="#1a1a1a" stroke-width="1.4"/>
<circle cx="259.70" cy="570.81" r="1.95" fill="white" stroke="#1a1a1a" stroke-width="1.4"/>
<circle cx="269.55" cy="564.58" r="1.95" fill="white" stroke="#1a1a1a" stroke-width="1.4"/>
<circle cx="279.40" cy="555.93" r="1.95" fill="white" stroke="#1a1a1a" stroke-width="1.4"/>
<line x1="240.00" y1="556.34" x2="240.00" y2="583.14" stroke="#1a1a1a" stroke-width="1.0" />
<line x1="237.70" y1="556.34" x2="242.30" y2="556.34" stroke="#1a1a1a" stroke-width="1.1" />
<line x1="237.70" y1="583.14" x2="242.30" y2="583.14" stroke="#1a1a1a" stroke-width="1.1" />
<line x1="249.85" y1="576.04" x2="249.85" y2="581.39" stroke="#1a1a1a" stroke-width="1.0" />
<line x1="247.55" y1="576.04" x2="252.15" y2="576.04" stroke="#1a1a1a" stroke-width="1.1" />
<line x1="247.55" y1="581.39" x2="252.15" y2="581.39" stroke="#1a1a1a" stroke-width="1.1" />
<line x1="269.55" y1="561.23" x2="269.55" y2="567.93" stroke="#1a1a1a" stroke-width="1.0" />
<line x1="267.25" y1="561.23" x2="271.85" y2="561.23" stroke="#1a1a1a" stroke-width="1.1" />
<line x1="267.25" y1="567.93" x2="271.85" y2="567.93" stroke="#1a1a1a" stroke-width="1.1" />
<line x1="279.40" y1="551.91" x2="279.40" y2="559.95" stroke="#1a1a1a" stroke-width="1.0" />
<line x1="277.10" y1="551.91" x2="281.70" y2="551.91" stroke="#1a1a1a" stroke-width="1.1" />
<line x1="277.10" y1="559.95" x2="281.70" y2="559.95" stroke="#1a1a1a" stroke-width="1.1" />
<polyline points="220.30,565.58 230.15,573.96 240.00,582.40 249.85,565.58 259.70,565.18 269.55,554.06 279.40,550.98" fill="none" stroke="#1a1a1a" stroke-width="1.6" stroke-linejoin="round"/>
<rect x="217.80" y="563.08" width="5.00" height="5.00" fill="#1a1a1a" />
<rect x="227.65" y="571.46" width="5.00" height="5.00" fill="#1a1a1a" />
<rect x="237.50" y="579.90" width="5.00" height="5.00" fill="#1a1a1a" />
<rect x="247.35" y="563.08" width="5.00" height="5.00" fill="#1a1a1a" />
<rect x="257.20" y="562.68" width="5.00" height="5.00" fill="#1a1a1a" />
<rect x="267.05" y="551.56" width="5.00" height="5.00" fill="#1a1a1a" />
<rect x="276.90" y="548.48" width="5.00" height="5.00" fill="#1a1a1a" />
<line x1="220.30" y1="560.89" x2="220.30" y2="570.27" stroke="#1a1a1a" stroke-width="1.0" />
<line x1="218.00" y1="560.89" x2="222.60" y2="560.89" stroke="#1a1a1a" stroke-width="1.1" />
<line x1="218.00" y1="570.27" x2="222.60" y2="570.27" stroke="#1a1a1a" stroke-width="1.1" />
<line x1="249.85" y1="560.22" x2="249.85" y2="570.94" stroke="#1a1a1a" stroke-width="1.0" />
<line x1="247.55" y1="560.22" x2="252.15" y2="560.22" stroke="#1a1a1a" stroke-width="1.1" />
<line x1="247.55" y1="570.94" x2="252.15" y2="570.94" stroke="#1a1a1a" stroke-width="1.1" />
<line x1="259.70" y1="562.50" x2="259.70" y2="567.86" stroke="#1a1a1a" stroke-width="1.0" />
<line x1="257.40" y1="562.50" x2="262.00" y2="562.50" stroke="#1a1a1a" stroke-width="1.1" />
<line x1="257.40" y1="567.86" x2="262.00" y2="567.86" stroke="#1a1a1a" stroke-width="1.1" />
<line x1="269.55" y1="551.38" x2="269.55" y2="556.74" stroke="#1a1a1a" stroke-width="1.0" />
<line x1="267.25" y1="551.38" x2="271.85" y2="551.38" stroke="#1a1a1a" stroke-width="1.1" />
<line x1="267.25" y1="556.74" x2="271.85" y2="556.74" stroke="#1a1a1a" stroke-width="1.1" />
<line x1="279.40" y1="543.61" x2="279.40" y2="558.35" stroke="#1a1a1a" stroke-width="1.0" />
<line x1="277.10" y1="543.61" x2="281.70" y2="543.61" stroke="#1a1a1a" stroke-width="1.1" />
<line x1="277.10" y1="558.35" x2="281.70" y2="558.35" stroke="#1a1a1a" stroke-width="1.1" />
<polyline points="220.30,573.96 230.15,573.96 240.00,569.74 249.85,578.72 259.70,570.81 269.55,564.58 279.40,555.93" fill="none" stroke="#1a1a1a" stroke-width="1.5"/>
<circle cx="220.30" cy="573.96" r="1.95" fill="none" stroke="#1a1a1a" stroke-width="1.4"/>
<circle cx="230.15" cy="573.96" r="1.95" fill="none" stroke="#1a1a1a" stroke-width="1.4"/>
<circle cx="240.00" cy="569.74" r="1.95" fill="none" stroke="#1a1a1a" stroke-width="1.4"/>
<circle cx="249.85" cy="578.72" r="1.95" fill="none" stroke="#1a1a1a" stroke-width="1.4"/>
<circle cx="259.70" cy="570.81" r="1.95" fill="none" stroke="#1a1a1a" stroke-width="1.4"/>
<circle cx="269.55" cy="564.58" r="1.95" fill="none" stroke="#1a1a1a" stroke-width="1.4"/>
<circle cx="279.40" cy="555.93" r="1.95" fill="none" stroke="#1a1a1a" stroke-width="1.4"/>
<text x="224.20" y="608.60" font-size="10.2" text-anchor="start" fill="#1a1a1a" textLength="77.40" lengthAdjust="spacingAndGlyphs" >CAR T cells [x 10<tspan font-size="7.6" dy="-3.8">3</tspan><tspan dy="3.8">]</tspan></text>
<text transform="translate(28.60,546.10) rotate(-90)" font-size="10.4" text-anchor="middle" fill="#1a1a1a" textLength="66.50" lengthAdjust="spacingAndGlyphs" >Specific lysis [%]</text>
<text transform="translate(184.00,547.70) rotate(-90)" font-size="10.4" text-anchor="middle" fill="#1a1a1a" textLength="70.00" lengthAdjust="spacingAndGlyphs" >Specific lysis [%]</text>
<line x1="54.20" y1="623.00" x2="54.20" y2="693.25" stroke="#1a1a1a" stroke-width="1.3" />
<line x1="50.80" y1="692.60" x2="54.20" y2="692.60" stroke="#1a1a1a" stroke-width="1.3" />
<text x="48.40" y="695.73" font-size="8.7" text-anchor="end" fill="#1a1a1a" >0.0</text>
<line x1="50.80" y1="670.20" x2="54.20" y2="670.20" stroke="#1a1a1a" stroke-width="1.3" />
<text x="48.40" y="673.33" font-size="8.7" text-anchor="end" fill="#1a1a1a" >0.2</text>
<line x1="50.80" y1="647.80" x2="54.20" y2="647.80" stroke="#1a1a1a" stroke-width="1.3" />
<text x="48.40" y="650.93" font-size="8.7" text-anchor="end" fill="#1a1a1a" >0.4</text>
<line x1="50.80" y1="625.40" x2="54.20" y2="625.40" stroke="#1a1a1a" stroke-width="1.3" />
<text x="48.40" y="628.53" font-size="8.7" text-anchor="end" fill="#1a1a1a" >0.6</text>
<line x1="53.60" y1="692.60" x2="157.20" y2="692.60" stroke="#1a1a1a" stroke-width="1.3" />
<line x1="54.50" y1="692.60" x2="54.50" y2="696.00" stroke="#1a1a1a" stroke-width="1.3" />
<line x1="64.43" y1="692.60" x2="64.43" y2="694.20" stroke="#1a1a1a" stroke-width="0.8" />
<line x1="70.25" y1="692.60" x2="70.25" y2="694.20" stroke="#1a1a1a" stroke-width="0.8" />
<line x1="74.37" y1="692.60" x2="74.37" y2="694.20" stroke="#1a1a1a" stroke-width="0.8" />
<line x1="77.57" y1="692.60" x2="77.57" y2="694.20" stroke="#1a1a1a" stroke-width="0.8" />
<line x1="80.18" y1="692.60" x2="80.18" y2="694.20" stroke="#1a1a1a" stroke-width="0.8" />
<line x1="82.39" y1="692.60" x2="82.39" y2="694.20" stroke="#1a1a1a" stroke-width="0.8" />
<line x1="84.30" y1="692.60" x2="84.30" y2="694.20" stroke="#1a1a1a" stroke-width="0.8" />
<line x1="85.99" y1="692.60" x2="85.99" y2="694.20" stroke="#1a1a1a" stroke-width="0.8" />
<line x1="87.50" y1="692.60" x2="87.50" y2="696.00" stroke="#1a1a1a" stroke-width="1.3" />
<line x1="97.43" y1="692.60" x2="97.43" y2="694.20" stroke="#1a1a1a" stroke-width="0.8" />
<line x1="103.25" y1="692.60" x2="103.25" y2="694.20" stroke="#1a1a1a" stroke-width="0.8" />
<line x1="107.37" y1="692.60" x2="107.37" y2="694.20" stroke="#1a1a1a" stroke-width="0.8" />
<line x1="110.57" y1="692.60" x2="110.57" y2="694.20" stroke="#1a1a1a" stroke-width="0.8" />
<line x1="113.18" y1="692.60" x2="113.18" y2="694.20" stroke="#1a1a1a" stroke-width="0.8" />
<line x1="115.39" y1="692.60" x2="115.39" y2="694.20" stroke="#1a1a1a" stroke-width="0.8" />
<line x1="117.30" y1="692.60" x2="117.30" y2="694.20" stroke="#1a1a1a" stroke-width="0.8" />
<line x1="118.99" y1="692.60" x2="118.99" y2="694.20" stroke="#1a1a1a" stroke-width="0.8" />
<line x1="120.50" y1="692.60" x2="120.50" y2="696.00" stroke="#1a1a1a" stroke-width="1.3" />
<line x1="130.43" y1="692.60" x2="130.43" y2="694.20" stroke="#1a1a1a" stroke-width="0.8" />
<line x1="136.25" y1="692.60" x2="136.25" y2="694.20" stroke="#1a1a1a" stroke-width="0.8" />
<line x1="140.37" y1="692.60" x2="140.37" y2="694.20" stroke="#1a1a1a" stroke-width="0.8" />
<line x1="143.57" y1="692.60" x2="143.57" y2="694.20" stroke="#1a1a1a" stroke-width="0.8" />
<line x1="146.18" y1="692.60" x2="146.18" y2="694.20" stroke="#1a1a1a" stroke-width="0.8" />
<line x1="148.39" y1="692.60" x2="148.39" y2="694.20" stroke="#1a1a1a" stroke-width="0.8" />
<line x1="150.30" y1="692.60" x2="150.30" y2="694.20" stroke="#1a1a1a" stroke-width="0.8" />
<line x1="151.99" y1="692.60" x2="151.99" y2="694.20" stroke="#1a1a1a" stroke-width="0.8" />
<line x1="153.50" y1="692.60" x2="153.50" y2="696.00" stroke="#1a1a1a" stroke-width="1.3" />
<text x="54.50" y="706.30" font-size="8.7" text-anchor="middle" fill="#1a1a1a" >1</text>
<text x="87.50" y="706.30" font-size="8.7" text-anchor="middle" fill="#1a1a1a" >10</text>
<text x="120.50" y="706.30" font-size="8.7" text-anchor="middle" fill="#1a1a1a" >100</text>
<text x="153.50" y="706.30" font-size="8.7" text-anchor="middle" fill="#1a1a1a" >1000</text>
<polyline points="64.30,690.36 74.15,690.36 84.00,690.92 93.85,691.48 103.70,691.48 113.55,690.92 123.40,690.36" fill="none" stroke="#1a1a1a" stroke-width="1.6" stroke-linejoin="round"/>
<circle cx="64.30" cy="690.36" r="1.95" fill="white" stroke="#1a1a1a" stroke-width="1.4"/>
<circle cx="74.15" cy="690.36" r="1.95" fill="white" stroke="#1a1a1a" stroke-width="1.4"/>
<circle cx="84.00" cy="690.92" r="1.95" fill="white" stroke="#1a1a1a" stroke-width="1.4"/>
<circle cx="93.85" cy="691.48" r="1.95" fill="white" stroke="#1a1a1a" stroke-width="1.4"/>
<circle cx="103.70" cy="691.48" r="1.95" fill="white" stroke="#1a1a1a" stroke-width="1.4"/>
<circle cx="113.55" cy="690.92" r="1.95" fill="white" stroke="#1a1a1a" stroke-width="1.4"/>
<circle cx="123.40" cy="690.36" r="1.95" fill="white" stroke="#1a1a1a" stroke-width="1.4"/>
<polyline points="64.30,689.35 74.15,684.31 84.00,677.37 93.85,665.27 103.70,648.47 113.55,639.74 123.40,635.82" fill="none" stroke="#1a1a1a" stroke-width="1.6" stroke-linejoin="round"/>
<rect x="61.80" y="686.85" width="5.00" height="5.00" fill="#1a1a1a" />
<rect x="71.65" y="681.81" width="5.00" height="5.00" fill="#1a1a1a" />
<rect x="81.50" y="674.87" width="5.00" height="5.00" fill="#1a1a1a" />
<rect x="91.35" y="662.77" width="5.00" height="5.00" fill="#1a1a1a" />
<rect x="101.20" y="645.97" width="5.00" height="5.00" fill="#1a1a1a" />
<rect x="111.05" y="637.24" width="5.00" height="5.00" fill="#1a1a1a" />
<rect x="120.90" y="633.32" width="5.00" height="5.00" fill="#1a1a1a" />
<line x1="93.85" y1="663.03" x2="93.85" y2="667.51" stroke="#1a1a1a" stroke-width="1.0" />
<line x1="91.55" y1="663.03" x2="96.15" y2="663.03" stroke="#1a1a1a" stroke-width="1.1" />
<line x1="91.55" y1="667.51" x2="96.15" y2="667.51" stroke="#1a1a1a" stroke-width="1.1" />
<line x1="113.55" y1="633.02" x2="113.55" y2="646.46" stroke="#1a1a1a" stroke-width="1.0" />
<line x1="111.25" y1="633.02" x2="115.85" y2="633.02" stroke="#1a1a1a" stroke-width="1.1" />
<line x1="111.25" y1="646.46" x2="115.85" y2="646.46" stroke="#1a1a1a" stroke-width="1.1" />
<text x="68.70" y="724.60" font-size="10.2" text-anchor="start" fill="#1a1a1a" textLength="76.90" lengthAdjust="spacingAndGlyphs" >CAR T cells [x 10<tspan font-size="7.6" dy="-3.8">3</tspan><tspan dy="3.8">]</tspan></text>
<line x1="210.00" y1="623.00" x2="210.00" y2="693.25" stroke="#1a1a1a" stroke-width="1.3" />
<line x1="206.60" y1="692.60" x2="210.00" y2="692.60" stroke="#1a1a1a" stroke-width="1.3" />
<text x="204.20" y="695.73" font-size="8.7" text-anchor="end" fill="#1a1a1a" >0.0</text>
<line x1="206.60" y1="670.20" x2="210.00" y2="670.20" stroke="#1a1a1a" stroke-width="1.3" />
<text x="204.20" y="673.33" font-size="8.7" text-anchor="end" fill="#1a1a1a" >0.2</text>
<line x1="206.60" y1="647.80" x2="210.00" y2="647.80" stroke="#1a1a1a" stroke-width="1.3" />
<text x="204.20" y="650.93" font-size="8.7" text-anchor="end" fill="#1a1a1a" >0.4</text>
<line x1="206.60" y1="625.40" x2="210.00" y2="625.40" stroke="#1a1a1a" stroke-width="1.3" />
<text x="204.20" y="628.53" font-size="8.7" text-anchor="end" fill="#1a1a1a" >0.6</text>
<line x1="209.40" y1="692.60" x2="313.00" y2="692.60" stroke="#1a1a1a" stroke-width="1.3" />
<line x1="210.30" y1="692.60" x2="210.30" y2="696.00" stroke="#1a1a1a" stroke-width="1.3" />
<line x1="220.23" y1="692.60" x2="220.23" y2="694.20" stroke="#1a1a1a" stroke-width="0.8" />
<line x1="226.05" y1="692.60" x2="226.05" y2="694.20" stroke="#1a1a1a" stroke-width="0.8" />
<line x1="230.17" y1="692.60" x2="230.17" y2="694.20" stroke="#1a1a1a" stroke-width="0.8" />
<line x1="233.37" y1="692.60" x2="233.37" y2="694.20" stroke="#1a1a1a" stroke-width="0.8" />
<line x1="235.98" y1="692.60" x2="235.98" y2="694.20" stroke="#1a1a1a" stroke-width="0.8" />
<line x1="238.19" y1="692.60" x2="238.19" y2="694.20" stroke="#1a1a1a" stroke-width="0.8" />
<line x1="240.10" y1="692.60" x2="240.10" y2="694.20" stroke="#1a1a1a" stroke-width="0.8" />
<line x1="241.79" y1="692.60" x2="241.79" y2="694.20" stroke="#1a1a1a" stroke-width="0.8" />
<line x1="243.30" y1="692.60" x2="243.30" y2="696.00" stroke="#1a1a1a" stroke-width="1.3" />
<line x1="253.23" y1="692.60" x2="253.23" y2="694.20" stroke="#1a1a1a" stroke-width="0.8" />
<line x1="259.05" y1="692.60" x2="259.05" y2="694.20" stroke="#1a1a1a" stroke-width="0.8" />
<line x1="263.17" y1="692.60" x2="263.17" y2="694.20" stroke="#1a1a1a" stroke-width="0.8" />
<line x1="266.37" y1="692.60" x2="266.37" y2="694.20" stroke="#1a1a1a" stroke-width="0.8" />
<line x1="268.98" y1="692.60" x2="268.98" y2="694.20" stroke="#1a1a1a" stroke-width="0.8" />
<line x1="271.19" y1="692.60" x2="271.19" y2="694.20" stroke="#1a1a1a" stroke-width="0.8" />
<line x1="273.10" y1="692.60" x2="273.10" y2="694.20" stroke="#1a1a1a" stroke-width="0.8" />
<line x1="274.79" y1="692.60" x2="274.79" y2="694.20" stroke="#1a1a1a" stroke-width="0.8" />
<line x1="276.30" y1="692.60" x2="276.30" y2="696.00" stroke="#1a1a1a" stroke-width="1.3" />
<line x1="286.23" y1="692.60" x2="286.23" y2="694.20" stroke="#1a1a1a" stroke-width="0.8" />
<line x1="292.05" y1="692.60" x2="292.05" y2="694.20" stroke="#1a1a1a" stroke-width="0.8" />
<line x1="296.17" y1="692.60" x2="296.17" y2="694.20" stroke="#1a1a1a" stroke-width="0.8" />
<line x1="299.37" y1="692.60" x2="299.37" y2="694.20" stroke="#1a1a1a" stroke-width="0.8" />
<line x1="301.98" y1="692.60" x2="301.98" y2="694.20" stroke="#1a1a1a" stroke-width="0.8" />
<line x1="304.19" y1="692.60" x2="304.19" y2="694.20" stroke="#1a1a1a" stroke-width="0.8" />
<line x1="306.10" y1="692.60" x2="306.10" y2="694.20" stroke="#1a1a1a" stroke-width="0.8" />
<line x1="307.79" y1="692.60" x2="307.79" y2="694.20" stroke="#1a1a1a" stroke-width="0.8" />
<line x1="309.30" y1="692.60" x2="309.30" y2="696.00" stroke="#1a1a1a" stroke-width="1.3" />
<text x="210.30" y="706.30" font-size="8.7" text-anchor="middle" fill="#1a1a1a" >1</text>
<text x="243.30" y="706.30" font-size="8.7" text-anchor="middle" fill="#1a1a1a" >10</text>
<text x="276.30" y="706.30" font-size="8.7" text-anchor="middle" fill="#1a1a1a" >100</text>
<text x="309.30" y="706.30" font-size="8.7" text-anchor="middle" fill="#1a1a1a" >1000</text>
<polyline points="220.10,689.80 229.95,689.24 239.80,689.80 249.65,692.60 259.50,691.48 269.35,692.60 279.20,690.36" fill="none" stroke="#1a1a1a" stroke-width="1.6" stroke-linejoin="round"/>
<circle cx="220.10" cy="689.80" r="1.95" fill="white" stroke="#1a1a1a" stroke-width="1.4"/>
<circle cx="229.95" cy="689.24" r="1.95" fill="white" stroke="#1a1a1a" stroke-width="1.4"/>
<circle cx="239.80" cy="689.80" r="1.95" fill="white" stroke="#1a1a1a" stroke-width="1.4"/>
<circle cx="249.65" cy="692.60" r="1.95" fill="white" stroke="#1a1a1a" stroke-width="1.4"/>
<circle cx="259.50" cy="691.48" r="1.95" fill="white" stroke="#1a1a1a" stroke-width="1.4"/>
<circle cx="269.35" cy="692.60" r="1.95" fill="white" stroke="#1a1a1a" stroke-width="1.4"/>
<circle cx="279.20" cy="690.36" r="1.95" fill="white" stroke="#1a1a1a" stroke-width="1.4"/>
<polyline points="220.10,687.34 229.95,685.66 239.80,686.22 249.65,692.60 259.50,690.36 269.35,690.36 279.20,688.46" fill="none" stroke="#1a1a1a" stroke-width="1.6" stroke-linejoin="round"/>
<rect x="217.60" y="684.84" width="5.00" height="5.00" fill="#1a1a1a" />
<rect x="227.45" y="683.16" width="5.00" height="5.00" fill="#1a1a1a" />
<rect x="237.30" y="683.72" width="5.00" height="5.00" fill="#1a1a1a" />
<rect x="247.15" y="690.10" width="5.00" height="5.00" fill="#1a1a1a" />
<rect x="257.00" y="687.86" width="5.00" height="5.00" fill="#1a1a1a" />
<rect x="266.85" y="687.86" width="5.00" height="5.00" fill="#1a1a1a" />
<rect x="276.70" y="685.96" width="5.00" height="5.00" fill="#1a1a1a" />
<polyline points="220.10,689.80 229.95,689.24 239.80,689.80 249.65,692.60 259.50,691.48 269.35,692.60 279.20,690.36" fill="none" stroke="#1a1a1a" stroke-width="1.5"/>
<circle cx="220.10" cy="689.80" r="1.95" fill="none" stroke="#1a1a1a" stroke-width="1.4"/>
<circle cx="229.95" cy="689.24" r="1.95" fill="none" stroke="#1a1a1a" stroke-width="1.4"/>
<circle cx="239.80" cy="689.80" r="1.95" fill="none" stroke="#1a1a1a" stroke-width="1.4"/>
<circle cx="249.65" cy="692.60" r="1.95" fill="none" stroke="#1a1a1a" stroke-width="1.4"/>
<circle cx="259.50" cy="691.48" r="1.95" fill="none" stroke="#1a1a1a" stroke-width="1.4"/>
<circle cx="269.35" cy="692.60" r="1.95" fill="none" stroke="#1a1a1a" stroke-width="1.4"/>
<circle cx="279.20" cy="690.36" r="1.95" fill="none" stroke="#1a1a1a" stroke-width="1.4"/>
<text x="224.20" y="724.60" font-size="10.2" text-anchor="start" fill="#1a1a1a" textLength="77.40" lengthAdjust="spacingAndGlyphs" >CAR T cells [x 10<tspan font-size="7.6" dy="-3.8">3</tspan><tspan dy="3.8">]</tspan></text>
<text transform="translate(30.80,657.60) rotate(-90)" font-size="10.4" text-anchor="middle" fill="#1a1a1a" textLength="49.50" lengthAdjust="spacingAndGlyphs" >IFN&#947; [ng/ml]</text>
<text transform="translate(186.30,657.60) rotate(-90)" font-size="10.4" text-anchor="middle" fill="#1a1a1a" textLength="49.50" lengthAdjust="spacingAndGlyphs" >IFN&#947; [ng/ml]</text>
<line x1="121.20" y1="735.00" x2="134.00" y2="735.00" stroke="#1a1a1a" stroke-width="1.7" />
<rect x="125.00" y="732.40" width="5.20" height="5.20" fill="#1a1a1a" />
<text x="137.30" y="737.40" font-size="8.3" text-anchor="start" fill="#1a1a1a" textLength="53.70" lengthAdjust="spacingAndGlyphs" >anti-Fc&#956;R CAR</text>
<line x1="201.50" y1="735.00" x2="214.60" y2="735.00" stroke="#1a1a1a" stroke-width="1.7" />
<circle cx="208.05" cy="735.00" r="2.5" fill="none" stroke="#1a1a1a" stroke-width="1.4"/>
<text x="218.20" y="737.40" font-size="8.3" text-anchor="start" fill="#1a1a1a" textLength="31.00" lengthAdjust="spacingAndGlyphs" >w/o CAR</text>
<text x="332.30" y="18.30" font-size="12.4" text-anchor="start" fill="#1a1a1a" font-weight="bold" >D</text>
<line x1="385.20" y1="26.30" x2="385.20" y2="112.05" stroke="#1a1a1a" stroke-width="1.3" />
<line x1="381.80" y1="111.40" x2="385.20" y2="111.40" stroke="#1a1a1a" stroke-width="1.3" />
<text x="379.40" y="114.53" font-size="8.7" text-anchor="end" fill="#1a1a1a" >0</text>
<line x1="381.80" y1="94.88" x2="385.20" y2="94.88" stroke="#1a1a1a" stroke-width="1.3" />
<text x="379.40" y="98.01" font-size="8.7" text-anchor="end" fill="#1a1a1a" >20</text>
<line x1="381.80" y1="78.36" x2="385.20" y2="78.36" stroke="#1a1a1a" stroke-width="1.3" />
<text x="379.40" y="81.49" font-size="8.7" text-anchor="end" fill="#1a1a1a" >40</text>
<line x1="381.80" y1="61.84" x2="385.20" y2="61.84" stroke="#1a1a1a" stroke-width="1.3" />
<text x="379.40" y="64.97" font-size="8.7" text-anchor="end" fill="#1a1a1a" >60</text>
<line x1="381.80" y1="45.32" x2="385.20" y2="45.32" stroke="#1a1a1a" stroke-width="1.3" />
<text x="379.40" y="48.45" font-size="8.7" text-anchor="end" fill="#1a1a1a" >80</text>
<line x1="381.80" y1="28.80" x2="385.20" y2="28.80" stroke="#1a1a1a" stroke-width="1.3" />
<text x="379.40" y="31.93" font-size="8.7" text-anchor="end" fill="#1a1a1a" >100</text>
<rect x="388.05" y="35.75" width="14.30" height="75.65" fill="#000" />
<rect x="408.75" y="36.25" width="14.30" height="75.15" fill="#000" />
<rect x="429.45" y="38.75" width="14.30" height="72.65" fill="#000" />
<rect x="450.05" y="44.25" width="14.30" height="67.15" fill="#000" />
<rect x="470.75" y="42.00" width="14.30" height="69.40" fill="#000" />
<rect x="491.35" y="34.50" width="14.30" height="76.90" fill="#000" />
<line x1="395.20" y1="33.00" x2="395.20" y2="36.25" stroke="#1a1a1a" stroke-width="1.0" />
<line x1="392.00" y1="33.00" x2="398.40" y2="33.00" stroke="#1a1a1a" stroke-width="1.0" />
<line x1="415.90" y1="35.50" x2="415.90" y2="36.75" stroke="#1a1a1a" stroke-width="1.0" />
<line x1="412.70" y1="35.50" x2="419.10" y2="35.50" stroke="#1a1a1a" stroke-width="1.0" />
<line x1="436.60" y1="38.00" x2="436.60" y2="39.25" stroke="#1a1a1a" stroke-width="1.0" />
<line x1="433.40" y1="38.00" x2="439.80" y2="38.00" stroke="#1a1a1a" stroke-width="1.0" />
<line x1="457.20" y1="42.00" x2="457.20" y2="44.75" stroke="#1a1a1a" stroke-width="1.0" />
<line x1="454.00" y1="42.00" x2="460.40" y2="42.00" stroke="#1a1a1a" stroke-width="1.0" />
<line x1="477.90" y1="40.70" x2="477.90" y2="42.50" stroke="#1a1a1a" stroke-width="1.0" />
<line x1="474.70" y1="40.70" x2="481.10" y2="40.70" stroke="#1a1a1a" stroke-width="1.0" />
<line x1="498.50" y1="33.70" x2="498.50" y2="35.00" stroke="#1a1a1a" stroke-width="1.0" />
<line x1="495.30" y1="33.70" x2="501.70" y2="33.70" stroke="#1a1a1a" stroke-width="1.0" />
<line x1="384.60" y1="111.40" x2="509.00" y2="111.40" stroke="#1a1a1a" stroke-width="1.3" />
<line x1="395.20" y1="111.40" x2="395.20" y2="113.60" stroke="#1a1a1a" stroke-width="1.3" />
<line x1="415.90" y1="111.40" x2="415.90" y2="113.60" stroke="#1a1a1a" stroke-width="1.3" />
<line x1="436.60" y1="111.40" x2="436.60" y2="113.60" stroke="#1a1a1a" stroke-width="1.3" />
<line x1="457.20" y1="111.40" x2="457.20" y2="113.60" stroke="#1a1a1a" stroke-width="1.3" />
<line x1="477.90" y1="111.40" x2="477.90" y2="113.60" stroke="#1a1a1a" stroke-width="1.3" />
<line x1="498.50" y1="111.40" x2="498.50" y2="113.60" stroke="#1a1a1a" stroke-width="1.3" />
<text x="395.20" y="125.00" font-size="8.7" text-anchor="middle" fill="#1a1a1a" >1.8</text>
<text x="415.90" y="125.00" font-size="8.7" text-anchor="middle" fill="#1a1a1a" >0.6</text>
<text x="436.60" y="125.00" font-size="8.7" text-anchor="middle" fill="#1a1a1a" >0.2</text>
<text x="457.20" y="125.00" font-size="8.7" text-anchor="middle" fill="#1a1a1a" >0.06</text>
<text x="477.90" y="125.00" font-size="8.7" text-anchor="middle" fill="#1a1a1a" >0.02</text>
<text x="498.50" y="125.00" font-size="8.7" text-anchor="middle" fill="#1a1a1a" >w/o</text>
<text x="446.20" y="138.80" font-size="10.3" text-anchor="middle" fill="#1a1a1a" textLength="67.00" lengthAdjust="spacingAndGlyphs" >Fc&#956;R-Fc [&#956;g/ml]</text>
<text transform="translate(358.30,68.60) rotate(-90)" font-size="10.4" text-anchor="middle" fill="#1a1a1a" textLength="70.50" lengthAdjust="spacingAndGlyphs" >Specific lysis [%]</text>
<line x1="385.20" y1="154.20" x2="385.20" y2="224.65" stroke="#1a1a1a" stroke-width="1.3" />
<line x1="381.80" y1="224.00" x2="385.20" y2="224.00" stroke="#1a1a1a" stroke-width="1.3" />
<text x="379.40" y="227.13" font-size="8.7" text-anchor="end" fill="#1a1a1a" >0</text>
<line x1="381.80" y1="210.70" x2="385.20" y2="210.70" stroke="#1a1a1a" stroke-width="1.3" />
<text x="379.40" y="213.83" font-size="8.7" text-anchor="end" fill="#1a1a1a" >200</text>
<line x1="381.80" y1="197.40" x2="385.20" y2="197.40" stroke="#1a1a1a" stroke-width="1.3" />
<text x="379.40" y="200.53" font-size="8.7" text-anchor="end" fill="#1a1a1a" >400</text>
<line x1="381.80" y1="184.10" x2="385.20" y2="184.10" stroke="#1a1a1a" stroke-width="1.3" />
<text x="379.40" y="187.23" font-size="8.7" text-anchor="end" fill="#1a1a1a" >600</text>
<line x1="381.80" y1="170.80" x2="385.20" y2="170.80" stroke="#1a1a1a" stroke-width="1.3" />
<text x="379.40" y="173.93" font-size="8.7" text-anchor="end" fill="#1a1a1a" >800</text>
<line x1="381.80" y1="157.50" x2="385.20" y2="157.50" stroke="#1a1a1a" stroke-width="1.3" />
<text x="379.40" y="160.63" font-size="8.7" text-anchor="end" fill="#1a1a1a" >1000</text>
<rect x="391.00" y="172.00" width="13.20" height="52.00" fill="#000" />
<rect x="416.15" y="169.90" width="13.20" height="54.10" fill="#000" />
<rect x="441.20" y="170.00" width="13.20" height="54.00" fill="#000" />
<rect x="466.10" y="166.60" width="13.20" height="57.40" fill="#000" />
<line x1="397.60" y1="170.30" x2="397.60" y2="172.50" stroke="#1a1a1a" stroke-width="1.0" />
<line x1="394.40" y1="170.30" x2="400.80" y2="170.30" stroke="#1a1a1a" stroke-width="1.0" />
<line x1="422.75" y1="169.40" x2="422.75" y2="170.40" stroke="#1a1a1a" stroke-width="1.0" />
<line x1="419.55" y1="169.40" x2="425.95" y2="169.40" stroke="#1a1a1a" stroke-width="1.0" />
<line x1="447.80" y1="169.50" x2="447.80" y2="170.50" stroke="#1a1a1a" stroke-width="1.0" />
<line x1="444.60" y1="169.50" x2="451.00" y2="169.50" stroke="#1a1a1a" stroke-width="1.0" />
<line x1="472.70" y1="165.20" x2="472.70" y2="167.10" stroke="#1a1a1a" stroke-width="1.0" />
<line x1="469.50" y1="165.20" x2="475.90" y2="165.20" stroke="#1a1a1a" stroke-width="1.0" />
<line x1="384.60" y1="224.00" x2="485.00" y2="224.00" stroke="#1a1a1a" stroke-width="1.3" />
<line x1="397.60" y1="224.00" x2="397.60" y2="226.20" stroke="#1a1a1a" stroke-width="1.3" />
<line x1="422.75" y1="224.00" x2="422.75" y2="226.20" stroke="#1a1a1a" stroke-width="1.3" />
<line x1="447.80" y1="224.00" x2="447.80" y2="226.20" stroke="#1a1a1a" stroke-width="1.3" />
<line x1="472.70" y1="224.00" x2="472.70" y2="226.20" stroke="#1a1a1a" stroke-width="1.3" />
<text x="397.60" y="239.00" font-size="8.7" text-anchor="middle" fill="#1a1a1a" >1:1</text>
<text x="422.75" y="239.00" font-size="8.7" text-anchor="middle" fill="#1a1a1a" >1:10</text>
<text x="447.80" y="239.00" font-size="8.7" text-anchor="middle" fill="#1a1a1a" >1:50</text>
<text x="472.70" y="239.00" font-size="8.7" text-anchor="middle" fill="#1a1a1a" >w/o</text>
<line x1="385.80" y1="243.50" x2="481.60" y2="243.50" stroke="#1a1a1a" stroke-width="1.1" />
<text x="433.70" y="255.80" font-size="10.3" text-anchor="middle" fill="#1a1a1a" textLength="31.30" lengthAdjust="spacingAndGlyphs" >Fc&#956;R-Fc</text>
<text transform="translate(353.50,188.70) rotate(-90)" font-size="10.3" text-anchor="middle" fill="#1a1a1a" textLength="20.30" lengthAdjust="spacingAndGlyphs" >M F I</text>
<line x1="384.60" y1="270.40" x2="384.60" y2="355.95" stroke="#1a1a1a" stroke-width="1.3" />
<line x1="381.20" y1="355.30" x2="384.60" y2="355.30" stroke="#1a1a1a" stroke-width="1.3" />
<text x="378.80" y="358.43" font-size="8.7" text-anchor="end" fill="#1a1a1a" >0.0</text>
<line x1="381.20" y1="341.53" x2="384.60" y2="341.53" stroke="#1a1a1a" stroke-width="1.3" />
<text x="378.80" y="344.66" font-size="8.7" text-anchor="end" fill="#1a1a1a" >0.2</text>
<line x1="381.20" y1="327.76" x2="384.60" y2="327.76" stroke="#1a1a1a" stroke-width="1.3" />
<text x="378.80" y="330.89" font-size="8.7" text-anchor="end" fill="#1a1a1a" >0.4</text>
<line x1="381.20" y1="313.99" x2="384.60" y2="313.99" stroke="#1a1a1a" stroke-width="1.3" />
<text x="378.80" y="317.12" font-size="8.7" text-anchor="end" fill="#1a1a1a" >0.6</text>
<line x1="381.20" y1="300.22" x2="384.60" y2="300.22" stroke="#1a1a1a" stroke-width="1.3" />
<text x="378.80" y="303.35" font-size="8.7" text-anchor="end" fill="#1a1a1a" >0.8</text>
<line x1="381.20" y1="286.45" x2="384.60" y2="286.45" stroke="#1a1a1a" stroke-width="1.3" />
<text x="378.80" y="289.58" font-size="8.7" text-anchor="end" fill="#1a1a1a" >1.0</text>
<line x1="381.20" y1="272.68" x2="384.60" y2="272.68" stroke="#1a1a1a" stroke-width="1.3" />
<text x="378.80" y="275.81" font-size="8.7" text-anchor="end" fill="#1a1a1a" >1.2</text>
<rect x="389.60" y="337.00" width="11.20" height="18.30" fill="#000" />
<rect x="410.10" y="318.60" width="11.20" height="36.70" fill="#000" />
<rect x="430.50" y="308.20" width="11.20" height="47.10" fill="#000" />
<rect x="451.10" y="295.00" width="11.20" height="60.30" fill="#000" />
<rect x="471.60" y="282.80" width="11.20" height="72.50" fill="#000" />
<rect x="492.00" y="341.70" width="11.20" height="13.60" fill="#6e6e6e" />
<line x1="395.20" y1="336.50" x2="395.20" y2="337.50" stroke="#1a1a1a" stroke-width="1.0" />
<line x1="390.60" y1="336.50" x2="399.80" y2="336.50" stroke="#1a1a1a" stroke-width="1.0" />
<line x1="415.70" y1="318.00" x2="415.70" y2="319.10" stroke="#1a1a1a" stroke-width="1.0" />
<line x1="411.10" y1="318.00" x2="420.30" y2="318.00" stroke="#1a1a1a" stroke-width="1.0" />
<line x1="436.10" y1="307.60" x2="436.10" y2="308.70" stroke="#1a1a1a" stroke-width="1.0" />
<line x1="431.50" y1="307.60" x2="440.70" y2="307.60" stroke="#1a1a1a" stroke-width="1.0" />
<line x1="456.70" y1="294.30" x2="456.70" y2="295.50" stroke="#1a1a1a" stroke-width="1.0" />
<line x1="452.10" y1="294.30" x2="461.30" y2="294.30" stroke="#1a1a1a" stroke-width="1.0" />
<line x1="477.20" y1="281.90" x2="477.20" y2="283.30" stroke="#1a1a1a" stroke-width="1.0" />
<line x1="472.60" y1="281.90" x2="481.80" y2="281.90" stroke="#1a1a1a" stroke-width="1.0" />
<line x1="497.60" y1="341.00" x2="497.60" y2="342.20" stroke="#1a1a1a" stroke-width="1.0" />
<line x1="493.00" y1="341.00" x2="502.20" y2="341.00" stroke="#1a1a1a" stroke-width="1.0" />
<line x1="384.00" y1="355.30" x2="507.00" y2="355.30" stroke="#1a1a1a" stroke-width="1.3" />
<line x1="395.20" y1="355.30" x2="395.20" y2="357.50" stroke="#1a1a1a" stroke-width="1.3" />
<line x1="415.70" y1="355.30" x2="415.70" y2="357.50" stroke="#1a1a1a" stroke-width="1.3" />
<line x1="436.10" y1="355.30" x2="436.10" y2="357.50" stroke="#1a1a1a" stroke-width="1.3" />
<line x1="456.70" y1="355.30" x2="456.70" y2="357.50" stroke="#1a1a1a" stroke-width="1.3" />
<line x1="477.20" y1="355.30" x2="477.20" y2="357.50" stroke="#1a1a1a" stroke-width="1.3" />
<line x1="497.60" y1="355.30" x2="497.60" y2="357.50" stroke="#1a1a1a" stroke-width="1.3" />
<text transform="translate(399.50,364.30) rotate(-45)" font-size="8.7" text-anchor="end" fill="#1a1a1a" >0.035</text>
<text transform="translate(420.00,364.30) rotate(-45)" font-size="8.7" text-anchor="end" fill="#1a1a1a" >0.175</text>
<text transform="translate(440.40,364.30) rotate(-45)" font-size="8.7" text-anchor="end" fill="#1a1a1a" >0.35</text>
<text transform="translate(461.00,364.30) rotate(-45)" font-size="8.7" text-anchor="end" fill="#1a1a1a" >0.70</text>
<text transform="translate(481.50,364.30) rotate(-45)" font-size="8.7" text-anchor="end" fill="#1a1a1a" >3.5</text>
<text transform="translate(501.90,364.30) rotate(-45)" font-size="8.7" text-anchor="end" fill="#1a1a1a" >3.5</text>
<text x="446.00" y="395.00" font-size="10.3" text-anchor="middle" fill="#1a1a1a" textLength="67.00" lengthAdjust="spacingAndGlyphs" >Fc&#956;R-Fc [ng/ml]</text>
<line x1="386.20" y1="401.20" x2="481.90" y2="401.20" stroke="#1a1a1a" stroke-width="1.1" />
<line x1="487.10" y1="401.20" x2="509.60" y2="401.20" stroke="#1a1a1a" stroke-width="1.1" />
<text x="434.80" y="413.00" font-size="10.3" text-anchor="middle" fill="#1a1a1a" textLength="69.50" lengthAdjust="spacingAndGlyphs" >anti-human IgG</text>
<text x="497.90" y="413.00" font-size="10.3" text-anchor="middle" fill="#1a1a1a" textLength="31.50" lengthAdjust="spacingAndGlyphs" >isotype</text>
<text transform="translate(361.00,312.70) rotate(-90)" font-size="10.4" text-anchor="middle" fill="#1a1a1a" textLength="77.00" lengthAdjust="spacingAndGlyphs" >OD [405 - 490 nm]</text>
<rect x="0.55" y="0.55" width="518.9" height="743.9" fill="none" stroke="#1a1a1a" stroke-width="1.1"/>
</svg>
</body></html>
